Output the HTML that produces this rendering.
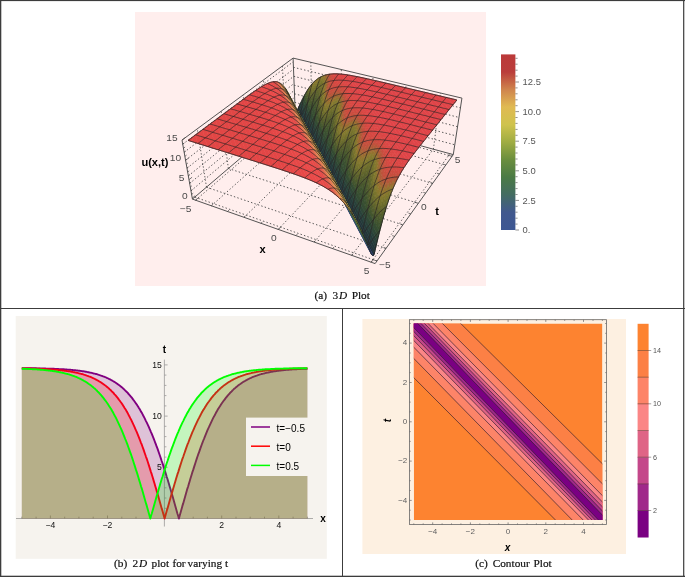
<!DOCTYPE html>
<html><head><meta charset="utf-8"><title>Figure</title>
<style>html,body{margin:0;padding:0;background:#fff}svg{display:block}</style></head>
<body>
<svg width="685" height="577" viewBox="0 0 685 577">
<rect width="685" height="577" fill="#fff"/>
<rect x="135" y="12" width="351" height="274" fill="#ffeeed"/>
<g transform="translate(135,12) scale(1.1086,1)">
<g stroke="#505050" stroke-width="0.9" stroke-dasharray="1.3 2" fill="none">
<line x1="54.6" y1="188.2" x2="147.0" y2="100.4" />
<line x1="54.0" y1="185.1" x2="218.3" y2="249.0" />
<line x1="68.9" y1="193.8" x2="159.5" y2="104.2" />
<line x1="64.5" y1="175.2" x2="226.4" y2="236.4" />
<line x1="159.5" y1="104.2" x2="158.6" y2="50.3" />
<line x1="64.5" y1="175.2" x2="56.2" y2="116.8" />
<line x1="98.4" y1="205.3" x2="185.4" y2="112.0" />
<line x1="84.2" y1="156.5" x2="241.7" y2="212.9" />
<line x1="185.4" y1="112.0" x2="186.1" y2="57.5" />
<line x1="84.2" y1="156.5" x2="77.8" y2="99.2" />
<line x1="129.2" y1="217.4" x2="212.3" y2="120.1" />
<line x1="102.6" y1="139.2" x2="255.6" y2="191.3" />
<line x1="212.3" y1="120.1" x2="214.7" y2="65.0" />
<line x1="102.6" y1="139.2" x2="97.6" y2="82.9" />
<line x1="161.6" y1="230.0" x2="240.2" y2="128.4" />
<line x1="119.6" y1="123.1" x2="268.5" y2="171.4" />
<line x1="240.2" y1="128.4" x2="244.5" y2="72.9" />
<line x1="119.6" y1="123.1" x2="115.9" y2="67.9" />
<line x1="195.5" y1="243.3" x2="269.2" y2="137.2" />
<line x1="135.5" y1="108.1" x2="280.4" y2="153.0" />
<line x1="269.2" y1="137.2" x2="275.6" y2="81.0" />
<line x1="135.5" y1="108.1" x2="133.0" y2="54.0" />
<line x1="213.0" y1="250.2" x2="284.1" y2="141.7" />
<line x1="143.0" y1="101.0" x2="286.0" y2="144.3" />
<line x1="144.1" y1="90.3" x2="288.5" y2="132.8" />
<line x1="143.8" y1="81.8" x2="289.7" y2="123.9" />
<line x1="143.5" y1="73.2" x2="291.0" y2="114.7" />
<line x1="143.2" y1="64.3" x2="292.2" y2="105.4" />
<line x1="142.9" y1="55.3" x2="293.6" y2="95.8" />
<line x1="50.5" y1="178.8" x2="144.2" y2="92.0" />
<line x1="49.3" y1="171.4" x2="144.0" y2="85.3" />
<line x1="48.1" y1="163.9" x2="143.7" y2="78.4" />
<line x1="46.9" y1="156.2" x2="143.5" y2="71.4" />
<line x1="45.6" y1="148.3" x2="143.2" y2="64.3" />
<line x1="44.3" y1="140.3" x2="143.0" y2="57.1" />
<line x1="43.0" y1="132.2" x2="142.7" y2="49.8" />
</g>
<g stroke="#4a4a4a" stroke-width="0.9" fill="none">
<line x1="51.8" y1="187.1" x2="216.6" y2="251.6" />
<line x1="216.6" y1="251.6" x2="287.1" y2="142.6" />
<line x1="287.1" y1="142.6" x2="144.5" y2="99.6" />
<line x1="144.5" y1="99.6" x2="51.8" y2="187.1" />
<line x1="51.8" y1="187.1" x2="42.4" y2="128.1" />
<line x1="144.5" y1="99.6" x2="142.6" y2="46.1" />
<line x1="287.1" y1="142.6" x2="294.9" y2="86.1" />
<line x1="42.4" y1="128.1" x2="142.6" y2="46.1" />
<line x1="142.6" y1="46.1" x2="294.9" y2="86.1" />
</g>
<g stroke-width="0.6" stroke-linejoin="round">
<polygon points="285.7,86.7 288.7,90.3 290.3,88.0 290.3,88.0" fill="#e04448" stroke="#e04448"/>
<polygon points="281.1,85.5 287.0,92.6 288.7,90.3 285.7,86.7" fill="#e04448" stroke="#e04448"/>
<polygon points="276.5,84.3 285.3,94.9 287.0,92.6 281.1,85.5" fill="#e04448" stroke="#e04448"/>
<polygon points="272.1,83.1 283.6,97.2 285.3,94.9 276.5,84.3" fill="#e04448" stroke="#e04448"/>
<polygon points="267.7,82.0 281.9,99.6 283.6,97.2 272.1,83.1" fill="#e04448" stroke="#e04448"/>
<polygon points="263.4,80.8 280.2,101.9 281.9,99.6 267.7,82.0" fill="#e04448" stroke="#e04448"/>
<polygon points="259.2,79.7 278.5,104.2 280.2,101.9 263.4,80.8" fill="#e04448" stroke="#e04448"/>
<polygon points="255.1,78.6 276.9,106.5 278.5,104.2 259.2,79.7" fill="#e04448" stroke="#e04448"/>
<polygon points="251.0,77.6 275.2,108.8 276.9,106.5 255.1,78.6" fill="#e04448" stroke="#e04448"/>
<polygon points="247.0,76.5 273.5,111.1 275.2,108.8 251.0,77.6" fill="#e04448" stroke="#e04448"/>
<polygon points="243.1,75.5 271.9,113.4 273.5,111.1 247.0,76.5" fill="#e04448" stroke="#e04448"/>
<polygon points="239.3,74.5 270.2,115.7 271.9,113.4 243.1,75.5" fill="#e04448" stroke="#e04448"/>
<polygon points="235.5,73.5 268.5,118.0 270.2,115.7 239.3,74.5" fill="#e04448" stroke="#e04448"/>
<polygon points="231.8,72.5 266.9,120.3 268.5,118.0 235.5,73.5" fill="#e04448" stroke="#e04448"/>
<polygon points="228.2,71.6 265.2,122.5 266.9,120.3 231.8,72.5" fill="#e04448" stroke="#e04448"/>
<polygon points="224.6,70.6 263.6,124.8 265.2,122.5 228.2,71.6" fill="#e04448" stroke="#e04448"/>
<polygon points="221.1,69.7 262.0,127.1 263.6,124.8 224.6,70.6" fill="#e04448" stroke="#e04448"/>
<polygon points="217.7,68.9 260.3,129.3 262.0,127.1 221.1,69.7" fill="#e04448" stroke="#e04448"/>
<polygon points="214.4,68.0 258.7,131.6 260.3,129.3 217.7,68.9" fill="#e04448" stroke="#e04448"/>
<polygon points="211.1,67.2 257.1,133.8 258.7,131.6 214.4,68.0" fill="#e04448" stroke="#e04448"/>
<polygon points="207.9,66.4 255.5,136.1 257.1,133.8 211.1,67.2" fill="#e04448" stroke="#e04448"/>
<polygon points="204.8,65.6 253.9,138.3 255.5,136.1 207.9,66.4" fill="#e04448" stroke="#e04448"/>
<polygon points="201.7,64.9 252.4,140.6 253.9,138.3 204.8,65.6" fill="#e04448" stroke="#e04448"/>
<polygon points="198.7,64.3 250.8,142.8 252.4,140.6 201.7,64.9" fill="#e04448" stroke="#e04448"/>
<polygon points="195.8,63.7 249.3,145.1 250.8,142.8 198.7,64.3" fill="#e04448" stroke="#e04448"/>
<polygon points="193.0,63.1 247.7,147.4 249.3,145.1 195.8,63.7" fill="#e04448" stroke="#e04448"/>
<polygon points="190.2,62.6 246.2,149.8 247.7,147.4 193.0,63.1" fill="#df4547" stroke="#df4547"/>
<polygon points="187.5,62.3 244.7,152.2 246.2,149.8 190.2,62.6" fill="#df4547" stroke="#df4547"/>
<polygon points="184.8,62.0 186.0,63.9 188.7,64.1 187.5,62.3" fill="#de4546" stroke="#de4546"/>
<polygon points="186.0,63.9 187.2,65.8 189.9,66.0 188.7,64.1" fill="#de4546" stroke="#de4546"/>
<polygon points="187.2,65.8 188.5,67.8 191.1,67.9 189.9,66.0" fill="#de4546" stroke="#de4546"/>
<polygon points="188.5,67.8 189.7,69.8 192.3,69.9 191.1,67.9" fill="#de4546" stroke="#de4546"/>
<polygon points="189.7,69.8 191.0,71.8 193.5,71.8 192.3,69.9" fill="#de4546" stroke="#de4546"/>
<polygon points="191.0,71.8 192.2,73.8 194.8,73.8 193.5,71.8" fill="#de4546" stroke="#de4546"/>
<polygon points="192.2,73.8 193.5,75.8 196.0,75.8 194.8,73.8" fill="#de4546" stroke="#de4546"/>
<polygon points="193.5,75.8 194.8,77.9 197.3,77.8 196.0,75.8" fill="#de4546" stroke="#de4546"/>
<polygon points="194.8,77.9 196.1,80.0 198.6,79.8 197.3,77.8" fill="#de4546" stroke="#de4546"/>
<polygon points="196.1,80.0 197.5,82.1 199.9,81.8 198.6,79.8" fill="#de4546" stroke="#de4546"/>
<polygon points="197.5,82.1 198.8,84.2 201.2,83.9 199.9,81.8" fill="#de4546" stroke="#de4546"/>
<polygon points="198.8,84.2 200.2,86.3 202.6,86.0 201.2,83.9" fill="#de4546" stroke="#de4546"/>
<polygon points="200.2,86.3 201.5,88.5 203.9,88.1 202.6,86.0" fill="#de4546" stroke="#de4546"/>
<polygon points="201.5,88.5 202.9,90.7 205.3,90.3 203.9,88.1" fill="#de4546" stroke="#de4546"/>
<polygon points="202.9,90.7 204.3,92.9 206.7,92.4 205.3,90.3" fill="#de4546" stroke="#de4546"/>
<polygon points="204.3,92.9 205.7,95.2 208.0,94.6 206.7,92.4" fill="#de4546" stroke="#de4546"/>
<polygon points="205.7,95.2 207.2,97.5 209.4,96.8 208.0,94.6" fill="#de4546" stroke="#de4546"/>
<polygon points="207.2,97.5 208.6,99.8 210.9,99.0 209.4,96.8" fill="#de4546" stroke="#de4546"/>
<polygon points="208.6,99.8 210.1,102.1 212.3,101.3 210.9,99.0" fill="#de4546" stroke="#de4546"/>
<polygon points="210.1,102.1 211.5,104.4 213.8,103.6 212.3,101.3" fill="#de4546" stroke="#de4546"/>
<polygon points="211.5,104.4 213.0,106.8 215.2,105.9 213.8,103.6" fill="#de4546" stroke="#de4546"/>
<polygon points="213.0,106.8 214.6,109.2 216.7,108.2 215.2,105.9" fill="#de4546" stroke="#de4546"/>
<polygon points="214.6,109.2 216.1,111.6 218.2,110.6 216.7,108.2" fill="#de4546" stroke="#de4546"/>
<polygon points="216.1,111.6 217.6,114.1 219.7,113.0 218.2,110.6" fill="#de4546" stroke="#de4546"/>
<polygon points="217.6,114.1 219.2,116.6 221.3,115.4 219.7,113.0" fill="#de4546" stroke="#de4546"/>
<polygon points="219.2,116.6 220.8,119.1 222.8,117.8 221.3,115.4" fill="#de4546" stroke="#de4546"/>
<polygon points="220.8,119.1 222.4,121.6 224.4,120.3 222.8,117.8" fill="#de4546" stroke="#de4546"/>
<polygon points="222.4,121.6 224.0,124.2 226.0,122.8 224.4,120.3" fill="#de4546" stroke="#de4546"/>
<polygon points="224.0,124.2 225.7,126.8 227.6,125.3 226.0,122.8" fill="#de4546" stroke="#de4546"/>
<polygon points="225.7,126.8 227.3,129.5 229.2,127.8 227.6,125.3" fill="#de4546" stroke="#de4546"/>
<polygon points="227.3,129.5 229.0,132.1 230.8,130.4 229.2,127.8" fill="#de4546" stroke="#de4546"/>
<polygon points="229.0,132.1 230.7,134.8 232.5,133.0 230.8,130.4" fill="#de4546" stroke="#de4546"/>
<polygon points="230.7,134.8 232.4,137.6 234.2,135.7 232.5,133.0" fill="#de4546" stroke="#de4546"/>
<polygon points="232.4,137.6 234.2,140.3 235.9,138.3 234.2,135.7" fill="#de4546" stroke="#de4546"/>
<polygon points="234.2,140.3 235.9,143.1 237.6,141.1 235.9,138.3" fill="#de4546" stroke="#de4546"/>
<polygon points="235.9,143.1 237.7,146.0 239.3,143.8 237.6,141.1" fill="#de4546" stroke="#de4546"/>
<polygon points="237.7,146.0 239.5,148.8 241.1,146.6 239.3,143.8" fill="#de4546" stroke="#de4546"/>
<polygon points="239.5,148.8 241.4,151.8 242.9,149.4 241.1,146.6" fill="#de4546" stroke="#de4546"/>
<polygon points="241.4,151.8 243.2,154.7 244.7,152.2 242.9,149.4" fill="#de4546" stroke="#de4546"/>
<polygon points="182.2,61.8 183.4,63.7 186.0,63.9 184.8,62.0" fill="#dc4645" stroke="#dc4645"/>
<polygon points="183.4,63.7 184.6,65.7 187.2,65.7 186.0,63.9" fill="#dc4645" stroke="#dc4645"/>
<polygon points="184.6,65.7 185.9,67.6 188.4,67.6 187.2,65.7" fill="#dc4645" stroke="#dc4645"/>
<polygon points="185.9,67.6 187.1,69.6 189.6,69.6 188.4,67.6" fill="#dc4645" stroke="#dc4645"/>
<polygon points="187.1,69.6 188.3,71.6 190.8,71.5 189.6,69.6" fill="#dc4645" stroke="#dc4645"/>
<polygon points="188.3,71.6 189.6,73.6 192.1,73.5 190.8,71.5" fill="#dc4645" stroke="#dc4645"/>
<polygon points="189.6,73.6 190.8,75.6 193.3,75.5 192.1,73.5" fill="#db4644" stroke="#db4644"/>
<polygon points="190.8,75.6 192.1,77.7 194.6,77.5 193.3,75.5" fill="#db4644" stroke="#db4644"/>
<polygon points="192.1,77.7 193.4,79.8 195.8,79.5 194.6,77.5" fill="#dc4645" stroke="#dc4645"/>
<polygon points="193.4,79.8 194.7,81.9 197.1,81.5 195.8,79.5" fill="#dc4645" stroke="#dc4645"/>
<polygon points="194.7,81.9 196.1,84.0 198.4,83.6 197.1,81.5" fill="#dc4645" stroke="#dc4645"/>
<polygon points="196.1,84.0 197.4,86.1 199.8,85.7 198.4,83.6" fill="#dc4645" stroke="#dc4645"/>
<polygon points="197.4,86.1 198.7,88.3 201.1,87.8 199.8,85.7" fill="#dc4645" stroke="#dc4645"/>
<polygon points="198.7,88.3 200.1,90.5 202.4,89.9 201.1,87.8" fill="#dc4645" stroke="#dc4645"/>
<polygon points="200.1,90.5 201.5,92.7 203.8,92.1 202.4,89.9" fill="#dc4645" stroke="#dc4645"/>
<polygon points="201.5,92.7 202.9,94.9 205.2,94.3 203.8,92.1" fill="#dc4645" stroke="#dc4645"/>
<polygon points="202.9,94.9 204.3,97.2 206.5,96.5 205.2,94.3" fill="#dc4645" stroke="#dc4645"/>
<polygon points="204.3,97.2 205.7,99.5 208.0,98.7 206.5,96.5" fill="#dc4645" stroke="#dc4645"/>
<polygon points="205.7,99.5 207.2,101.8 209.4,101.0 208.0,98.7" fill="#db4644" stroke="#db4644"/>
<polygon points="207.2,101.8 208.6,104.2 210.8,103.2 209.4,101.0" fill="#dc4645" stroke="#dc4645"/>
<polygon points="208.6,104.2 210.1,106.5 212.3,105.6 210.8,103.2" fill="#dc4645" stroke="#dc4645"/>
<polygon points="210.1,106.5 211.6,108.9 213.7,107.9 212.3,105.6" fill="#dc4645" stroke="#dc4645"/>
<polygon points="211.6,108.9 213.1,111.4 215.2,110.2 213.7,107.9" fill="#dc4645" stroke="#dc4645"/>
<polygon points="213.1,111.4 214.6,113.8 216.7,112.6 215.2,110.2" fill="#dc4645" stroke="#dc4645"/>
<polygon points="214.6,113.8 216.2,116.3 218.2,115.0 216.7,112.6" fill="#dc4645" stroke="#dc4645"/>
<polygon points="216.2,116.3 217.7,118.8 219.8,117.5 218.2,115.0" fill="#dc4645" stroke="#dc4645"/>
<polygon points="217.7,118.8 219.3,121.3 221.3,119.9 219.8,117.5" fill="#dc4645" stroke="#dc4645"/>
<polygon points="219.3,121.3 220.9,123.9 222.9,122.4 221.3,119.9" fill="#dc4645" stroke="#dc4645"/>
<polygon points="220.9,123.9 222.6,126.5 224.5,124.9 222.9,122.4" fill="#dc4645" stroke="#dc4645"/>
<polygon points="222.6,126.5 224.2,129.1 226.1,127.5 224.5,124.9" fill="#db4644" stroke="#db4644"/>
<polygon points="224.2,129.1 225.8,131.8 227.7,130.1 226.1,127.5" fill="#db4644" stroke="#db4644"/>
<polygon points="225.8,131.8 227.5,134.5 229.3,132.7 227.7,130.1" fill="#dc4645" stroke="#dc4645"/>
<polygon points="227.5,134.5 229.2,137.2 231.0,135.3 229.3,132.7" fill="#dc4645" stroke="#dc4645"/>
<polygon points="229.2,137.2 230.9,140.0 232.7,138.0 231.0,135.3" fill="#dc4645" stroke="#dc4645"/>
<polygon points="230.9,140.0 232.7,142.8 234.4,140.7 232.7,138.0" fill="#dc4645" stroke="#dc4645"/>
<polygon points="232.7,142.8 234.5,145.6 236.1,143.4 234.4,140.7" fill="#dc4645" stroke="#dc4645"/>
<polygon points="234.5,145.6 236.2,148.5 237.8,146.2 236.1,143.4" fill="#dc4645" stroke="#dc4645"/>
<polygon points="236.2,148.5 238.0,151.4 239.6,149.0 237.8,146.2" fill="#dc4645" stroke="#dc4645"/>
<polygon points="238.0,151.4 239.9,154.3 241.4,151.8 239.6,149.0" fill="#dc4645" stroke="#dc4645"/>
<polygon points="239.9,154.3 241.7,157.3 243.2,154.7 241.4,151.8" fill="#dc4645" stroke="#dc4645"/>
<polygon points="179.7,61.8 180.9,63.7 183.4,63.7 182.2,61.8" fill="#da4644" stroke="#da4644"/>
<polygon points="180.9,63.7 182.1,65.6 184.6,65.6 183.4,63.7" fill="#db4644" stroke="#db4644"/>
<polygon points="182.1,65.6 183.3,67.6 185.8,67.5 184.6,65.6" fill="#db4644" stroke="#db4644"/>
<polygon points="183.3,67.6 184.5,69.5 187.0,69.4 185.8,67.5" fill="#da4644" stroke="#da4644"/>
<polygon points="184.5,69.5 185.7,71.5 188.2,71.3 187.0,69.4" fill="#da4643" stroke="#da4643"/>
<polygon points="185.7,71.5 187.0,73.5 189.4,73.3 188.2,71.3" fill="#d94743" stroke="#d94743"/>
<polygon points="187.0,73.5 188.2,75.6 190.6,75.3 189.4,73.3" fill="#d94743" stroke="#d94743"/>
<polygon points="188.2,75.6 189.5,77.6 191.9,77.3 190.6,75.3" fill="#d94742" stroke="#d94742"/>
<polygon points="189.5,77.6 190.8,79.7 193.1,79.3 191.9,77.3" fill="#d94742" stroke="#d94742"/>
<polygon points="190.8,79.7 192.1,81.8 194.4,81.4 193.1,79.3" fill="#d94743" stroke="#d94743"/>
<polygon points="192.1,81.8 193.4,83.9 195.7,83.4 194.4,81.4" fill="#da4743" stroke="#da4743"/>
<polygon points="193.4,83.9 194.7,86.0 197.0,85.5 195.7,83.4" fill="#da4643" stroke="#da4643"/>
<polygon points="194.7,86.0 196.0,88.2 198.3,87.6 197.0,85.5" fill="#db4644" stroke="#db4644"/>
<polygon points="196.0,88.2 197.4,90.4 199.6,89.7 198.3,87.6" fill="#db4644" stroke="#db4644"/>
<polygon points="197.4,90.4 198.7,92.6 201.0,91.9 199.6,89.7" fill="#db4644" stroke="#db4644"/>
<polygon points="198.7,92.6 200.1,94.8 202.3,94.1 201.0,91.9" fill="#da4644" stroke="#da4644"/>
<polygon points="200.1,94.8 201.5,97.1 203.7,96.3 202.3,94.1" fill="#da4743" stroke="#da4743"/>
<polygon points="201.5,97.1 202.9,99.4 205.1,98.5 203.7,96.3" fill="#d94743" stroke="#d94743"/>
<polygon points="202.9,99.4 204.3,101.7 206.5,100.7 205.1,98.5" fill="#d94743" stroke="#d94743"/>
<polygon points="204.3,101.7 205.8,104.0 207.9,103.0 206.5,100.7" fill="#d94742" stroke="#d94742"/>
<polygon points="205.8,104.0 207.2,106.4 209.3,105.3 207.9,103.0" fill="#d94743" stroke="#d94743"/>
<polygon points="207.2,106.4 208.7,108.8 210.8,107.6 209.3,105.3" fill="#d94743" stroke="#d94743"/>
<polygon points="208.7,108.8 210.2,111.2 212.3,110.0 210.8,107.6" fill="#da4643" stroke="#da4643"/>
<polygon points="210.2,111.2 211.7,113.6 213.7,112.4 212.3,110.0" fill="#da4644" stroke="#da4644"/>
<polygon points="211.7,113.6 213.2,116.1 215.2,114.8 213.7,112.4" fill="#db4644" stroke="#db4644"/>
<polygon points="213.2,116.1 214.8,118.6 216.8,117.2 215.2,114.8" fill="#db4644" stroke="#db4644"/>
<polygon points="214.8,118.6 216.3,121.1 218.3,119.7 216.8,117.2" fill="#da4644" stroke="#da4644"/>
<polygon points="216.3,121.1 217.9,123.7 219.8,122.1 218.3,119.7" fill="#da4643" stroke="#da4643"/>
<polygon points="217.9,123.7 219.5,126.3 221.4,124.7 219.8,122.1" fill="#d94743" stroke="#d94743"/>
<polygon points="219.5,126.3 221.1,128.9 223.0,127.2 221.4,124.7" fill="#d94743" stroke="#d94743"/>
<polygon points="221.1,128.9 222.8,131.6 224.6,129.8 223.0,127.2" fill="#d94742" stroke="#d94742"/>
<polygon points="222.8,131.6 224.4,134.2 226.2,132.4 224.6,129.8" fill="#d94742" stroke="#d94742"/>
<polygon points="224.4,134.2 226.1,137.0 227.9,135.0 226.2,132.4" fill="#d94743" stroke="#d94743"/>
<polygon points="226.1,137.0 227.8,139.7 229.5,137.7 227.9,135.0" fill="#d94743" stroke="#d94743"/>
<polygon points="227.8,139.7 229.5,142.5 231.2,140.4 229.5,137.7" fill="#da4643" stroke="#da4643"/>
<polygon points="229.5,142.5 231.2,145.3 232.9,143.1 231.2,140.4" fill="#da4644" stroke="#da4644"/>
<polygon points="231.2,145.3 233.0,148.2 234.6,145.9 232.9,143.1" fill="#db4644" stroke="#db4644"/>
<polygon points="233.0,148.2 234.8,151.0 236.4,148.7 234.6,145.9" fill="#db4644" stroke="#db4644"/>
<polygon points="234.8,151.0 236.6,154.0 238.1,151.5 236.4,148.7" fill="#da4644" stroke="#da4644"/>
<polygon points="236.6,154.0 238.4,156.9 239.9,154.4 238.1,151.5" fill="#da4643" stroke="#da4643"/>
<polygon points="238.4,156.9 240.3,159.9 241.7,157.3 239.9,154.4" fill="#d94743" stroke="#d94743"/>
<polygon points="177.3,61.9 178.5,63.8 180.9,63.7 179.7,61.8" fill="#d84742" stroke="#d84742"/>
<polygon points="178.5,63.8 179.6,65.8 182.1,65.5 180.9,63.7" fill="#d94743" stroke="#d94743"/>
<polygon points="179.6,65.8 180.8,67.7 183.2,67.4 182.1,65.5" fill="#d94743" stroke="#d94743"/>
<polygon points="180.8,67.7 182.0,69.7 184.4,69.4 183.2,67.4" fill="#d94743" stroke="#d94743"/>
<polygon points="182.0,69.7 183.2,71.6 185.6,71.3 184.4,69.4" fill="#d94743" stroke="#d94743"/>
<polygon points="183.2,71.6 184.5,73.6 186.8,73.3 185.6,71.3" fill="#d84742" stroke="#d84742"/>
<polygon points="184.5,73.6 185.7,75.7 188.0,75.2 186.8,73.3" fill="#d44841" stroke="#d44841"/>
<polygon points="185.7,75.7 186.9,77.7 189.3,77.2 188.0,75.2" fill="#d14a40" stroke="#d14a40"/>
<polygon points="186.9,77.7 188.2,79.8 190.5,79.2 189.3,77.2" fill="#d04a40" stroke="#d04a40"/>
<polygon points="188.2,79.8 189.5,81.9 191.8,81.3 190.5,79.2" fill="#d04a40" stroke="#d04a40"/>
<polygon points="189.5,81.9 190.8,84.0 193.0,83.3 191.8,81.3" fill="#d24940" stroke="#d24940"/>
<polygon points="190.8,84.0 192.1,86.1 194.3,85.4 193.0,83.3" fill="#d64841" stroke="#d64841"/>
<polygon points="192.1,86.1 193.4,88.3 195.6,87.5 194.3,85.4" fill="#d84742" stroke="#d84742"/>
<polygon points="193.4,88.3 194.7,90.4 196.9,89.7 195.6,87.5" fill="#d94743" stroke="#d94743"/>
<polygon points="194.7,90.4 196.0,92.6 198.2,91.8 196.9,89.7" fill="#d94743" stroke="#d94743"/>
<polygon points="196.0,92.6 197.4,94.9 199.6,94.0 198.2,91.8" fill="#d94743" stroke="#d94743"/>
<polygon points="197.4,94.9 198.8,97.1 200.9,96.2 199.6,94.0" fill="#d94742" stroke="#d94742"/>
<polygon points="198.8,97.1 200.2,99.4 202.3,98.4 200.9,96.2" fill="#d64842" stroke="#d64842"/>
<polygon points="200.2,99.4 201.6,101.7 203.7,100.6 202.3,98.4" fill="#d34941" stroke="#d34941"/>
<polygon points="201.6,101.7 203.0,104.0 205.1,102.9 203.7,100.6" fill="#d04a40" stroke="#d04a40"/>
<polygon points="203.0,104.0 204.4,106.4 206.5,105.2 205.1,102.9" fill="#d04a40" stroke="#d04a40"/>
<polygon points="204.4,106.4 205.9,108.7 207.9,107.5 206.5,105.2" fill="#d14a40" stroke="#d14a40"/>
<polygon points="205.9,108.7 207.3,111.2 209.4,109.9 207.9,107.5" fill="#d44941" stroke="#d44941"/>
<polygon points="207.3,111.2 208.8,113.6 210.8,112.2 209.4,109.9" fill="#d74742" stroke="#d74742"/>
<polygon points="208.8,113.6 210.3,116.1 212.3,114.6 210.8,112.2" fill="#d94742" stroke="#d94742"/>
<polygon points="210.3,116.1 211.8,118.5 213.8,117.0 212.3,114.6" fill="#d94743" stroke="#d94743"/>
<polygon points="211.8,118.5 213.4,121.1 215.3,119.5 213.8,117.0" fill="#d94743" stroke="#d94743"/>
<polygon points="213.4,121.1 214.9,123.6 216.9,122.0 215.3,119.5" fill="#d94743" stroke="#d94743"/>
<polygon points="214.9,123.6 216.5,126.2 218.4,124.5 216.9,122.0" fill="#d84742" stroke="#d84742"/>
<polygon points="216.5,126.2 218.1,128.8 220.0,127.0 218.4,124.5" fill="#d54841" stroke="#d54841"/>
<polygon points="218.1,128.8 219.7,131.4 221.5,129.6 220.0,127.0" fill="#d24940" stroke="#d24940"/>
<polygon points="219.7,131.4 221.3,134.1 223.1,132.2 221.5,129.6" fill="#d04a40" stroke="#d04a40"/>
<polygon points="221.3,134.1 223.0,136.8 224.8,134.8 223.1,132.2" fill="#d04a40" stroke="#d04a40"/>
<polygon points="223.0,136.8 224.7,139.6 226.4,137.5 224.8,134.8" fill="#d24940" stroke="#d24940"/>
<polygon points="224.7,139.6 226.4,142.3 228.1,140.2 226.4,137.5" fill="#d54841" stroke="#d54841"/>
<polygon points="226.4,142.3 228.1,145.1 229.7,142.9 228.1,140.2" fill="#d84742" stroke="#d84742"/>
<polygon points="228.1,145.1 229.8,148.0 231.4,145.6 229.7,142.9" fill="#d94743" stroke="#d94743"/>
<polygon points="229.8,148.0 231.6,150.9 233.2,148.4 231.4,145.6" fill="#d94743" stroke="#d94743"/>
<polygon points="231.6,150.9 233.3,153.8 234.9,151.3 233.2,148.4" fill="#d94743" stroke="#d94743"/>
<polygon points="233.3,153.8 235.1,156.7 236.7,154.1 234.9,151.3" fill="#d94742" stroke="#d94742"/>
<polygon points="235.1,156.7 237.0,159.7 238.5,157.0 236.7,154.1" fill="#d74742" stroke="#d74742"/>
<polygon points="237.0,159.7 238.8,162.7 240.3,159.9 238.5,157.0" fill="#d34941" stroke="#d34941"/>
<polygon points="175.0,62.2 176.1,64.1 178.5,63.8 177.3,61.9" fill="#cc4c3f" stroke="#cc4c3f"/>
<polygon points="176.1,64.1 177.3,66.1 179.6,65.7 178.5,63.8" fill="#d14a40" stroke="#d14a40"/>
<polygon points="177.3,66.1 178.4,68.0 180.7,67.6 179.6,65.7" fill="#d54841" stroke="#d54841"/>
<polygon points="178.4,68.0 179.6,69.9 181.9,69.5 180.7,67.6" fill="#d84742" stroke="#d84742"/>
<polygon points="179.6,69.9 180.8,71.9 183.1,71.4 181.9,69.5" fill="#d84742" stroke="#d84742"/>
<polygon points="180.8,71.9 182.0,73.9 184.3,73.4 183.1,71.4" fill="#d54841" stroke="#d54841"/>
<polygon points="182.0,73.9 183.2,75.9 185.5,75.3 184.3,73.4" fill="#d14a40" stroke="#d14a40"/>
<polygon points="183.2,75.9 184.4,78.0 186.7,77.3 185.5,75.3" fill="#cc4c3f" stroke="#cc4c3f"/>
<polygon points="184.4,78.0 185.7,80.0 187.9,79.3 186.7,77.3" fill="#c74d3d" stroke="#c74d3d"/>
<polygon points="185.7,80.0 186.9,82.1 189.2,81.4 187.9,79.3" fill="#c54f3d" stroke="#c54f3d"/>
<polygon points="186.9,82.1 188.2,84.2 190.4,83.4 189.2,81.4" fill="#c64e3d" stroke="#c64e3d"/>
<polygon points="188.2,84.2 189.5,86.3 191.7,85.5 190.4,83.4" fill="#c94d3e" stroke="#c94d3e"/>
<polygon points="189.5,86.3 190.8,88.5 193.0,87.6 191.7,85.5" fill="#ce4b3f" stroke="#ce4b3f"/>
<polygon points="190.8,88.5 192.1,90.6 194.3,89.7 193.0,87.6" fill="#d34941" stroke="#d34941"/>
<polygon points="192.1,90.6 193.4,92.8 195.6,91.9 194.3,89.7" fill="#d74842" stroke="#d74842"/>
<polygon points="193.4,92.8 194.8,95.1 196.9,94.0 195.6,91.9" fill="#d84742" stroke="#d84742"/>
<polygon points="194.8,95.1 196.1,97.3 198.2,96.2 196.9,94.0" fill="#d74742" stroke="#d74742"/>
<polygon points="196.1,97.3 197.5,99.6 199.6,98.4 198.2,96.2" fill="#d34941" stroke="#d34941"/>
<polygon points="197.5,99.6 198.9,101.9 200.9,100.7 199.6,98.4" fill="#cf4b3f" stroke="#cf4b3f"/>
<polygon points="198.9,101.9 200.3,104.2 202.3,102.9 200.9,100.7" fill="#ca4d3e" stroke="#ca4d3e"/>
<polygon points="200.3,104.2 201.7,106.5 203.7,105.2 202.3,102.9" fill="#c64e3d" stroke="#c64e3d"/>
<polygon points="201.7,106.5 203.1,108.9 205.1,107.5 203.7,105.2" fill="#c54f3d" stroke="#c54f3d"/>
<polygon points="203.1,108.9 204.5,111.3 206.6,109.9 205.1,107.5" fill="#c74e3d" stroke="#c74e3d"/>
<polygon points="204.5,111.3 206.0,113.7 208.0,112.2 206.6,109.9" fill="#cb4c3e" stroke="#cb4c3e"/>
<polygon points="206.0,113.7 207.5,116.2 209.5,114.6 208.0,112.2" fill="#d04a40" stroke="#d04a40"/>
<polygon points="207.5,116.2 209.0,118.6 210.9,117.0 209.5,114.6" fill="#d54841" stroke="#d54841"/>
<polygon points="209.0,118.6 210.5,121.2 212.4,119.5 210.9,117.0" fill="#d84742" stroke="#d84742"/>
<polygon points="210.5,121.2 212.0,123.7 213.9,122.0 212.4,119.5" fill="#d84742" stroke="#d84742"/>
<polygon points="212.0,123.7 213.6,126.3 215.4,124.5 213.9,122.0" fill="#d64841" stroke="#d64841"/>
<polygon points="213.6,126.3 215.1,128.9 217.0,127.0 215.4,124.5" fill="#d24a40" stroke="#d24a40"/>
<polygon points="215.1,128.9 216.7,131.5 218.6,129.5 217.0,127.0" fill="#cd4b3f" stroke="#cd4b3f"/>
<polygon points="216.7,131.5 218.3,134.2 220.1,132.1 218.6,129.5" fill="#c84d3e" stroke="#c84d3e"/>
<polygon points="218.3,134.2 220.0,136.8 221.7,134.7 220.1,132.1" fill="#c54e3d" stroke="#c54e3d"/>
<polygon points="220.0,136.8 221.6,139.6 223.3,137.4 221.7,134.7" fill="#c54e3d" stroke="#c54e3d"/>
<polygon points="221.6,139.6 223.3,142.3 225.0,140.1 223.3,137.4" fill="#c84d3e" stroke="#c84d3e"/>
<polygon points="223.3,142.3 225.0,145.1 226.6,142.8 225.0,140.1" fill="#cd4b3f" stroke="#cd4b3f"/>
<polygon points="225.0,145.1 226.7,148.0 228.3,145.5 226.6,142.8" fill="#d24940" stroke="#d24940"/>
<polygon points="226.7,148.0 228.4,150.8 230.0,148.3 228.3,145.5" fill="#d64841" stroke="#d64841"/>
<polygon points="228.4,150.8 230.1,153.7 231.7,151.1 230.0,148.3" fill="#d84742" stroke="#d84742"/>
<polygon points="230.1,153.7 231.9,156.6 233.5,154.0 231.7,151.1" fill="#d74742" stroke="#d74742"/>
<polygon points="231.9,156.6 233.7,159.6 235.2,156.9 233.5,154.0" fill="#d44841" stroke="#d44841"/>
<polygon points="233.7,159.6 235.5,162.6 237.0,159.8 235.2,156.9" fill="#d04a40" stroke="#d04a40"/>
<polygon points="235.5,162.6 237.4,165.7 238.8,162.7 237.0,159.8" fill="#cb4c3e" stroke="#cb4c3e"/>
<polygon points="172.7,62.8 173.8,64.6 176.1,64.1 175.0,62.2" fill="#b7563a" stroke="#b7563a"/>
<polygon points="173.8,64.6 175.0,66.6 177.2,66.0 176.1,64.1" fill="#c1503c" stroke="#c1503c"/>
<polygon points="175.0,66.6 176.1,68.5 178.4,67.9 177.2,66.0" fill="#ca4c3e" stroke="#ca4c3e"/>
<polygon points="176.1,68.5 177.3,70.4 179.5,69.8 178.4,67.9" fill="#d04a40" stroke="#d04a40"/>
<polygon points="177.3,70.4 178.4,72.4 180.7,71.7 179.5,69.8" fill="#d34941" stroke="#d34941"/>
<polygon points="178.4,72.4 179.6,74.4 181.8,73.6 180.7,71.7" fill="#d34941" stroke="#d34941"/>
<polygon points="179.6,74.4 180.8,76.4 183.0,75.6 181.8,73.6" fill="#cf4a40" stroke="#cf4a40"/>
<polygon points="180.8,76.4 182.0,78.4 184.2,77.6 183.0,75.6" fill="#c94d3e" stroke="#c94d3e"/>
<polygon points="182.0,78.4 183.3,80.5 185.4,79.6 184.2,77.6" fill="#c0513c" stroke="#c0513c"/>
<polygon points="183.3,80.5 184.5,82.5 186.7,81.6 185.4,79.6" fill="#b6573a" stroke="#b6573a"/>
<polygon points="184.5,82.5 185.7,84.6 187.9,83.7 186.7,81.6" fill="#b15939" stroke="#b15939"/>
<polygon points="185.7,84.6 187.0,86.8 189.1,85.8 187.9,83.7" fill="#b35839" stroke="#b35839"/>
<polygon points="187.0,86.8 188.3,88.9 190.4,87.8 189.1,85.8" fill="#bb543b" stroke="#bb543b"/>
<polygon points="188.3,88.9 189.6,91.1 191.7,90.0 190.4,87.8" fill="#c64e3d" stroke="#c64e3d"/>
<polygon points="189.6,91.1 190.9,93.2 193.0,92.1 191.7,90.0" fill="#cd4b3f" stroke="#cd4b3f"/>
<polygon points="190.9,93.2 192.2,95.5 194.3,94.3 193.0,92.1" fill="#d14a40" stroke="#d14a40"/>
<polygon points="192.2,95.5 193.5,97.7 195.6,96.4 194.3,94.3" fill="#d34941" stroke="#d34941"/>
<polygon points="193.5,97.7 194.9,99.9 196.9,98.6 195.6,96.4" fill="#d24940" stroke="#d24940"/>
<polygon points="194.9,99.9 196.2,102.2 198.3,100.9 196.9,98.6" fill="#cd4b3f" stroke="#cd4b3f"/>
<polygon points="196.2,102.2 197.6,104.5 199.6,103.1 198.3,100.9" fill="#c74e3d" stroke="#c74e3d"/>
<polygon points="197.6,104.5 199.0,106.9 201.0,105.4 199.6,103.1" fill="#bc543b" stroke="#bc543b"/>
<polygon points="199.0,106.9 200.4,109.2 202.4,107.7 201.0,105.4" fill="#b35839" stroke="#b35839"/>
<polygon points="200.4,109.2 201.8,111.6 203.8,110.0 202.4,107.7" fill="#b15939" stroke="#b15939"/>
<polygon points="201.8,111.6 203.3,114.0 205.2,112.4 203.8,110.0" fill="#b5573a" stroke="#b5573a"/>
<polygon points="203.3,114.0 204.7,116.5 206.6,114.8 205.2,112.4" fill="#bf523c" stroke="#bf523c"/>
<polygon points="204.7,116.5 206.2,118.9 208.1,117.2 206.6,114.8" fill="#c94d3e" stroke="#c94d3e"/>
<polygon points="206.2,118.9 207.7,121.4 209.6,119.6 208.1,117.2" fill="#cf4b3f" stroke="#cf4b3f"/>
<polygon points="207.7,121.4 209.2,124.0 211.1,122.1 209.6,119.6" fill="#d24940" stroke="#d24940"/>
<polygon points="209.2,124.0 210.7,126.5 212.6,124.6 211.1,122.1" fill="#d34941" stroke="#d34941"/>
<polygon points="210.7,126.5 212.3,129.1 214.1,127.1 212.6,124.6" fill="#d04a40" stroke="#d04a40"/>
<polygon points="212.3,129.1 213.8,131.7 215.6,129.6 214.1,127.1" fill="#cb4c3e" stroke="#cb4c3e"/>
<polygon points="213.8,131.7 215.4,134.4 217.2,132.2 215.6,129.6" fill="#c3503c" stroke="#c3503c"/>
<polygon points="215.4,134.4 217.0,137.0 218.7,134.8 217.2,132.2" fill="#b8563a" stroke="#b8563a"/>
<polygon points="217.0,137.0 218.6,139.8 220.3,137.5 218.7,134.8" fill="#b25939" stroke="#b25939"/>
<polygon points="218.6,139.8 220.2,142.5 221.9,140.1 220.3,137.5" fill="#b25939" stroke="#b25939"/>
<polygon points="220.2,142.5 221.9,145.3 223.6,142.8 221.9,140.1" fill="#b9553a" stroke="#b9553a"/>
<polygon points="221.9,145.3 223.6,148.1 225.2,145.6 223.6,142.8" fill="#c44f3d" stroke="#c44f3d"/>
<polygon points="223.6,148.1 225.3,150.9 226.9,148.3 225.2,145.6" fill="#cb4c3e" stroke="#cb4c3e"/>
<polygon points="225.3,150.9 227.0,153.8 228.6,151.1 226.9,148.3" fill="#d14a40" stroke="#d14a40"/>
<polygon points="227.0,153.8 228.7,156.7 230.3,154.0 228.6,151.1" fill="#d34941" stroke="#d34941"/>
<polygon points="228.7,156.7 230.5,159.7 232.0,156.8 230.3,154.0" fill="#d24940" stroke="#d24940"/>
<polygon points="230.5,159.7 232.3,162.7 233.8,159.8 232.0,156.8" fill="#ce4b3f" stroke="#ce4b3f"/>
<polygon points="232.3,162.7 234.1,165.7 235.6,162.7 233.8,159.8" fill="#c84d3e" stroke="#c84d3e"/>
<polygon points="234.1,165.7 235.9,168.8 237.4,165.7 235.6,162.7" fill="#be523b" stroke="#be523b"/>
<polygon points="170.5,63.5 171.6,65.4 173.8,64.6 172.7,62.8" fill="#9e6832" stroke="#9e6832"/>
<polygon points="171.6,65.4 172.7,67.3 174.9,66.5 173.8,64.6" fill="#a66235" stroke="#a66235"/>
<polygon points="172.7,67.3 173.9,69.2 176.0,68.4 174.9,66.5" fill="#b35839" stroke="#b35839"/>
<polygon points="173.9,69.2 175.0,71.1 177.2,70.3 176.0,68.4" fill="#c2503c" stroke="#c2503c"/>
<polygon points="175.0,71.1 176.2,73.1 178.3,72.2 177.2,70.3" fill="#cb4c3e" stroke="#cb4c3e"/>
<polygon points="176.2,73.1 177.3,75.1 179.5,74.1 178.3,72.2" fill="#ce4b3f" stroke="#ce4b3f"/>
<polygon points="177.3,75.1 178.5,77.1 180.6,76.1 179.5,74.1" fill="#ce4b3f" stroke="#ce4b3f"/>
<polygon points="178.5,77.1 179.7,79.1 181.8,78.1 180.6,76.1" fill="#c94d3e" stroke="#c94d3e"/>
<polygon points="179.7,79.1 180.9,81.1 183.0,80.1 181.8,78.1" fill="#be523c" stroke="#be523c"/>
<polygon points="180.9,81.1 182.1,83.2 184.2,82.1 183.0,80.1" fill="#b05a39" stroke="#b05a39"/>
<polygon points="182.1,83.2 183.3,85.3 185.4,84.1 184.2,82.1" fill="#a36435" stroke="#a36435"/>
<polygon points="183.3,85.3 184.6,87.4 186.7,86.2 185.4,84.1" fill="#9e6932" stroke="#9e6932"/>
<polygon points="184.6,87.4 185.8,89.5 187.9,88.3 186.7,86.2" fill="#a06733" stroke="#a06733"/>
<polygon points="185.8,89.5 187.1,91.7 189.2,90.4 187.9,88.3" fill="#aa5e37" stroke="#aa5e37"/>
<polygon points="187.1,91.7 188.4,93.9 190.4,92.5 189.2,90.4" fill="#b9553a" stroke="#b9553a"/>
<polygon points="188.4,93.9 189.7,96.1 191.7,94.7 190.4,92.5" fill="#c74e3d" stroke="#c74e3d"/>
<polygon points="189.7,96.1 191.0,98.3 193.0,96.8 191.7,94.7" fill="#cc4c3f" stroke="#cc4c3f"/>
<polygon points="191.0,98.3 192.3,100.5 194.3,99.0 193.0,96.8" fill="#ce4b3f" stroke="#ce4b3f"/>
<polygon points="192.3,100.5 193.7,102.8 195.7,101.3 194.3,99.0" fill="#cc4c3f" stroke="#cc4c3f"/>
<polygon points="193.7,102.8 195.0,105.1 197.0,103.5 195.7,101.3" fill="#c74e3d" stroke="#c74e3d"/>
<polygon points="195.0,105.1 196.4,107.4 198.3,105.8 197.0,103.5" fill="#b9553a" stroke="#b9553a"/>
<polygon points="196.4,107.4 197.8,109.8 199.7,108.1 198.3,105.8" fill="#aa5d37" stroke="#aa5d37"/>
<polygon points="197.8,109.8 199.2,112.1 201.1,110.4 199.7,108.1" fill="#a06733" stroke="#a06733"/>
<polygon points="199.2,112.1 200.6,114.5 202.5,112.7 201.1,110.4" fill="#9e6932" stroke="#9e6932"/>
<polygon points="200.6,114.5 202.0,117.0 203.9,115.1 202.5,112.7" fill="#a36434" stroke="#a36434"/>
<polygon points="202.0,117.0 203.5,119.4 205.3,117.5 203.9,115.1" fill="#af5a39" stroke="#af5a39"/>
<polygon points="203.5,119.4 204.9,121.9 206.8,119.9 205.3,117.5" fill="#be523c" stroke="#be523c"/>
<polygon points="204.9,121.9 206.4,124.4 208.3,122.4 206.8,119.9" fill="#c94d3e" stroke="#c94d3e"/>
<polygon points="206.4,124.4 207.9,127.0 209.7,124.9 208.3,122.4" fill="#ce4b3f" stroke="#ce4b3f"/>
<polygon points="207.9,127.0 209.4,129.5 211.2,127.4 209.7,124.9" fill="#ce4b3f" stroke="#ce4b3f"/>
<polygon points="209.4,129.5 211.0,132.2 212.7,129.9 211.2,127.4" fill="#cb4c3e" stroke="#cb4c3e"/>
<polygon points="211.0,132.2 212.5,134.8 214.3,132.5 212.7,129.9" fill="#c2503c" stroke="#c2503c"/>
<polygon points="212.5,134.8 214.1,137.4 215.8,135.1 214.3,132.5" fill="#b35839" stroke="#b35839"/>
<polygon points="214.1,137.4 215.7,140.1 217.4,137.7 215.8,135.1" fill="#a66236" stroke="#a66236"/>
<polygon points="215.7,140.1 217.3,142.9 219.0,140.4 217.4,137.7" fill="#9f6832" stroke="#9f6832"/>
<polygon points="217.3,142.9 218.9,145.6 220.6,143.1 219.0,140.4" fill="#9f6833" stroke="#9f6833"/>
<polygon points="218.9,145.6 220.6,148.4 222.2,145.8 220.6,143.1" fill="#a76036" stroke="#a76036"/>
<polygon points="220.6,148.4 222.2,151.3 223.8,148.5 222.2,145.8" fill="#b5573a" stroke="#b5573a"/>
<polygon points="222.2,151.3 223.9,154.1 225.5,151.3 223.8,148.5" fill="#c44f3d" stroke="#c44f3d"/>
<polygon points="223.9,154.1 225.6,157.0 227.2,154.1 225.5,151.3" fill="#cb4c3e" stroke="#cb4c3e"/>
<polygon points="225.6,157.0 227.4,160.0 228.9,157.0 227.2,154.1" fill="#ce4b3f" stroke="#ce4b3f"/>
<polygon points="227.4,160.0 229.1,162.9 230.6,159.9 228.9,157.0" fill="#cd4b3f" stroke="#cd4b3f"/>
<polygon points="229.1,162.9 230.9,166.0 232.4,162.8 230.6,159.9" fill="#c84d3e" stroke="#c84d3e"/>
<polygon points="230.9,166.0 232.7,169.0 234.1,165.8 232.4,162.8" fill="#bc533b" stroke="#bc533b"/>
<polygon points="232.7,169.0 234.5,172.1 235.9,168.8 234.1,165.8" fill="#ae5b38" stroke="#ae5b38"/>
<polygon points="168.4,64.4 169.5,66.3 171.6,65.3 170.5,63.5" fill="#8e752f" stroke="#8e752f"/>
<polygon points="169.5,66.3 170.6,68.2 172.7,67.2 171.6,65.3" fill="#8e742f" stroke="#8e742f"/>
<polygon points="170.6,68.2 171.7,70.1 173.8,69.1 172.7,67.2" fill="#96702f" stroke="#96702f"/>
<polygon points="171.7,70.1 172.8,72.1 174.9,71.0 173.8,69.1" fill="#a56235" stroke="#a56235"/>
<polygon points="172.8,72.1 173.9,74.0 176.0,72.9 174.9,71.0" fill="#b7563a" stroke="#b7563a"/>
<polygon points="173.9,74.0 175.1,76.0 177.2,74.8 176.0,72.9" fill="#c54e3d" stroke="#c54e3d"/>
<polygon points="175.1,76.0 176.3,78.0 178.3,76.8 177.2,74.8" fill="#ca4d3e" stroke="#ca4d3e"/>
<polygon points="176.3,78.0 177.4,80.0 179.5,78.7 178.3,76.8" fill="#c94d3e" stroke="#c94d3e"/>
<polygon points="177.4,80.0 178.6,82.0 180.7,80.7 179.5,78.7" fill="#c0513c" stroke="#c0513c"/>
<polygon points="178.6,82.0 179.8,84.1 181.8,82.7 180.7,80.7" fill="#b05a39" stroke="#b05a39"/>
<polygon points="179.8,84.1 181.0,86.2 183.0,84.8 181.8,82.7" fill="#9f6832" stroke="#9f6832"/>
<polygon points="181.0,86.2 182.2,88.3 184.3,86.8 183.0,84.8" fill="#92722f" stroke="#92722f"/>
<polygon points="182.2,88.3 183.5,90.4 185.5,88.9 184.3,86.8" fill="#8e752f" stroke="#8e752f"/>
<polygon points="183.5,90.4 184.7,92.5 186.7,91.0 185.5,88.9" fill="#90732f" stroke="#90732f"/>
<polygon points="184.7,92.5 186.0,94.7 188.0,93.1 186.7,91.0" fill="#9b6c31" stroke="#9b6c31"/>
<polygon points="186.0,94.7 187.3,96.9 189.2,95.3 188.0,93.1" fill="#ac5c38" stroke="#ac5c38"/>
<polygon points="187.3,96.9 188.6,99.1 190.5,97.4 189.2,95.3" fill="#bd533b" stroke="#bd533b"/>
<polygon points="188.6,99.1 189.9,101.3 191.8,99.6 190.5,97.4" fill="#c84d3d" stroke="#c84d3d"/>
<polygon points="189.9,101.3 191.2,103.6 193.1,101.9 191.8,99.6" fill="#ca4d3e" stroke="#ca4d3e"/>
<polygon points="191.2,103.6 192.5,105.9 194.4,104.1 193.1,101.9" fill="#c74e3d" stroke="#c74e3d"/>
<polygon points="192.5,105.9 193.9,108.2 195.8,106.4 194.4,104.1" fill="#bb543b" stroke="#bb543b"/>
<polygon points="193.9,108.2 195.2,110.5 197.1,108.6 195.8,106.4" fill="#aa5e37" stroke="#aa5e37"/>
<polygon points="195.2,110.5 196.6,112.9 198.5,110.9 197.1,108.6" fill="#996d30" stroke="#996d30"/>
<polygon points="196.6,112.9 198.0,115.3 199.8,113.3 198.5,110.9" fill="#90742f" stroke="#90742f"/>
<polygon points="198.0,115.3 199.4,117.7 201.2,115.6 199.8,113.3" fill="#8e752f" stroke="#8e752f"/>
<polygon points="199.4,117.7 200.8,120.1 202.6,118.0 201.2,115.6" fill="#93722f" stroke="#93722f"/>
<polygon points="200.8,120.1 202.3,122.6 204.1,120.5 202.6,118.0" fill="#a06733" stroke="#a06733"/>
<polygon points="202.3,122.6 203.7,125.1 205.5,122.9 204.1,120.5" fill="#b25939" stroke="#b25939"/>
<polygon points="203.7,125.1 205.2,127.7 207.0,125.4 205.5,122.9" fill="#c2503c" stroke="#c2503c"/>
<polygon points="205.2,127.7 206.7,130.2 208.4,127.9 207.0,125.4" fill="#c94d3e" stroke="#c94d3e"/>
<polygon points="206.7,130.2 208.2,132.8 209.9,130.4 208.4,127.9" fill="#c94d3e" stroke="#c94d3e"/>
<polygon points="208.2,132.8 209.7,135.4 211.4,132.9 209.9,130.4" fill="#c44f3d" stroke="#c44f3d"/>
<polygon points="209.7,135.4 211.2,138.1 213.0,135.5 211.4,132.9" fill="#b5573a" stroke="#b5573a"/>
<polygon points="211.2,138.1 212.8,140.8 214.5,138.2 213.0,135.5" fill="#a36435" stroke="#a36435"/>
<polygon points="212.8,140.8 214.4,143.5 216.1,140.8 214.5,138.2" fill="#95712f" stroke="#95712f"/>
<polygon points="214.4,143.5 216.0,146.2 217.6,143.5 216.1,140.8" fill="#8e752f" stroke="#8e752f"/>
<polygon points="216.0,146.2 217.6,149.0 219.2,146.2 217.6,143.5" fill="#8f742f" stroke="#8f742f"/>
<polygon points="217.6,149.0 219.2,151.8 220.9,148.9 219.2,146.2" fill="#96702f" stroke="#96702f"/>
<polygon points="219.2,151.8 220.9,154.7 222.5,151.7 220.9,148.9" fill="#a66136" stroke="#a66136"/>
<polygon points="220.9,154.7 222.6,157.5 224.1,154.5 222.5,151.7" fill="#b8563a" stroke="#b8563a"/>
<polygon points="222.6,157.5 224.3,160.5 225.8,157.4 224.1,154.5" fill="#c64e3d" stroke="#c64e3d"/>
<polygon points="224.3,160.5 226.0,163.4 227.5,160.2 225.8,157.4" fill="#ca4d3e" stroke="#ca4d3e"/>
<polygon points="226.0,163.4 227.7,166.4 229.2,163.1 227.5,160.2" fill="#c84d3e" stroke="#c84d3e"/>
<polygon points="227.7,166.4 229.5,169.4 231.0,166.1 229.2,163.1" fill="#bf523c" stroke="#bf523c"/>
<polygon points="229.5,169.4 231.3,172.5 232.7,169.1 231.0,166.1" fill="#af5a39" stroke="#af5a39"/>
<polygon points="231.3,172.5 233.1,175.6 234.5,172.1 232.7,169.1" fill="#9e6932" stroke="#9e6932"/>
<polygon points="166.3,65.6 167.4,67.5 169.4,66.3 168.4,64.4" fill="#87792e" stroke="#87792e"/>
<polygon points="167.4,67.5 168.5,69.4 170.5,68.1 169.4,66.3" fill="#7f772d" stroke="#7f772d"/>
<polygon points="168.5,69.4 169.6,71.3 171.6,70.0 170.5,68.1" fill="#81782d" stroke="#81782d"/>
<polygon points="169.6,71.3 170.7,73.2 172.7,71.9 171.6,70.0" fill="#8a772e" stroke="#8a772e"/>
<polygon points="170.7,73.2 171.8,75.2 173.8,73.8 172.7,71.9" fill="#996d30" stroke="#996d30"/>
<polygon points="171.8,75.2 173.0,77.1 174.9,75.7 173.8,73.8" fill="#ad5b38" stroke="#ad5b38"/>
<polygon points="173.0,77.1 174.1,79.1 176.1,77.7 174.9,75.7" fill="#bd533b" stroke="#bd533b"/>
<polygon points="174.1,79.1 175.2,81.1 177.2,79.6 176.1,77.7" fill="#c44f3d" stroke="#c44f3d"/>
<polygon points="175.2,81.1 176.4,83.2 178.4,81.6 177.2,79.6" fill="#c1513c" stroke="#c1513c"/>
<polygon points="176.4,83.2 177.6,85.2 179.6,83.6 178.4,81.6" fill="#b4583a" stroke="#b4583a"/>
<polygon points="177.6,85.2 178.8,87.3 180.7,85.7 179.6,83.6" fill="#a16634" stroke="#a16634"/>
<polygon points="178.8,87.3 180.0,89.4 181.9,87.7 180.7,85.7" fill="#8f742f" stroke="#8f742f"/>
<polygon points="180.0,89.4 181.2,91.5 183.1,89.8 181.9,87.7" fill="#84792e" stroke="#84792e"/>
<polygon points="181.2,91.5 182.4,93.6 184.4,91.9 183.1,89.8" fill="#7f772d" stroke="#7f772d"/>
<polygon points="182.4,93.6 183.7,95.8 185.6,94.0 184.4,91.9" fill="#83792e" stroke="#83792e"/>
<polygon points="183.7,95.8 184.9,97.9 186.8,96.1 185.6,94.0" fill="#8e742f" stroke="#8e742f"/>
<polygon points="184.9,97.9 186.2,100.1 188.1,98.3 186.8,96.1" fill="#a06733" stroke="#a06733"/>
<polygon points="186.2,100.1 187.5,102.4 189.4,100.5 188.1,98.3" fill="#b35839" stroke="#b35839"/>
<polygon points="187.5,102.4 188.8,104.6 190.6,102.7 189.4,100.5" fill="#c0513c" stroke="#c0513c"/>
<polygon points="188.8,104.6 190.1,106.9 191.9,104.9 190.6,102.7" fill="#c44f3d" stroke="#c44f3d"/>
<polygon points="190.1,106.9 191.4,109.2 193.2,107.2 191.9,104.9" fill="#be523b" stroke="#be523b"/>
<polygon points="191.4,109.2 192.7,111.5 194.6,109.4 193.2,107.2" fill="#ae5b38" stroke="#ae5b38"/>
<polygon points="192.7,111.5 194.1,113.9 195.9,111.7 194.6,109.4" fill="#9a6c31" stroke="#9a6c31"/>
<polygon points="194.1,113.9 195.5,116.3 197.3,114.1 195.9,111.7" fill="#8b762e" stroke="#8b762e"/>
<polygon points="195.5,116.3 196.8,118.7 198.6,116.4 197.3,114.1" fill="#81782d" stroke="#81782d"/>
<polygon points="196.8,118.7 198.2,121.1 200.0,118.8 198.6,116.4" fill="#7f772d" stroke="#7f772d"/>
<polygon points="198.2,121.1 199.6,123.6 201.4,121.2 200.0,118.8" fill="#86792e" stroke="#86792e"/>
<polygon points="199.6,123.6 201.1,126.0 202.8,123.6 201.4,121.2" fill="#93722f" stroke="#93722f"/>
<polygon points="201.1,126.0 202.5,128.6 204.3,126.1 202.8,123.6" fill="#a66136" stroke="#a66136"/>
<polygon points="202.5,128.6 204.0,131.1 205.7,128.6 204.3,126.1" fill="#b8553a" stroke="#b8553a"/>
<polygon points="204.0,131.1 205.5,133.7 207.2,131.1 205.7,128.6" fill="#c3503c" stroke="#c3503c"/>
<polygon points="205.5,133.7 207.0,136.3 208.7,133.6 207.2,131.1" fill="#c34f3d" stroke="#c34f3d"/>
<polygon points="207.0,136.3 208.5,138.9 210.2,136.2 208.7,133.6" fill="#ba553b" stroke="#ba553b"/>
<polygon points="208.5,138.9 210.0,141.6 211.7,138.8 210.2,136.2" fill="#a85f36" stroke="#a85f36"/>
<polygon points="210.0,141.6 211.6,144.3 213.2,141.4 211.7,138.8" fill="#94712f" stroke="#94712f"/>
<polygon points="211.6,144.3 213.1,147.0 214.8,144.1 213.2,141.4" fill="#87792e" stroke="#87792e"/>
<polygon points="213.1,147.0 214.7,149.8 216.3,146.8 214.8,144.1" fill="#7f772d" stroke="#7f772d"/>
<polygon points="214.7,149.8 216.3,152.6 217.9,149.5 216.3,146.8" fill="#80782d" stroke="#80782d"/>
<polygon points="216.3,152.6 218.0,155.4 219.5,152.3 217.9,149.5" fill="#8a772e" stroke="#8a772e"/>
<polygon points="218.0,155.4 219.6,158.3 221.2,155.1 219.5,152.3" fill="#996e30" stroke="#996e30"/>
<polygon points="219.6,158.3 221.3,161.2 222.8,157.9 221.2,155.1" fill="#ad5c38" stroke="#ad5c38"/>
<polygon points="221.3,161.2 223.0,164.1 224.5,160.8 222.8,157.9" fill="#bd533b" stroke="#bd533b"/>
<polygon points="223.0,164.1 224.7,167.1 226.2,163.7 224.5,160.8" fill="#c44f3d" stroke="#c44f3d"/>
<polygon points="224.7,167.1 226.4,170.1 227.9,166.6 226.2,163.7" fill="#c1513c" stroke="#c1513c"/>
<polygon points="226.4,170.1 228.2,173.1 229.6,169.6 227.9,166.6" fill="#b5573a" stroke="#b5573a"/>
<polygon points="228.2,173.1 229.9,176.2 231.3,172.6 229.6,169.6" fill="#a26534" stroke="#a26534"/>
<polygon points="229.9,176.2 231.7,179.3 233.1,175.6 231.3,172.6" fill="#90742f" stroke="#90742f"/>
<polygon points="164.4,67.1 165.4,68.9 167.4,67.5 166.3,65.6" fill="#88782e" stroke="#88782e"/>
<polygon points="165.4,68.9 166.5,70.8 168.5,69.3 167.4,67.5" fill="#7b752c" stroke="#7b752c"/>
<polygon points="166.5,70.8 167.6,72.7 169.5,71.2 168.5,69.3" fill="#75722b" stroke="#75722b"/>
<polygon points="167.6,72.7 168.7,74.6 170.6,73.1 169.5,71.2" fill="#78732c" stroke="#78732c"/>
<polygon points="168.7,74.6 169.8,76.6 171.7,75.0 170.6,73.1" fill="#82792e" stroke="#82792e"/>
<polygon points="169.8,76.6 170.9,78.5 172.8,76.9 171.7,75.0" fill="#91732f" stroke="#91732f"/>
<polygon points="170.9,78.5 172.0,80.5 173.9,78.8 172.8,76.9" fill="#a26534" stroke="#a26534"/>
<polygon points="172.0,80.5 173.1,82.5 175.1,80.8 173.9,78.8" fill="#b05a39" stroke="#b05a39"/>
<polygon points="173.1,82.5 174.3,84.5 176.2,82.8 175.1,80.8" fill="#b6573a" stroke="#b6573a"/>
<polygon points="174.3,84.5 175.4,86.6 177.3,84.8 176.2,82.8" fill="#b25939" stroke="#b25939"/>
<polygon points="175.4,86.6 176.6,88.6 178.5,86.8 177.3,84.8" fill="#a46335" stroke="#a46335"/>
<polygon points="176.6,88.6 177.8,90.7 179.7,88.8 178.5,86.8" fill="#93722f" stroke="#93722f"/>
<polygon points="177.8,90.7 179.0,92.8 180.9,90.9 179.7,88.8" fill="#847a2e" stroke="#847a2e"/>
<polygon points="179.0,92.8 180.2,94.9 182.1,93.0 180.9,90.9" fill="#78732c" stroke="#78732c"/>
<polygon points="180.2,94.9 181.4,97.1 183.3,95.1 182.1,93.0" fill="#75712b" stroke="#75712b"/>
<polygon points="181.4,97.1 182.7,99.3 184.5,97.2 183.3,95.1" fill="#7a742c" stroke="#7a742c"/>
<polygon points="182.7,99.3 183.9,101.5 185.7,99.4 184.5,97.2" fill="#86792e" stroke="#86792e"/>
<polygon points="183.9,101.5 185.2,103.7 187.0,101.5 185.7,99.4" fill="#95712f" stroke="#95712f"/>
<polygon points="185.2,103.7 186.4,105.9 188.2,103.7 187.0,101.5" fill="#a76136" stroke="#a76136"/>
<polygon points="186.4,105.9 187.7,108.2 189.5,106.0 188.2,103.7" fill="#b35839" stroke="#b35839"/>
<polygon points="187.7,108.2 189.0,110.5 190.8,108.2 189.5,106.0" fill="#b6573a" stroke="#b6573a"/>
<polygon points="189.0,110.5 190.3,112.8 192.1,110.5 190.8,108.2" fill="#af5b39" stroke="#af5b39"/>
<polygon points="190.3,112.8 191.7,115.1 193.4,112.8 192.1,110.5" fill="#9f6833" stroke="#9f6833"/>
<polygon points="191.7,115.1 193.0,117.5 194.8,115.1 193.4,112.8" fill="#8e752f" stroke="#8e752f"/>
<polygon points="193.0,117.5 194.4,119.9 196.1,117.4 194.8,115.1" fill="#80772d" stroke="#80772d"/>
<polygon points="194.4,119.9 195.7,122.3 197.5,119.8 196.1,117.4" fill="#77722c" stroke="#77722c"/>
<polygon points="195.7,122.3 197.1,124.7 198.8,122.2 197.5,119.8" fill="#75722c" stroke="#75722c"/>
<polygon points="197.1,124.7 198.5,127.2 200.2,124.6 198.8,122.2" fill="#7d762d" stroke="#7d762d"/>
<polygon points="198.5,127.2 199.9,129.7 201.6,127.0 200.2,124.6" fill="#8a772e" stroke="#8a772e"/>
<polygon points="199.9,129.7 201.4,132.2 203.1,129.5 201.6,127.0" fill="#9a6c31" stroke="#9a6c31"/>
<polygon points="201.4,132.2 202.8,134.8 204.5,132.0 203.1,129.5" fill="#ab5d38" stroke="#ab5d38"/>
<polygon points="202.8,134.8 204.3,137.4 206.0,134.5 204.5,132.0" fill="#b5573a" stroke="#b5573a"/>
<polygon points="204.3,137.4 205.8,140.0 207.4,137.1 206.0,134.5" fill="#b5573a" stroke="#b5573a"/>
<polygon points="205.8,140.0 207.3,142.7 208.9,139.7 207.4,137.1" fill="#ab5d38" stroke="#ab5d38"/>
<polygon points="207.3,142.7 208.8,145.3 210.4,142.3 208.9,139.7" fill="#9a6c31" stroke="#9a6c31"/>
<polygon points="208.8,145.3 210.4,148.0 212.0,145.0 210.4,142.3" fill="#8a772e" stroke="#8a772e"/>
<polygon points="210.4,148.0 211.9,150.8 213.5,147.6 212.0,145.0" fill="#7d762d" stroke="#7d762d"/>
<polygon points="211.9,150.8 213.5,153.6 215.1,150.4 213.5,147.6" fill="#75722c" stroke="#75722c"/>
<polygon points="213.5,153.6 215.1,156.4 216.6,153.1 215.1,150.4" fill="#77722c" stroke="#77722c"/>
<polygon points="215.1,156.4 216.7,159.2 218.2,155.9 216.6,153.1" fill="#80772d" stroke="#80772d"/>
<polygon points="216.7,159.2 218.3,162.1 219.8,158.7 218.2,155.9" fill="#8e742f" stroke="#8e742f"/>
<polygon points="218.3,162.1 220.0,165.0 221.5,161.5 219.8,158.7" fill="#9f6733" stroke="#9f6733"/>
<polygon points="220.0,165.0 221.7,168.0 223.1,164.4 221.5,161.5" fill="#af5b39" stroke="#af5b39"/>
<polygon points="221.7,168.0 223.4,171.0 224.8,167.3 223.1,164.4" fill="#b6573a" stroke="#b6573a"/>
<polygon points="223.4,171.0 225.1,174.0 226.5,170.3 224.8,167.3" fill="#b35839" stroke="#b35839"/>
<polygon points="225.1,174.0 226.8,177.0 228.2,173.3 226.5,170.3" fill="#a76136" stroke="#a76136"/>
<polygon points="226.8,177.0 228.6,180.1 230.0,176.3 228.2,173.3" fill="#95712f" stroke="#95712f"/>
<polygon points="228.6,180.1 230.4,183.3 231.7,179.3 230.0,176.3" fill="#86792e" stroke="#86792e"/>
<polygon points="162.5,68.8 163.6,70.6 165.4,68.9 164.4,67.1" fill="#8a772e" stroke="#8a772e"/>
<polygon points="163.6,70.6 164.6,72.5 166.5,70.7 165.4,68.9" fill="#7d762d" stroke="#7d762d"/>
<polygon points="164.6,72.5 165.7,74.4 167.5,72.6 166.5,70.7" fill="#72702b" stroke="#72702b"/>
<polygon points="165.7,74.4 166.7,76.3 168.6,74.5 167.5,72.6" fill="#6c6c2b" stroke="#6c6c2b"/>
<polygon points="166.7,76.3 167.8,78.2 169.7,76.4 168.6,74.5" fill="#716f2b" stroke="#716f2b"/>
<polygon points="167.8,78.2 168.9,80.2 170.8,78.3 169.7,76.4" fill="#7b752c" stroke="#7b752c"/>
<polygon points="168.9,80.2 170.0,82.2 171.9,80.2 170.8,78.3" fill="#89782e" stroke="#89782e"/>
<polygon points="170.0,82.2 171.1,84.1 173.0,82.2 171.9,80.2" fill="#96702f" stroke="#96702f"/>
<polygon points="171.1,84.1 172.3,86.2 174.1,84.2 173.0,82.2" fill="#a16634" stroke="#a16634"/>
<polygon points="172.3,86.2 173.4,88.2 175.2,86.2 174.1,84.2" fill="#a56235" stroke="#a56235"/>
<polygon points="173.4,88.2 174.5,90.2 176.4,88.2 175.2,86.2" fill="#a06733" stroke="#a06733"/>
<polygon points="174.5,90.2 175.7,92.3 177.5,90.2 176.4,88.2" fill="#94712f" stroke="#94712f"/>
<polygon points="175.7,92.3 176.9,94.4 178.7,92.3 177.5,90.2" fill="#87792e" stroke="#87792e"/>
<polygon points="176.9,94.4 178.1,96.5 179.9,94.3 178.7,92.3" fill="#79742c" stroke="#79742c"/>
<polygon points="178.1,96.5 179.3,98.7 181.0,96.4 179.9,94.3" fill="#706e2b" stroke="#706e2b"/>
<polygon points="179.3,98.7 180.5,100.8 182.2,98.5 181.0,96.4" fill="#6d6c2b" stroke="#6d6c2b"/>
<polygon points="180.5,100.8 181.7,103.0 183.5,100.7 182.2,98.5" fill="#73712b" stroke="#73712b"/>
<polygon points="181.7,103.0 182.9,105.2 184.7,102.9 183.5,100.7" fill="#7f772d" stroke="#7f772d"/>
<polygon points="182.9,105.2 184.2,107.4 185.9,105.0 184.7,102.9" fill="#8c762e" stroke="#8c762e"/>
<polygon points="184.2,107.4 185.4,109.7 187.2,107.2 185.9,105.0" fill="#996d30" stroke="#996d30"/>
<polygon points="185.4,109.7 186.7,112.0 188.5,109.5 187.2,107.2" fill="#a36434" stroke="#a36434"/>
<polygon points="186.7,112.0 188.0,114.3 189.7,111.7 188.5,109.5" fill="#a56335" stroke="#a56335"/>
<polygon points="188.0,114.3 189.3,116.6 191.0,114.0 189.7,111.7" fill="#9e6932" stroke="#9e6932"/>
<polygon points="189.3,116.6 190.6,118.9 192.3,116.3 191.0,114.0" fill="#91732f" stroke="#91732f"/>
<polygon points="190.6,118.9 192.0,121.3 193.7,118.7 192.3,116.3" fill="#84792e" stroke="#84792e"/>
<polygon points="192.0,121.3 193.3,123.7 195.0,121.0 193.7,118.7" fill="#77722c" stroke="#77722c"/>
<polygon points="193.3,123.7 194.7,126.2 196.4,123.4 195.0,121.0" fill="#6e6d2b" stroke="#6e6d2b"/>
<polygon points="194.7,126.2 196.1,128.6 197.7,125.8 196.4,123.4" fill="#6d6d2b" stroke="#6d6d2b"/>
<polygon points="196.1,128.6 197.4,131.1 199.1,128.2 197.7,125.8" fill="#75722c" stroke="#75722c"/>
<polygon points="197.4,131.1 198.9,133.6 200.5,130.7 199.1,128.2" fill="#82782e" stroke="#82782e"/>
<polygon points="198.9,133.6 200.3,136.2 201.9,133.2 200.5,130.7" fill="#8f742f" stroke="#8f742f"/>
<polygon points="200.3,136.2 201.7,138.7 203.3,135.7 201.9,133.2" fill="#9c6a32" stroke="#9c6a32"/>
<polygon points="201.7,138.7 203.2,141.3 204.8,138.2 203.3,135.7" fill="#a46335" stroke="#a46335"/>
<polygon points="203.2,141.3 204.7,144.0 206.2,140.8 204.8,138.2" fill="#a46335" stroke="#a46335"/>
<polygon points="204.7,144.0 206.1,146.6 207.7,143.4 206.2,140.8" fill="#9b6c31" stroke="#9b6c31"/>
<polygon points="206.1,146.6 207.7,149.3 209.2,146.1 207.7,143.4" fill="#8e752f" stroke="#8e752f"/>
<polygon points="207.7,149.3 209.2,152.0 210.7,148.7 209.2,146.1" fill="#80782d" stroke="#80782d"/>
<polygon points="209.2,152.0 210.7,154.8 212.3,151.4 210.7,148.7" fill="#74712b" stroke="#74712b"/>
<polygon points="210.7,154.8 212.3,157.6 213.8,154.1 212.3,151.4" fill="#6d6d2b" stroke="#6d6d2b"/>
<polygon points="212.3,157.6 213.9,160.4 215.4,156.9 213.8,154.1" fill="#6f6e2b" stroke="#6f6e2b"/>
<polygon points="213.9,160.4 215.5,163.3 217.0,159.7 215.4,156.9" fill="#78732c" stroke="#78732c"/>
<polygon points="215.5,163.3 217.1,166.2 218.6,162.5 217.0,159.7" fill="#857a2e" stroke="#857a2e"/>
<polygon points="217.1,166.2 218.7,169.1 220.2,165.4 218.6,162.5" fill="#93722f" stroke="#93722f"/>
<polygon points="218.7,169.1 220.4,172.1 221.8,168.3 220.2,165.4" fill="#9f6833" stroke="#9f6833"/>
<polygon points="220.4,172.1 222.1,175.1 223.5,171.2 221.8,168.3" fill="#a56235" stroke="#a56235"/>
<polygon points="222.1,175.1 223.8,178.1 225.2,174.2 223.5,171.2" fill="#a26534" stroke="#a26534"/>
<polygon points="223.8,178.1 225.5,181.2 226.9,177.2 225.2,174.2" fill="#976f30" stroke="#976f30"/>
<polygon points="225.5,181.2 227.2,184.3 228.6,180.2 226.9,177.2" fill="#8b772e" stroke="#8b772e"/>
<polygon points="227.2,184.3 229.0,187.4 230.4,183.3 228.6,180.2" fill="#7d762d" stroke="#7d762d"/>
<polygon points="160.7,70.7 161.8,72.5 163.5,70.6 162.5,68.8" fill="#89772e" stroke="#89772e"/>
<polygon points="161.8,72.5 162.8,74.4 164.6,72.4 163.5,70.6" fill="#7e762d" stroke="#7e762d"/>
<polygon points="162.8,74.4 163.8,76.3 165.6,74.3 164.6,72.4" fill="#71702b" stroke="#71702b"/>
<polygon points="163.8,76.3 164.9,78.2 166.7,76.1 165.6,74.3" fill="#67692b" stroke="#67692b"/>
<polygon points="164.9,78.2 165.9,80.1 167.7,78.0 166.7,76.1" fill="#64672b" stroke="#64672b"/>
<polygon points="165.9,80.1 167.0,82.1 168.8,79.9 167.7,78.0" fill="#696a2b" stroke="#696a2b"/>
<polygon points="167.0,82.1 168.1,84.0 169.9,81.9 168.8,79.9" fill="#75712b" stroke="#75712b"/>
<polygon points="168.1,84.0 169.2,86.0 171.0,83.8 169.9,81.9" fill="#81782d" stroke="#81782d"/>
<polygon points="169.2,86.0 170.3,88.0 172.1,85.8 171.0,83.8" fill="#8c762e" stroke="#8c762e"/>
<polygon points="170.3,88.0 171.4,90.0 173.2,87.8 172.1,85.8" fill="#93722f" stroke="#93722f"/>
<polygon points="171.4,90.0 172.6,92.1 174.3,89.8 173.2,87.8" fill="#95712f" stroke="#95712f"/>
<polygon points="172.6,92.1 173.7,94.1 175.4,91.8 174.3,89.8" fill="#91732f" stroke="#91732f"/>
<polygon points="173.7,94.1 174.8,96.2 176.6,93.9 175.4,91.8" fill="#87792e" stroke="#87792e"/>
<polygon points="174.8,96.2 176.0,98.3 177.7,95.9 176.6,93.9" fill="#7b752c" stroke="#7b752c"/>
<polygon points="176.0,98.3 177.2,100.4 178.9,98.0 177.7,95.9" fill="#6f6e2b" stroke="#6f6e2b"/>
<polygon points="177.2,100.4 178.4,102.6 180.1,100.1 178.9,98.0" fill="#66682b" stroke="#66682b"/>
<polygon points="178.4,102.6 179.6,104.8 181.3,102.3 180.1,100.1" fill="#64672b" stroke="#64672b"/>
<polygon points="179.6,104.8 180.8,107.0 182.5,104.4 181.3,102.3" fill="#6b6b2b" stroke="#6b6b2b"/>
<polygon points="180.8,107.0 182.0,109.2 183.7,106.6 182.5,104.4" fill="#77732c" stroke="#77732c"/>
<polygon points="182.0,109.2 183.3,111.4 184.9,108.8 183.7,106.6" fill="#84792e" stroke="#84792e"/>
<polygon points="183.3,111.4 184.5,113.7 186.2,111.0 184.9,108.8" fill="#8e752f" stroke="#8e752f"/>
<polygon points="184.5,113.7 185.8,116.0 187.4,113.2 186.2,111.0" fill="#94712f" stroke="#94712f"/>
<polygon points="185.8,116.0 187.1,118.3 188.7,115.5 187.4,113.2" fill="#95712f" stroke="#95712f"/>
<polygon points="187.1,118.3 188.3,120.6 190.0,117.8 188.7,115.5" fill="#8f742f" stroke="#8f742f"/>
<polygon points="188.3,120.6 189.7,123.0 191.3,120.1 190.0,117.8" fill="#857a2e" stroke="#857a2e"/>
<polygon points="189.7,123.0 191.0,125.4 192.6,122.5 191.3,120.1" fill="#79742c" stroke="#79742c"/>
<polygon points="191.0,125.4 192.3,127.8 193.9,124.8 192.6,122.5" fill="#6d6c2b" stroke="#6d6c2b"/>
<polygon points="192.3,127.8 193.7,130.2 195.3,127.2 193.9,124.8" fill="#65672b" stroke="#65672b"/>
<polygon points="193.7,130.2 195.0,132.7 196.6,129.7 195.3,127.2" fill="#65672b" stroke="#65672b"/>
<polygon points="195.0,132.7 196.4,135.2 198.0,132.1 196.6,129.7" fill="#6d6d2b" stroke="#6d6d2b"/>
<polygon points="196.4,135.2 197.8,137.7 199.4,134.6 198.0,132.1" fill="#79742c" stroke="#79742c"/>
<polygon points="197.8,137.7 199.2,140.3 200.8,137.1 199.4,134.6" fill="#86792e" stroke="#86792e"/>
<polygon points="199.2,140.3 200.6,142.9 202.2,139.6 200.8,137.1" fill="#90742f" stroke="#90742f"/>
<polygon points="200.6,142.9 202.1,145.5 203.6,142.2 202.2,139.6" fill="#95712f" stroke="#95712f"/>
<polygon points="202.1,145.5 203.6,148.1 205.1,144.8 203.6,142.2" fill="#94712f" stroke="#94712f"/>
<polygon points="203.6,148.1 205.0,150.8 206.6,147.4 205.1,144.8" fill="#8d752e" stroke="#8d752e"/>
<polygon points="205.0,150.8 206.5,153.5 208.0,150.0 206.6,147.4" fill="#83792e" stroke="#83792e"/>
<polygon points="206.5,153.5 208.0,156.3 209.5,152.7 208.0,150.0" fill="#76722c" stroke="#76722c"/>
<polygon points="208.0,156.3 209.6,159.0 211.1,155.4 209.5,152.7" fill="#6a6b2b" stroke="#6a6b2b"/>
<polygon points="209.6,159.0 211.1,161.8 212.6,158.2 211.1,155.4" fill="#64672b" stroke="#64672b"/>
<polygon points="211.1,161.8 212.7,164.7 214.2,160.9 212.6,158.2" fill="#66682b" stroke="#66682b"/>
<polygon points="212.7,164.7 214.3,167.5 215.7,163.7 214.2,160.9" fill="#706e2b" stroke="#706e2b"/>
<polygon points="214.3,167.5 215.9,170.4 217.3,166.6 215.7,163.7" fill="#7c752d" stroke="#7c752d"/>
<polygon points="215.9,170.4 217.5,173.4 218.9,169.4 217.3,166.6" fill="#88782e" stroke="#88782e"/>
<polygon points="217.5,173.4 219.2,176.3 220.6,172.4 218.9,169.4" fill="#91732f" stroke="#91732f"/>
<polygon points="219.2,176.3 220.8,179.4 222.2,175.3 220.6,172.4" fill="#95712f" stroke="#95712f"/>
<polygon points="220.8,179.4 222.5,182.4 223.9,178.3 222.2,175.3" fill="#93722f" stroke="#93722f"/>
<polygon points="222.5,182.4 224.2,185.5 225.6,181.3 223.9,178.3" fill="#8c762e" stroke="#8c762e"/>
<polygon points="224.2,185.5 225.9,188.6 227.3,184.3 225.6,181.3" fill="#81782d" stroke="#81782d"/>
<polygon points="225.9,188.6 227.7,191.8 229.0,187.4 227.3,184.3" fill="#74712b" stroke="#74712b"/>
<polygon points="159.0,72.8 160.1,74.7 161.8,72.5 160.7,70.7" fill="#857a2e" stroke="#857a2e"/>
<polygon points="160.1,74.7 161.1,76.6 162.8,74.4 161.8,72.5" fill="#7c752d" stroke="#7c752d"/>
<polygon points="161.1,76.6 162.1,78.5 163.8,76.3 162.8,74.4" fill="#706f2b" stroke="#706f2b"/>
<polygon points="162.1,78.5 163.2,80.4 164.9,78.2 163.8,76.3" fill="#64672b" stroke="#64672b"/>
<polygon points="163.2,80.4 164.3,82.4 165.9,80.1 164.9,78.2" fill="#5c622b" stroke="#5c622b"/>
<polygon points="164.3,82.4 165.3,84.4 167.0,82.1 165.9,80.1" fill="#5c612b" stroke="#5c612b"/>
<polygon points="165.3,84.4 166.4,86.4 168.1,84.0 167.0,82.1" fill="#63662b" stroke="#63662b"/>
<polygon points="166.4,86.4 167.5,88.4 169.2,86.0 168.1,84.0" fill="#6f6e2b" stroke="#6f6e2b"/>
<polygon points="167.5,88.4 168.6,90.4 170.3,88.0 169.2,86.0" fill="#7b752c" stroke="#7b752c"/>
<polygon points="168.6,90.4 169.8,92.5 171.4,90.0 170.3,88.0" fill="#84792e" stroke="#84792e"/>
<polygon points="169.8,92.5 170.9,94.6 172.6,92.1 171.4,90.0" fill="#89782e" stroke="#89782e"/>
<polygon points="170.9,94.6 172.0,96.7 173.7,94.1 172.6,92.1" fill="#88782e" stroke="#88782e"/>
<polygon points="172.0,96.7 173.2,98.8 174.8,96.2 173.7,94.1" fill="#82782d" stroke="#82782d"/>
<polygon points="173.2,98.8 174.4,100.9 176.0,98.3 174.8,96.2" fill="#78732c" stroke="#78732c"/>
<polygon points="174.4,100.9 175.6,103.1 177.2,100.4 176.0,98.3" fill="#6b6c2b" stroke="#6b6c2b"/>
<polygon points="175.6,103.1 176.7,105.3 178.4,102.6 177.2,100.4" fill="#60642b" stroke="#60642b"/>
<polygon points="176.7,105.3 178.0,107.5 179.6,104.8 178.4,102.6" fill="#5b612b" stroke="#5b612b"/>
<polygon points="178.0,107.5 179.2,109.7 180.8,107.0 179.6,104.8" fill="#5e632b" stroke="#5e632b"/>
<polygon points="179.2,109.7 180.4,112.0 182.0,109.2 180.8,107.0" fill="#67692b" stroke="#67692b"/>
<polygon points="180.4,112.0 181.6,114.3 183.3,111.4 182.0,109.2" fill="#74712b" stroke="#74712b"/>
<polygon points="181.6,114.3 182.9,116.6 184.5,113.7 183.3,111.4" fill="#7f772d" stroke="#7f772d"/>
<polygon points="182.9,116.6 184.2,118.9 185.8,116.0 184.5,113.7" fill="#86792e" stroke="#86792e"/>
<polygon points="184.2,118.9 185.5,121.3 187.1,118.3 185.8,116.0" fill="#89782e" stroke="#89782e"/>
<polygon points="185.5,121.3 186.8,123.6 188.3,120.6 187.1,118.3" fill="#86792e" stroke="#86792e"/>
<polygon points="186.8,123.6 188.1,126.1 189.7,123.0 188.3,120.6" fill="#7e762d" stroke="#7e762d"/>
<polygon points="188.1,126.1 189.4,128.5 191.0,125.4 189.7,123.0" fill="#74712b" stroke="#74712b"/>
<polygon points="189.4,128.5 190.8,131.0 192.3,127.8 191.0,125.4" fill="#67682b" stroke="#67682b"/>
<polygon points="190.8,131.0 192.1,133.4 193.7,130.2 192.3,127.8" fill="#5e622b" stroke="#5e622b"/>
<polygon points="192.1,133.4 193.5,136.0 195.0,132.7 193.7,130.2" fill="#5b612b" stroke="#5b612b"/>
<polygon points="193.5,136.0 194.9,138.5 196.4,135.2 195.0,132.7" fill="#61642b" stroke="#61642b"/>
<polygon points="194.9,138.5 196.3,141.1 197.8,137.7 196.4,135.2" fill="#6c6c2b" stroke="#6c6c2b"/>
<polygon points="196.3,141.1 197.7,143.7 199.2,140.3 197.8,137.7" fill="#78732c" stroke="#78732c"/>
<polygon points="197.7,143.7 199.1,146.3 200.6,142.9 199.2,140.3" fill="#82782e" stroke="#82782e"/>
<polygon points="199.1,146.3 200.6,149.0 202.1,145.5 200.6,142.9" fill="#88782e" stroke="#88782e"/>
<polygon points="200.6,149.0 202.1,151.7 203.6,148.1 202.1,145.5" fill="#88782e" stroke="#88782e"/>
<polygon points="202.1,151.7 203.6,154.4 205.0,150.8 203.6,148.1" fill="#84792e" stroke="#84792e"/>
<polygon points="203.6,154.4 205.1,157.2 206.5,153.5 205.0,150.8" fill="#7a742c" stroke="#7a742c"/>
<polygon points="205.1,157.2 206.6,160.0 208.0,156.3 206.5,153.5" fill="#6f6e2b" stroke="#6f6e2b"/>
<polygon points="206.6,160.0 208.1,162.8 209.6,159.0 208.0,156.3" fill="#63662b" stroke="#63662b"/>
<polygon points="208.1,162.8 209.7,165.7 211.1,161.8 209.6,159.0" fill="#5c612b" stroke="#5c612b"/>
<polygon points="209.7,165.7 211.3,168.6 212.7,164.7 211.1,161.8" fill="#5d622b" stroke="#5d622b"/>
<polygon points="211.3,168.6 212.9,171.5 214.3,167.5 212.7,164.7" fill="#64672b" stroke="#64672b"/>
<polygon points="212.9,171.5 214.5,174.5 215.9,170.4 214.3,167.5" fill="#716f2b" stroke="#716f2b"/>
<polygon points="214.5,174.5 216.1,177.5 217.5,173.4 215.9,170.4" fill="#7c752d" stroke="#7c752d"/>
<polygon points="216.1,177.5 217.8,180.5 219.2,176.3 217.5,173.4" fill="#857a2e" stroke="#857a2e"/>
<polygon points="217.8,180.5 219.5,183.6 220.8,179.4 219.2,176.3" fill="#89782e" stroke="#89782e"/>
<polygon points="219.5,183.6 221.2,186.7 222.5,182.4 220.8,179.4" fill="#87792e" stroke="#87792e"/>
<polygon points="221.2,186.7 222.9,189.9 224.2,185.5 222.5,182.4" fill="#81782d" stroke="#81782d"/>
<polygon points="222.9,189.9 224.6,193.1 225.9,188.6 224.2,185.5" fill="#76722c" stroke="#76722c"/>
<polygon points="224.6,193.1 226.4,196.3 227.7,191.8 225.9,188.6" fill="#6a6b2b" stroke="#6a6b2b"/>
<polygon points="157.4,75.1 158.4,77.0 160.0,74.7 159.0,72.8" fill="#7c752d" stroke="#7c752d"/>
<polygon points="158.4,77.0 159.5,78.9 161.1,76.5 160.0,74.7" fill="#77722c" stroke="#77722c"/>
<polygon points="159.5,78.9 160.5,80.8 162.1,78.4 161.1,76.5" fill="#6e6d2b" stroke="#6e6d2b"/>
<polygon points="160.5,80.8 161.5,82.7 163.1,80.3 162.1,78.4" fill="#62652b" stroke="#62652b"/>
<polygon points="161.5,82.7 162.6,84.7 164.2,82.2 163.1,80.3" fill="#585f2b" stroke="#585f2b"/>
<polygon points="162.6,84.7 163.6,86.6 165.2,84.1 164.2,82.2" fill="#535d2c" stroke="#535d2c"/>
<polygon points="163.6,86.6 164.7,88.6 166.3,86.1 165.2,84.1" fill="#555d2c" stroke="#555d2c"/>
<polygon points="164.7,88.6 165.8,90.6 167.4,88.1 166.3,86.1" fill="#5c612b" stroke="#5c612b"/>
<polygon points="165.8,90.6 166.9,92.7 168.4,90.1 167.4,88.1" fill="#66682b" stroke="#66682b"/>
<polygon points="166.9,92.7 168.0,94.7 169.5,92.1 168.4,90.1" fill="#72702b" stroke="#72702b"/>
<polygon points="168.0,94.7 169.1,96.8 170.7,94.1 169.5,92.1" fill="#79742c" stroke="#79742c"/>
<polygon points="169.1,96.8 170.2,98.9 171.8,96.2 170.7,94.1" fill="#7c752d" stroke="#7c752d"/>
<polygon points="170.2,98.9 171.3,101.0 172.9,98.2 171.8,96.2" fill="#7a742c" stroke="#7a742c"/>
<polygon points="171.3,101.0 172.5,103.1 174.1,100.3 172.9,98.2" fill="#74712b" stroke="#74712b"/>
<polygon points="172.5,103.1 173.6,105.2 175.2,102.4 174.1,100.3" fill="#6a6b2b" stroke="#6a6b2b"/>
<polygon points="173.6,105.2 174.8,107.4 176.4,104.6 175.2,102.4" fill="#5f632b" stroke="#5f632b"/>
<polygon points="174.8,107.4 176.0,109.6 177.5,106.7 176.4,104.6" fill="#565e2b" stroke="#565e2b"/>
<polygon points="176.0,109.6 177.2,111.8 178.7,108.9 177.5,106.7" fill="#535d2c" stroke="#535d2c"/>
<polygon points="177.2,111.8 178.4,114.1 179.9,111.1 178.7,108.9" fill="#565e2b" stroke="#565e2b"/>
<polygon points="178.4,114.1 179.6,116.4 181.2,113.4 179.9,111.1" fill="#5f632b" stroke="#5f632b"/>
<polygon points="179.6,116.4 180.9,118.6 182.4,115.6 181.2,113.4" fill="#6a6b2b" stroke="#6a6b2b"/>
<polygon points="180.9,118.6 182.1,121.0 183.6,117.9 182.4,115.6" fill="#74712b" stroke="#74712b"/>
<polygon points="182.1,121.0 183.4,123.3 184.9,120.2 183.6,117.9" fill="#7b742c" stroke="#7b742c"/>
<polygon points="183.4,123.3 184.6,125.7 186.2,122.5 184.9,120.2" fill="#7c752d" stroke="#7c752d"/>
<polygon points="184.6,125.7 185.9,128.1 187.4,124.9 186.2,122.5" fill="#79742c" stroke="#79742c"/>
<polygon points="185.9,128.1 187.2,130.5 188.7,127.2 187.4,124.9" fill="#72702b" stroke="#72702b"/>
<polygon points="187.2,130.5 188.5,132.9 190.0,129.6 188.7,127.2" fill="#66682b" stroke="#66682b"/>
<polygon points="188.5,132.9 189.9,135.4 191.4,132.1 190.0,129.6" fill="#5c612b" stroke="#5c612b"/>
<polygon points="189.9,135.4 191.2,137.9 192.7,134.5 191.4,132.1" fill="#555d2c" stroke="#555d2c"/>
<polygon points="191.2,137.9 192.6,140.4 194.1,137.0 192.7,134.5" fill="#535d2c" stroke="#535d2c"/>
<polygon points="192.6,140.4 194.0,143.0 195.4,139.5 194.1,137.0" fill="#585f2b" stroke="#585f2b"/>
<polygon points="194.0,143.0 195.4,145.6 196.8,142.1 195.4,139.5" fill="#62652b" stroke="#62652b"/>
<polygon points="195.4,145.6 196.8,148.2 198.2,144.6 196.8,142.1" fill="#6e6d2b" stroke="#6e6d2b"/>
<polygon points="196.8,148.2 198.2,150.8 199.6,147.2 198.2,144.6" fill="#77722c" stroke="#77722c"/>
<polygon points="198.2,150.8 199.6,153.5 201.1,149.8 199.6,147.2" fill="#7c752d" stroke="#7c752d"/>
<polygon points="199.6,153.5 201.1,156.2 202.5,152.5 201.1,149.8" fill="#7c752d" stroke="#7c752d"/>
<polygon points="201.1,156.2 202.6,159.0 204.0,155.2 202.5,152.5" fill="#77732c" stroke="#77732c"/>
<polygon points="202.6,159.0 204.0,161.7 205.5,157.9 204.0,155.2" fill="#6e6e2b" stroke="#6e6e2b"/>
<polygon points="204.0,161.7 205.6,164.5 207.0,160.6 205.5,157.9" fill="#63662b" stroke="#63662b"/>
<polygon points="205.6,164.5 207.1,167.4 208.5,163.4 207.0,160.6" fill="#59602b" stroke="#59602b"/>
<polygon points="207.1,167.4 208.6,170.2 210.0,166.2 208.5,163.4" fill="#535d2c" stroke="#535d2c"/>
<polygon points="208.6,170.2 210.2,173.1 211.6,169.1 210.0,166.2" fill="#545d2c" stroke="#545d2c"/>
<polygon points="210.2,173.1 211.8,176.1 213.1,172.0 211.6,169.1" fill="#5b612b" stroke="#5b612b"/>
<polygon points="211.8,176.1 213.4,179.1 214.7,174.9 213.1,172.0" fill="#66682b" stroke="#66682b"/>
<polygon points="213.4,179.1 215.0,182.1 216.3,177.8 214.7,174.9" fill="#716f2b" stroke="#716f2b"/>
<polygon points="215.0,182.1 216.6,185.1 218.0,180.8 216.3,177.8" fill="#79742c" stroke="#79742c"/>
<polygon points="216.6,185.1 218.3,188.2 219.6,183.8 218.0,180.8" fill="#7c752d" stroke="#7c752d"/>
<polygon points="218.3,188.2 220.0,191.3 221.3,186.9 219.6,183.8" fill="#7b752c" stroke="#7b752c"/>
<polygon points="220.0,191.3 221.7,194.5 223.0,190.0 221.3,186.9" fill="#75722b" stroke="#75722b"/>
<polygon points="221.7,194.5 223.4,197.7 224.7,193.1 223.0,190.0" fill="#6b6b2b" stroke="#6b6b2b"/>
<polygon points="223.4,197.7 225.2,201.0 226.4,196.3 224.7,193.1" fill="#5f642b" stroke="#5f642b"/>
<polygon points="155.9,77.6 156.9,79.4 158.4,77.0 157.4,75.1" fill="#6f6e2b" stroke="#6f6e2b"/>
<polygon points="156.9,79.4 157.9,81.3 159.4,78.8 158.4,77.0" fill="#6d6d2b" stroke="#6d6d2b"/>
<polygon points="157.9,81.3 158.9,83.2 160.4,80.7 159.4,78.8" fill="#67692b" stroke="#67692b"/>
<polygon points="158.9,83.2 159.9,85.1 161.4,82.6 160.4,80.7" fill="#5e632b" stroke="#5e632b"/>
<polygon points="159.9,85.1 161.0,87.1 162.5,84.5 161.4,82.6" fill="#555e2c" stroke="#555e2c"/>
<polygon points="161.0,87.1 162.0,89.0 163.5,86.4 162.5,84.5" fill="#4e5a2c" stroke="#4e5a2c"/>
<polygon points="162.0,89.0 163.1,91.0 164.6,88.4 163.5,86.4" fill="#4b592d" stroke="#4b592d"/>
<polygon points="163.1,91.0 164.1,93.0 165.6,90.3 164.6,88.4" fill="#4d5a2c" stroke="#4d5a2c"/>
<polygon points="164.1,93.0 165.2,95.0 166.7,92.3 165.6,90.3" fill="#545d2c" stroke="#545d2c"/>
<polygon points="165.2,95.0 166.3,97.1 167.8,94.3 166.7,92.3" fill="#5e622b" stroke="#5e622b"/>
<polygon points="166.3,97.1 167.4,99.1 168.8,96.3 167.8,94.3" fill="#67682b" stroke="#67682b"/>
<polygon points="167.4,99.1 168.5,101.2 169.9,98.4 168.8,96.3" fill="#6d6d2b" stroke="#6d6d2b"/>
<polygon points="168.5,101.2 169.6,103.3 171.1,100.4 169.9,98.4" fill="#6f6e2b" stroke="#6f6e2b"/>
<polygon points="169.6,103.3 170.7,105.4 172.2,102.5 171.1,100.4" fill="#6c6c2b" stroke="#6c6c2b"/>
<polygon points="170.7,105.4 171.8,107.5 173.3,104.6 172.2,102.5" fill="#65672b" stroke="#65672b"/>
<polygon points="171.8,107.5 173.0,109.7 174.5,106.7 173.3,104.6" fill="#5c612b" stroke="#5c612b"/>
<polygon points="173.0,109.7 174.1,111.9 175.6,108.9 174.5,106.7" fill="#535d2c" stroke="#535d2c"/>
<polygon points="174.1,111.9 175.3,114.1 176.8,111.1 175.6,108.9" fill="#4d5a2c" stroke="#4d5a2c"/>
<polygon points="175.3,114.1 176.5,116.3 178.0,113.3 176.8,111.1" fill="#4b592c" stroke="#4b592c"/>
<polygon points="176.5,116.3 177.7,118.6 179.2,115.5 178.0,113.3" fill="#4f5b2c" stroke="#4f5b2c"/>
<polygon points="177.7,118.6 178.9,120.9 180.4,117.7 179.2,115.5" fill="#565e2b" stroke="#565e2b"/>
<polygon points="178.9,120.9 180.1,123.2 181.6,120.0 180.4,117.7" fill="#60642b" stroke="#60642b"/>
<polygon points="180.1,123.2 181.4,125.5 182.8,122.3 181.6,120.0" fill="#686a2b" stroke="#686a2b"/>
<polygon points="181.4,125.5 182.6,127.8 184.1,124.6 182.8,122.3" fill="#6e6d2b" stroke="#6e6d2b"/>
<polygon points="182.6,127.8 183.9,130.2 185.3,126.9 184.1,124.6" fill="#6f6e2b" stroke="#6f6e2b"/>
<polygon points="183.9,130.2 185.1,132.6 186.6,129.3 185.3,126.9" fill="#6b6b2b" stroke="#6b6b2b"/>
<polygon points="185.1,132.6 186.4,135.0 187.9,131.7 186.6,129.3" fill="#63662b" stroke="#63662b"/>
<polygon points="186.4,135.0 187.7,137.5 189.2,134.1 187.9,131.7" fill="#5a602b" stroke="#5a602b"/>
<polygon points="187.7,137.5 189.1,140.0 190.5,136.5 189.2,134.1" fill="#515c2c" stroke="#515c2c"/>
<polygon points="189.1,140.0 190.4,142.5 191.8,139.0 190.5,136.5" fill="#4c592c" stroke="#4c592c"/>
<polygon points="190.4,142.5 191.7,145.0 193.1,141.5 191.8,139.0" fill="#4b592c" stroke="#4b592c"/>
<polygon points="191.7,145.0 193.1,147.6 194.5,144.0 193.1,141.5" fill="#505b2c" stroke="#505b2c"/>
<polygon points="193.1,147.6 194.5,150.2 195.9,146.5 194.5,144.0" fill="#595f2b" stroke="#595f2b"/>
<polygon points="194.5,150.2 195.9,152.8 197.2,149.1 195.9,146.5" fill="#62652b" stroke="#62652b"/>
<polygon points="195.9,152.8 197.3,155.5 198.7,151.7 197.2,149.1" fill="#6a6b2b" stroke="#6a6b2b"/>
<polygon points="197.3,155.5 198.7,158.1 200.1,154.3 198.7,151.7" fill="#6f6e2b" stroke="#6f6e2b"/>
<polygon points="198.7,158.1 200.1,160.9 201.5,157.0 200.1,154.3" fill="#6e6e2b" stroke="#6e6e2b"/>
<polygon points="200.1,160.9 201.6,163.6 203.0,159.7 201.5,157.0" fill="#696a2b" stroke="#696a2b"/>
<polygon points="201.6,163.6 203.1,166.4 204.4,162.4 203.0,159.7" fill="#61652b" stroke="#61652b"/>
<polygon points="203.1,166.4 204.6,169.2 205.9,165.2 204.4,162.4" fill="#575f2b" stroke="#575f2b"/>
<polygon points="204.6,169.2 206.1,172.0 207.4,168.0 205.9,165.2" fill="#4f5b2c" stroke="#4f5b2c"/>
<polygon points="206.1,172.0 207.6,174.9 208.9,170.8 207.4,168.0" fill="#4b592c" stroke="#4b592c"/>
<polygon points="207.6,174.9 209.1,177.8 210.5,173.7 208.9,170.8" fill="#4c5a2c" stroke="#4c5a2c"/>
<polygon points="209.1,177.8 210.7,180.8 212.0,176.5 210.5,173.7" fill="#525c2c" stroke="#525c2c"/>
<polygon points="210.7,180.8 212.3,183.8 213.6,179.5 212.0,176.5" fill="#5b612b" stroke="#5b612b"/>
<polygon points="212.3,183.8 213.9,186.8 215.2,182.4 213.6,179.5" fill="#64672b" stroke="#64672b"/>
<polygon points="213.9,186.8 215.5,189.8 216.8,185.4 215.2,182.4" fill="#6c6c2b" stroke="#6c6c2b"/>
<polygon points="215.5,189.8 217.2,192.9 218.4,188.5 216.8,185.4" fill="#6f6e2b" stroke="#6f6e2b"/>
<polygon points="217.2,192.9 218.8,196.0 220.1,191.5 218.4,188.5" fill="#6e6d2b" stroke="#6e6d2b"/>
<polygon points="218.8,196.0 220.5,199.2 221.7,194.6 220.1,191.5" fill="#68692b" stroke="#68692b"/>
<polygon points="220.5,199.2 222.2,202.4 223.4,197.8 221.7,194.6" fill="#5f632b" stroke="#5f632b"/>
<polygon points="222.2,202.4 223.9,205.7 225.2,201.0 223.4,197.8" fill="#555e2b" stroke="#555e2b"/>
<polygon points="154.5,80.1 155.5,82.0 156.9,79.4 155.9,77.6" fill="#5f632b" stroke="#5f632b"/>
<polygon points="155.5,82.0 156.5,83.9 157.9,81.3 156.9,79.4" fill="#60642b" stroke="#60642b"/>
<polygon points="156.5,83.9 157.5,85.8 158.9,83.2 157.9,81.3" fill="#5d622b" stroke="#5d622b"/>
<polygon points="157.5,85.8 158.5,87.8 159.9,85.1 158.9,83.2" fill="#575f2b" stroke="#575f2b"/>
<polygon points="158.5,87.8 159.6,89.8 161.0,87.1 159.9,85.1" fill="#505b2c" stroke="#505b2c"/>
<polygon points="159.6,89.8 160.6,91.7 162.0,89.0 161.0,87.1" fill="#49582d" stroke="#49582d"/>
<polygon points="160.6,91.7 161.6,93.7 163.1,91.0 162.0,89.0" fill="#44562d" stroke="#44562d"/>
<polygon points="161.6,93.7 162.7,95.8 164.1,93.0 163.1,91.0" fill="#44562d" stroke="#44562d"/>
<polygon points="162.7,95.8 163.8,97.8 165.2,95.0 164.1,93.0" fill="#47572d" stroke="#47572d"/>
<polygon points="163.8,97.8 164.9,99.9 166.3,97.1 165.2,95.0" fill="#4e5a2c" stroke="#4e5a2c"/>
<polygon points="164.9,99.9 166.0,102.0 167.4,99.1 166.3,97.1" fill="#565e2b" stroke="#565e2b"/>
<polygon points="166.0,102.0 167.1,104.1 168.5,101.2 167.4,99.1" fill="#5c612b" stroke="#5c612b"/>
<polygon points="167.1,104.1 168.2,106.2 169.6,103.3 168.5,101.2" fill="#60642b" stroke="#60642b"/>
<polygon points="168.2,106.2 169.3,108.4 170.7,105.4 169.6,103.3" fill="#5f642b" stroke="#5f642b"/>
<polygon points="169.3,108.4 170.4,110.5 171.8,107.5 170.7,105.4" fill="#5b612b" stroke="#5b612b"/>
<polygon points="170.4,110.5 171.6,112.7 173.0,109.7 171.8,107.5" fill="#545d2c" stroke="#545d2c"/>
<polygon points="171.6,112.7 172.8,115.0 174.1,111.9 173.0,109.7" fill="#4d5a2c" stroke="#4d5a2c"/>
<polygon points="172.8,115.0 173.9,117.2 175.3,114.1 174.1,111.9" fill="#46572d" stroke="#46572d"/>
<polygon points="173.9,117.2 175.1,119.5 176.5,116.3 175.3,114.1" fill="#43552d" stroke="#43552d"/>
<polygon points="175.1,119.5 176.3,121.7 177.7,118.6 176.5,116.3" fill="#45562d" stroke="#45562d"/>
<polygon points="176.3,121.7 177.5,124.1 178.9,120.9 177.7,118.6" fill="#4a582d" stroke="#4a582d"/>
<polygon points="177.5,124.1 178.8,126.4 180.1,123.2 178.9,120.9" fill="#515c2c" stroke="#515c2c"/>
<polygon points="178.8,126.4 180.0,128.8 181.4,125.5 180.1,123.2" fill="#585f2b" stroke="#585f2b"/>
<polygon points="180.0,128.8 181.2,131.2 182.6,127.8 181.4,125.5" fill="#5e632b" stroke="#5e632b"/>
<polygon points="181.2,131.2 182.5,133.6 183.9,130.2 182.6,127.8" fill="#60642b" stroke="#60642b"/>
<polygon points="182.5,133.6 183.8,136.0 185.1,132.6 183.9,130.2" fill="#5e632b" stroke="#5e632b"/>
<polygon points="183.8,136.0 185.1,138.5 186.4,135.0 185.1,132.6" fill="#595f2b" stroke="#595f2b"/>
<polygon points="185.1,138.5 186.4,141.0 187.7,137.5 186.4,135.0" fill="#515c2c" stroke="#515c2c"/>
<polygon points="186.4,141.0 187.7,143.5 189.1,140.0 187.7,137.5" fill="#4a592d" stroke="#4a592d"/>
<polygon points="187.7,143.5 189.1,146.1 190.4,142.5 189.1,140.0" fill="#45562d" stroke="#45562d"/>
<polygon points="189.1,146.1 190.4,148.6 191.7,145.0 190.4,142.5" fill="#43552d" stroke="#43552d"/>
<polygon points="190.4,148.6 191.8,151.2 193.1,147.6 191.7,145.0" fill="#46572d" stroke="#46572d"/>
<polygon points="191.8,151.2 193.2,153.9 194.5,150.2 193.1,147.6" fill="#4c5a2c" stroke="#4c5a2c"/>
<polygon points="193.2,153.9 194.6,156.6 195.9,152.8 194.5,150.2" fill="#545d2c" stroke="#545d2c"/>
<polygon points="194.6,156.6 196.0,159.3 197.3,155.5 195.9,152.8" fill="#5b612b" stroke="#5b612b"/>
<polygon points="196.0,159.3 197.4,162.0 198.7,158.1 197.3,155.5" fill="#5f632b" stroke="#5f632b"/>
<polygon points="197.4,162.0 198.8,164.8 200.1,160.9 198.7,158.1" fill="#60642b" stroke="#60642b"/>
<polygon points="198.8,164.8 200.3,167.5 201.6,163.6 200.1,160.9" fill="#5c622b" stroke="#5c622b"/>
<polygon points="200.3,167.5 201.8,170.4 203.1,166.4 201.6,163.6" fill="#565e2b" stroke="#565e2b"/>
<polygon points="201.8,170.4 203.3,173.2 204.6,169.2 203.1,166.4" fill="#4e5b2c" stroke="#4e5b2c"/>
<polygon points="203.3,173.2 204.8,176.1 206.1,172.0 204.6,169.2" fill="#48572d" stroke="#48572d"/>
<polygon points="204.8,176.1 206.3,179.1 207.6,174.9 206.1,172.0" fill="#44562d" stroke="#44562d"/>
<polygon points="206.3,179.1 207.9,182.0 209.1,177.8 207.6,174.9" fill="#44562d" stroke="#44562d"/>
<polygon points="207.9,182.0 209.5,185.0 210.7,180.8 209.1,177.8" fill="#48582d" stroke="#48582d"/>
<polygon points="209.5,185.0 211.1,188.1 212.3,183.8 210.7,180.8" fill="#4f5b2c" stroke="#4f5b2c"/>
<polygon points="211.1,188.1 212.7,191.1 213.9,186.8 212.3,183.8" fill="#575f2b" stroke="#575f2b"/>
<polygon points="212.7,191.1 214.3,194.3 215.5,189.8 213.9,186.8" fill="#5d622b" stroke="#5d622b"/>
<polygon points="214.3,194.3 216.0,197.4 217.2,192.9 215.5,189.8" fill="#60642b" stroke="#60642b"/>
<polygon points="216.0,197.4 217.6,200.6 218.8,196.0 217.2,192.9" fill="#5f632b" stroke="#5f632b"/>
<polygon points="217.6,200.6 219.3,203.8 220.5,199.2 218.8,196.0" fill="#5a602b" stroke="#5a602b"/>
<polygon points="219.3,203.8 221.0,207.1 222.2,202.4 220.5,199.2" fill="#535d2c" stroke="#535d2c"/>
<polygon points="221.0,207.1 222.8,210.4 223.9,205.7 222.2,202.4" fill="#4b592c" stroke="#4b592c"/>
<polygon points="153.2,82.7 154.1,84.6 155.5,82.0 154.5,80.1" fill="#4e5b2c" stroke="#4e5b2c"/>
<polygon points="154.1,84.6 155.1,86.5 156.5,83.8 155.5,82.0" fill="#515c2c" stroke="#515c2c"/>
<polygon points="155.1,86.5 156.1,88.4 157.4,85.7 156.5,83.8" fill="#515c2c" stroke="#515c2c"/>
<polygon points="156.1,88.4 157.1,90.3 158.4,87.6 157.4,85.7" fill="#4e5a2c" stroke="#4e5a2c"/>
<polygon points="157.1,90.3 158.1,92.3 159.5,89.6 158.4,87.6" fill="#49582d" stroke="#49582d"/>
<polygon points="158.1,92.3 159.2,94.3 160.5,91.5 159.5,89.6" fill="#43552d" stroke="#43552d"/>
<polygon points="159.2,94.3 160.2,96.3 161.5,93.5 160.5,91.5" fill="#3f532e" stroke="#3f532e"/>
<polygon points="160.2,96.3 161.2,98.3 162.5,95.5 161.5,93.5" fill="#3c522e" stroke="#3c522e"/>
<polygon points="161.2,98.3 162.3,100.3 163.6,97.5 162.5,95.5" fill="#3d522e" stroke="#3d522e"/>
<polygon points="162.3,100.3 163.3,102.4 164.7,99.5 163.6,97.5" fill="#40542e" stroke="#40542e"/>
<polygon points="163.3,102.4 164.4,104.4 165.7,101.5 164.7,99.5" fill="#45562d" stroke="#45562d"/>
<polygon points="164.4,104.4 165.5,106.5 166.8,103.6 165.7,101.5" fill="#4b592c" stroke="#4b592c"/>
<polygon points="165.5,106.5 166.6,108.6 167.9,105.7 166.8,103.6" fill="#4f5b2c" stroke="#4f5b2c"/>
<polygon points="166.6,108.6 167.7,110.8 169.0,107.8 167.9,105.7" fill="#515c2c" stroke="#515c2c"/>
<polygon points="167.7,110.8 168.8,112.9 170.1,109.9 169.0,107.8" fill="#505b2c" stroke="#505b2c"/>
<polygon points="168.8,112.9 169.9,115.1 171.2,112.1 170.1,109.9" fill="#4d5a2c" stroke="#4d5a2c"/>
<polygon points="169.9,115.1 171.1,117.3 172.4,114.2 171.2,112.1" fill="#47572d" stroke="#47572d"/>
<polygon points="171.1,117.3 172.2,119.5 173.5,116.4 172.4,114.2" fill="#42552d" stroke="#42552d"/>
<polygon points="172.2,119.5 173.4,121.8 174.7,118.6 173.5,116.4" fill="#3e532e" stroke="#3e532e"/>
<polygon points="173.4,121.8 174.6,124.1 175.9,120.9 174.7,118.6" fill="#3c522e" stroke="#3c522e"/>
<polygon points="174.6,124.1 175.8,126.4 177.0,123.1 175.9,120.9" fill="#3e532e" stroke="#3e532e"/>
<polygon points="175.8,126.4 177.0,128.7 178.2,125.4 177.0,123.1" fill="#42552d" stroke="#42552d"/>
<polygon points="177.0,128.7 178.2,131.0 179.5,127.7 178.2,125.4" fill="#47572d" stroke="#47572d"/>
<polygon points="178.2,131.0 179.4,133.4 180.7,130.1 179.5,127.7" fill="#4d5a2c" stroke="#4d5a2c"/>
<polygon points="179.4,133.4 180.6,135.8 181.9,132.4 180.7,130.1" fill="#505b2c" stroke="#505b2c"/>
<polygon points="180.6,135.8 181.9,138.2 183.2,134.8 181.9,132.4" fill="#515c2c" stroke="#515c2c"/>
<polygon points="181.9,138.2 183.1,140.7 184.4,137.2 183.2,134.8" fill="#4f5b2c" stroke="#4f5b2c"/>
<polygon points="183.1,140.7 184.4,143.1 185.7,139.7 184.4,137.2" fill="#4b592d" stroke="#4b592d"/>
<polygon points="184.4,143.1 185.7,145.6 187.0,142.1 185.7,139.7" fill="#45562d" stroke="#45562d"/>
<polygon points="185.7,145.6 187.0,148.2 188.3,144.6 187.0,142.1" fill="#40542e" stroke="#40542e"/>
<polygon points="187.0,148.2 188.3,150.7 189.6,147.1 188.3,144.6" fill="#3d522e" stroke="#3d522e"/>
<polygon points="188.3,150.7 189.7,153.3 190.9,149.7 189.6,147.1" fill="#3c522e" stroke="#3c522e"/>
<polygon points="189.7,153.3 191.0,155.9 192.3,152.2 190.9,149.7" fill="#3f532e" stroke="#3f532e"/>
<polygon points="191.0,155.9 192.4,158.6 193.7,154.8 192.3,152.2" fill="#43552d" stroke="#43552d"/>
<polygon points="192.4,158.6 193.8,161.2 195.0,157.5 193.7,154.8" fill="#49582d" stroke="#49582d"/>
<polygon points="193.8,161.2 195.2,163.9 196.4,160.1 195.0,157.5" fill="#4e5a2c" stroke="#4e5a2c"/>
<polygon points="195.2,163.9 196.6,166.7 197.8,162.8 196.4,160.1" fill="#515c2c" stroke="#515c2c"/>
<polygon points="196.6,166.7 198.0,169.4 199.3,165.5 197.8,162.8" fill="#515c2c" stroke="#515c2c"/>
<polygon points="198.0,169.4 199.5,172.2 200.7,168.3 199.3,165.5" fill="#4e5b2c" stroke="#4e5b2c"/>
<polygon points="199.5,172.2 200.9,175.1 202.2,171.1 200.7,168.3" fill="#49582d" stroke="#49582d"/>
<polygon points="200.9,175.1 202.4,177.9 203.6,173.9 202.2,171.1" fill="#44562d" stroke="#44562d"/>
<polygon points="202.4,177.9 203.9,180.8 205.1,176.7 203.6,173.9" fill="#3f532e" stroke="#3f532e"/>
<polygon points="203.9,180.8 205.4,183.8 206.6,179.6 205.1,176.7" fill="#3c522e" stroke="#3c522e"/>
<polygon points="205.4,183.8 207.0,186.7 208.2,182.5 206.6,179.6" fill="#3d522e" stroke="#3d522e"/>
<polygon points="207.0,186.7 208.5,189.7 209.7,185.5 208.2,182.5" fill="#40542e" stroke="#40542e"/>
<polygon points="208.5,189.7 210.1,192.8 211.3,188.5 209.7,185.5" fill="#45562d" stroke="#45562d"/>
<polygon points="210.1,192.8 211.7,195.9 212.9,191.5 211.3,188.5" fill="#4b592d" stroke="#4b592d"/>
<polygon points="211.7,195.9 213.3,199.0 214.5,194.6 212.9,191.5" fill="#4f5b2c" stroke="#4f5b2c"/>
<polygon points="213.3,199.0 214.9,202.1 216.1,197.7 214.5,194.6" fill="#515c2c" stroke="#515c2c"/>
<polygon points="214.9,202.1 216.6,205.3 217.7,200.8 216.1,197.7" fill="#505c2c" stroke="#505c2c"/>
<polygon points="216.6,205.3 218.2,208.5 219.4,204.0 217.7,200.8" fill="#4d5a2c" stroke="#4d5a2c"/>
<polygon points="218.2,208.5 219.9,211.8 221.1,207.2 219.4,204.0" fill="#48572d" stroke="#48572d"/>
<polygon points="219.9,211.8 221.7,215.1 222.8,210.4 221.1,207.2" fill="#42552d" stroke="#42552d"/>
<polygon points="151.9,85.3 152.9,87.2 154.1,84.5 153.2,82.7" fill="#3f542e" stroke="#3f542e"/>
<polygon points="152.9,87.2 153.9,89.0 155.1,86.4 154.1,84.5" fill="#42552d" stroke="#42552d"/>
<polygon points="153.9,89.0 154.8,90.9 156.1,88.3 155.1,86.4" fill="#43552d" stroke="#43552d"/>
<polygon points="154.8,90.9 155.8,92.9 157.1,90.2 156.1,88.3" fill="#42552d" stroke="#42552d"/>
<polygon points="155.8,92.9 156.8,94.8 158.0,92.1 157.1,90.2" fill="#40542e" stroke="#40542e"/>
<polygon points="156.8,94.8 157.8,96.8 159.0,94.0 158.0,92.1" fill="#3c522e" stroke="#3c522e"/>
<polygon points="157.8,96.8 158.8,98.8 160.1,96.0 159.0,94.0" fill="#3a502f" stroke="#3a502f"/>
<polygon points="158.8,98.8 159.8,100.8 161.1,98.0 160.1,96.0" fill="#384f30" stroke="#384f30"/>
<polygon points="159.8,100.8 160.9,102.8 162.1,100.0 161.1,98.0" fill="#374e31" stroke="#374e31"/>
<polygon points="160.9,102.8 161.9,104.8 163.1,102.0 162.1,100.0" fill="#384f30" stroke="#384f30"/>
<polygon points="161.9,104.8 163.0,106.9 164.2,104.0 163.1,102.0" fill="#3a502f" stroke="#3a502f"/>
<polygon points="163.0,106.9 164.0,109.0 165.3,106.1 164.2,104.0" fill="#3d522e" stroke="#3d522e"/>
<polygon points="164.0,109.0 165.1,111.1 166.3,108.1 165.3,106.1" fill="#40542e" stroke="#40542e"/>
<polygon points="165.1,111.1 166.2,113.2 167.4,110.2 166.3,108.1" fill="#43552d" stroke="#43552d"/>
<polygon points="166.2,113.2 167.3,115.3 168.5,112.3 167.4,110.2" fill="#43552d" stroke="#43552d"/>
<polygon points="167.3,115.3 168.4,117.5 169.6,114.5 168.5,112.3" fill="#42552d" stroke="#42552d"/>
<polygon points="168.4,117.5 169.5,119.7 170.7,116.6 169.6,114.5" fill="#3f532e" stroke="#3f532e"/>
<polygon points="169.5,119.7 170.6,121.9 171.8,118.8 170.7,116.6" fill="#3c522e" stroke="#3c522e"/>
<polygon points="170.6,121.9 171.8,124.1 173.0,121.0 171.8,118.8" fill="#395030" stroke="#395030"/>
<polygon points="171.8,124.1 172.9,126.4 174.1,123.2 173.0,121.0" fill="#384e30" stroke="#384e30"/>
<polygon points="172.9,126.4 174.1,128.6 175.3,125.5 174.1,123.2" fill="#374e31" stroke="#374e31"/>
<polygon points="174.1,128.6 175.3,130.9 176.5,127.7 175.3,125.5" fill="#384f30" stroke="#384f30"/>
<polygon points="175.3,130.9 176.4,133.3 177.6,130.0 176.5,127.7" fill="#3a512f" stroke="#3a512f"/>
<polygon points="176.4,133.3 177.6,135.6 178.8,132.3 177.6,130.0" fill="#3d532e" stroke="#3d532e"/>
<polygon points="177.6,135.6 178.9,138.0 180.1,134.7 178.8,132.3" fill="#41542e" stroke="#41542e"/>
<polygon points="178.9,138.0 180.1,140.4 181.3,137.0 180.1,134.7" fill="#43552d" stroke="#43552d"/>
<polygon points="180.1,140.4 181.3,142.8 182.5,139.4 181.3,137.0" fill="#43552d" stroke="#43552d"/>
<polygon points="181.3,142.8 182.6,145.3 183.8,141.8 182.5,139.4" fill="#42552d" stroke="#42552d"/>
<polygon points="182.6,145.3 183.8,147.7 185.0,144.3 183.8,141.8" fill="#3e532e" stroke="#3e532e"/>
<polygon points="183.8,147.7 185.1,150.2 186.3,146.8 185.0,144.3" fill="#3b512f" stroke="#3b512f"/>
<polygon points="185.1,150.2 186.4,152.8 187.6,149.2 186.3,146.8" fill="#394f30" stroke="#394f30"/>
<polygon points="186.4,152.8 187.7,155.3 188.9,151.8 187.6,149.2" fill="#374e31" stroke="#374e31"/>
<polygon points="187.7,155.3 189.0,157.9 190.2,154.3 188.9,151.8" fill="#374e31" stroke="#374e31"/>
<polygon points="189.0,157.9 190.4,160.5 191.5,156.9 190.2,154.3" fill="#394f30" stroke="#394f30"/>
<polygon points="190.4,160.5 191.7,163.2 192.9,159.5 191.5,156.9" fill="#3b512f" stroke="#3b512f"/>
<polygon points="191.7,163.2 193.1,165.9 194.3,162.1 192.9,159.5" fill="#3e532e" stroke="#3e532e"/>
<polygon points="193.1,165.9 194.5,168.6 195.6,164.8 194.3,162.1" fill="#41552d" stroke="#41552d"/>
<polygon points="194.5,168.6 195.9,171.3 197.0,167.5 195.6,164.8" fill="#43552d" stroke="#43552d"/>
<polygon points="195.9,171.3 197.3,174.1 198.4,170.2 197.0,167.5" fill="#43552d" stroke="#43552d"/>
<polygon points="197.3,174.1 198.7,176.9 199.9,173.0 198.4,170.2" fill="#41542e" stroke="#41542e"/>
<polygon points="198.7,176.9 200.2,179.7 201.3,175.8 199.9,173.0" fill="#3e532e" stroke="#3e532e"/>
<polygon points="200.2,179.7 201.6,182.6 202.8,178.6 201.3,175.8" fill="#3b512f" stroke="#3b512f"/>
<polygon points="201.6,182.6 203.1,185.5 204.2,181.4 202.8,178.6" fill="#384f30" stroke="#384f30"/>
<polygon points="203.1,185.5 204.6,188.4 205.7,184.3 204.2,181.4" fill="#374e31" stroke="#374e31"/>
<polygon points="204.6,188.4 206.1,191.4 207.2,187.2 205.7,184.3" fill="#384e30" stroke="#384e30"/>
<polygon points="206.1,191.4 207.6,194.4 208.8,190.2 207.2,187.2" fill="#395030" stroke="#395030"/>
<polygon points="207.6,194.4 209.2,197.4 210.3,193.2 208.8,190.2" fill="#3c522e" stroke="#3c522e"/>
<polygon points="209.2,197.4 210.8,200.5 211.9,196.2 210.3,193.2" fill="#3f532e" stroke="#3f532e"/>
<polygon points="210.8,200.5 212.4,203.6 213.4,199.3 211.9,196.2" fill="#42552d" stroke="#42552d"/>
<polygon points="212.4,203.6 214.0,206.7 215.0,202.4 213.4,199.3" fill="#43552d" stroke="#43552d"/>
<polygon points="214.0,206.7 215.6,209.9 216.7,205.5 215.0,202.4" fill="#43552d" stroke="#43552d"/>
<polygon points="215.6,209.9 217.2,213.1 218.3,208.7 216.7,205.5" fill="#40542e" stroke="#40542e"/>
<polygon points="217.2,213.1 218.9,216.4 220.0,211.9 218.3,208.7" fill="#3d522e" stroke="#3d522e"/>
<polygon points="218.9,216.4 220.6,219.7 221.7,215.1 220.0,211.9" fill="#3a502f" stroke="#3a502f"/>
<polygon points="150.8,87.8 219.6,224.2 220.6,219.7 151.9,85.3" fill="#354c32" stroke="#354c32"/>
<polygon points="149.8,90.2 218.7,228.4 219.6,224.2 150.8,87.8" fill="#2f4735" stroke="#2f4735"/>
<polygon points="148.8,92.5 217.8,232.3 218.7,228.4 149.8,90.2" fill="#294239" stroke="#294239"/>
<polygon points="147.9,94.6 217.1,235.9 217.8,232.3 148.8,92.5" fill="#253c3a" stroke="#253c3a"/>
<polygon points="147.2,96.5 216.4,239.1 217.1,235.9 147.9,94.6" fill="#233739" stroke="#233739"/>
<polygon points="146.5,98.1 215.8,241.8 216.4,239.1 147.2,96.5" fill="#213339" stroke="#213339"/>
<polygon points="146.0,98.4 215.4,242.9 215.8,241.8 146.5,98.1" fill="#1f2f38" stroke="#1f2f38"/>
<polygon points="145.6,98.2 215.1,243.3 215.4,242.9 146.0,98.4" fill="#1d2c38" stroke="#1d2c38"/>
<polygon points="145.4,98.2 215.0,243.5 215.1,243.3 145.6,98.2" fill="#1c2b38" stroke="#1c2b38"/>
<polygon points="145.2,98.3 214.7,243.4 215.0,243.5 145.4,98.2" fill="#33497b" stroke="#33497b"/>
<polygon points="145.0,98.5 214.1,243.2 214.7,243.4 145.2,98.3" fill="#34497a" stroke="#34497a"/>
<polygon points="144.6,98.4 213.3,242.4 214.1,243.2 145.0,98.5" fill="#344979" stroke="#344979"/>
<polygon points="144.2,97.0 212.4,239.9 213.3,242.4 144.6,98.4" fill="#364a78" stroke="#364a78"/>
<polygon points="143.6,95.3 211.4,237.1 212.4,239.9 144.2,97.0" fill="#374d70" stroke="#374d70"/>
<polygon points="143.0,93.4 210.2,234.0 211.4,237.1 143.6,95.3" fill="#38555f" stroke="#38555f"/>
<polygon points="142.3,91.4 208.9,230.5 210.2,234.0 143.0,93.4" fill="#3a5d4f" stroke="#3a5d4f"/>
<polygon points="141.5,89.3 207.4,226.8 208.9,230.5 142.3,91.4" fill="#3d6342" stroke="#3d6342"/>
<polygon points="140.6,87.1 205.9,222.9 207.4,226.8 141.5,89.3" fill="#466c3a" stroke="#466c3a"/>
<polygon points="139.7,84.8 204.2,218.9 205.9,222.9 140.6,87.1" fill="#567736" stroke="#567736"/>
<polygon points="138.8,82.5 202.4,214.7 204.2,218.9 139.7,84.8" fill="#6f8638" stroke="#6f8638"/>
<polygon points="137.8,80.4 200.4,210.6 202.4,214.7 138.8,82.5" fill="#8c983c" stroke="#8c983c"/>
<polygon points="136.7,78.3 198.4,206.5 200.4,210.6 137.8,80.4" fill="#a8a842" stroke="#a8a842"/>
<polygon points="135.6,76.4 196.2,202.5 198.4,206.5 136.7,78.3" fill="#c2b649" stroke="#c2b649"/>
<polygon points="134.4,74.7 193.9,198.7 196.2,202.5 135.6,76.4" fill="#d0b74e" stroke="#d0b74e"/>
<polygon points="133.2,73.2 191.5,195.1 193.9,198.7 134.4,74.7" fill="#deb753" stroke="#deb753"/>
<polygon points="131.9,72.0 189.0,191.6 191.5,195.1 133.2,73.2" fill="#dfa653" stroke="#dfa653"/>
<polygon points="130.6,71.0 186.3,188.4 189.0,191.6 131.9,72.0" fill="#e09654" stroke="#e09654"/>
<polygon points="129.3,70.3 183.6,185.4 186.3,188.4 130.6,71.0" fill="#e18352" stroke="#e18352"/>
<polygon points="127.9,69.8 180.8,182.7 183.6,185.4 129.3,70.3" fill="#e26f4e" stroke="#e26f4e"/>
<polygon points="126.5,69.6 177.9,180.2 180.8,182.7 127.9,69.8" fill="#e35d4b" stroke="#e35d4b"/>
<polygon points="125.0,69.7 174.9,177.8 177.9,180.2 126.5,69.6" fill="#e24c48" stroke="#e24c48"/>
<polygon points="123.5,70.0 171.8,175.7 174.9,177.8 125.0,69.7" fill="#e64b48" stroke="#e64b48"/>
<polygon points="122.0,70.4 168.7,173.7 171.8,175.7 123.5,70.0" fill="#e84b49" stroke="#e84b49"/>
<polygon points="120.4,71.1 165.5,171.9 168.7,173.7 122.0,70.4" fill="#ea4a49" stroke="#ea4a49"/>
<polygon points="118.7,71.9 162.2,170.2 165.5,171.9 120.4,71.1" fill="#ea4a49" stroke="#ea4a49"/>
<polygon points="117.1,72.8 158.9,168.5 162.2,170.2 118.7,71.9" fill="#e94948" stroke="#e94948"/>
<polygon points="115.3,73.9 155.5,167.0 158.9,168.5 117.1,72.8" fill="#e84948" stroke="#e84948"/>
<polygon points="113.6,75.1 152.0,165.5 155.5,167.0 115.3,73.9" fill="#e74847" stroke="#e74847"/>
<polygon points="111.8,76.3 148.5,164.0 152.0,165.5 113.6,75.1" fill="#e64847" stroke="#e64847"/>
<polygon points="109.9,77.7 145.0,162.6 148.5,164.0 111.8,76.3" fill="#e64747" stroke="#e64747"/>
<polygon points="108.0,79.2 141.3,161.2 145.0,162.6 109.9,77.7" fill="#e54746" stroke="#e54746"/>
<polygon points="106.0,80.7 137.7,159.8 141.3,161.2 108.0,79.2" fill="#e44646" stroke="#e44646"/>
<polygon points="104.0,82.3 134.0,158.5 137.7,159.8 106.0,80.7" fill="#e44646" stroke="#e44646"/>
<polygon points="101.9,83.9 130.2,157.1 134.0,158.5 104.0,82.3" fill="#e34646" stroke="#e34646"/>
<polygon points="99.8,85.6 126.4,155.7 130.2,157.1 101.9,83.9" fill="#e34646" stroke="#e34646"/>
<polygon points="97.6,87.4 122.6,154.4 126.4,155.7 99.8,85.6" fill="#e34646" stroke="#e34646"/>
<polygon points="95.4,89.2 118.7,153.0 122.6,154.4 97.6,87.4" fill="#e34646" stroke="#e34646"/>
<polygon points="93.1,91.1 114.8,151.6 118.7,153.0 95.4,89.2" fill="#e34646" stroke="#e34646"/>
<polygon points="90.8,93.0 110.8,150.2 114.8,151.6 93.1,91.1" fill="#e34646" stroke="#e34646"/>
<polygon points="88.4,95.0 106.8,148.8 110.8,150.2 90.8,93.0" fill="#e24645" stroke="#e24645"/>
<polygon points="85.9,97.0 102.8,147.4 106.8,148.8 88.4,95.0" fill="#e24645" stroke="#e24645"/>
<polygon points="83.4,99.1 98.7,146.0 102.8,147.4 85.9,97.0" fill="#e24645" stroke="#e24645"/>
<polygon points="80.8,101.2 94.7,144.6 98.7,146.0 83.4,99.1" fill="#e24645" stroke="#e24645"/>
<polygon points="78.1,103.4 90.5,143.2 94.7,144.6 80.8,101.2" fill="#e24645" stroke="#e24645"/>
<polygon points="75.4,105.6 86.4,141.7 90.5,143.2 78.1,103.4" fill="#e24645" stroke="#e24645"/>
<polygon points="72.7,107.9 82.2,140.3 86.4,141.7 75.4,105.6" fill="#e24645" stroke="#e24645"/>
<polygon points="69.8,110.3 78.0,138.8 82.2,140.3 72.7,107.9" fill="#e24645" stroke="#e24645"/>
<polygon points="66.9,112.7 73.8,137.4 78.0,138.8 69.8,110.3" fill="#e24645" stroke="#e24645"/>
<polygon points="63.9,115.2 69.5,135.9 73.8,137.4 66.9,112.7" fill="#e24645" stroke="#e24645"/>
<polygon points="60.9,117.7 65.2,134.4 69.5,135.9 63.9,115.2" fill="#e24645" stroke="#e24645"/>
<polygon points="57.7,120.3 60.9,132.9 65.2,134.4 60.9,117.7" fill="#e24645" stroke="#e24645"/>
<polygon points="54.5,122.9 56.6,131.4 60.9,132.9 57.7,120.3" fill="#e24645" stroke="#e24645"/>
<polygon points="51.3,125.6 52.3,129.9 56.6,131.4 54.5,122.9" fill="#e24645" stroke="#e24645"/>
<polygon points="47.9,128.4 47.9,128.4 52.3,129.9 51.3,125.6" fill="#e24645" stroke="#e24645"/>
</g>
<path d="M56.8 131.5L57.5 130.9L58.2 130.3L59.0 129.7L59.7 129.1L60.4 128.5L61.1 127.8L61.8 127.2L62.5 126.6L63.2 126.1L63.9 125.5L64.6 124.9L65.3 124.3L66.0 123.7L66.7 123.1L67.4 122.5L68.1 121.9L68.8 121.3L69.5 120.7L70.2 120.2L70.9 119.6L71.5 119.0L72.2 118.4L72.9 117.9L73.6 117.3L74.3 116.7L74.9 116.1L75.6 115.6L76.3 115.0L76.9 114.4L77.6 113.9L78.3 113.3L78.9 112.7L79.6 112.2L80.3 111.6L80.9 111.1L81.6 110.5L82.2 110.0L82.9 109.4L83.5 108.9L84.2 108.3L84.8 107.8L85.5 107.2L86.1 106.7L86.8 106.1L87.4 105.6L88.1 105.0L88.7 104.5L89.3 104.0L90.0 103.4L90.6 102.9L91.2 102.4L91.9 101.8L92.5 101.3L93.1 100.8L93.7 100.2L94.4 99.7L95.0 99.2L95.6 98.7L96.2 98.2L96.8 97.6L97.5 97.1L98.1 96.6L98.7 96.1L99.3 95.6L99.9 95.1L100.5 94.6L101.1 94.1L101.7 93.6L102.3 93.1L102.9 92.6L103.5 92.1L104.1 91.6L104.7 91.1L105.3 90.6L105.9 90.1L106.5 89.6L107.1 89.1L107.7 88.7L108.3 88.2L108.9 87.7L109.5 87.2L110.1 86.8L110.6 86.3L111.2 85.9L111.8 85.4L112.4 85.0L113.0 84.5L113.5 84.1L114.1 83.6L114.7 83.2L115.3 82.8L115.8 82.4L116.4 82.0L117.0 81.6L117.6 81.2L118.1 80.8L118.7 80.4L119.3 80.0L119.8 79.7L120.4 79.3L121.0 79.0L121.5 78.7L122.1 78.4L122.7 78.1L123.2 77.8L123.8 77.5L124.3 77.3L124.9 77.1L125.5 76.9L126.0 76.7L126.6 76.5L127.1 76.4L127.7 76.3L128.2 76.2L128.8 76.2L129.4 76.2L129.9 76.2L130.5 76.3L131.0 76.4L131.6 76.5L132.1 76.7L132.7 76.9L133.3 77.2L133.8 77.5L134.4 77.9L134.9 78.3L135.5 78.8L136.1 79.4L136.6 80.0L137.2 80.7L137.7 81.4L138.3 82.2L138.9 83.1L139.4 84.0L140.0 85.0L140.5 86.1L141.1 87.3L141.6 88.5M149.1 103.7L149.5 101.2L149.9 98.7L150.3 96.2L150.7 93.8L151.1 91.4L151.5 89.0L152.0 86.6L152.4 84.4M54.7 122.8L55.6 123.1L56.6 123.4L57.5 123.8L58.4 124.1L59.4 124.4L60.3 124.7L61.2 125.0L62.2 125.4L63.1 125.7L64.1 126.0L65.0 126.3L66.0 126.6L66.9 127.0L67.9 127.3L68.8 127.6L69.8 127.9L70.7 128.3L71.7 128.6L72.6 128.9L73.6 129.2L74.6 129.6L75.5 129.9L76.5 130.2L77.4 130.5L78.4 130.9L79.4 131.2L80.3 131.5L81.3 131.9L82.3 132.2L83.3 132.5L84.2 132.9L85.2 133.2L86.2 133.5L87.2 133.9L88.1 134.2L89.1 134.5L90.1 134.9L91.1 135.2L92.1 135.5L93.1 135.9L94.1 136.2L95.0 136.5L96.0 136.9L97.0 137.2L98.0 137.6L99.0 137.9L100.0 138.2L101.0 138.6L102.0 138.9L103.0 139.3L104.0 139.6L105.0 140.0L106.0 140.3L107.1 140.6L108.1 141.0L109.1 141.3L110.1 141.7L111.1 142.0L112.1 142.4L113.1 142.7L114.2 143.1L115.2 143.4L116.2 143.8L117.2 144.2L118.2 144.5L119.3 144.9L120.3 145.2L121.3 145.6L122.4 145.9L123.4 146.3L124.4 146.7L125.5 147.0L126.5 147.4L127.6 147.8L128.6 148.2L129.6 148.5L130.7 148.9L131.7 149.3L132.8 149.7L133.8 150.0L134.9 150.4L135.9 150.8L137.0 151.2L138.0 151.6L139.1 152.0L140.2 152.4L141.2 152.8L142.3 153.2L143.4 153.7L144.4 154.1L145.5 154.5L146.6 154.9L147.6 155.4L148.7 155.8L149.8 156.3L150.9 156.8L151.9 157.2L153.0 157.7L154.1 158.2L155.2 158.7L156.3 159.3L157.4 159.8L158.4 160.3L159.5 160.9L160.6 161.5L161.7 162.1L162.8 162.7L163.9 163.4L165.0 164.0L166.1 164.7L167.2 165.4L168.3 166.2L169.4 166.9L170.5 167.7L171.6 168.6L172.7 169.5L173.8 170.4L174.9 171.3L176.0 172.3L177.1 173.4L178.2 174.5L179.3 175.6L180.4 176.8L181.5 178.1L182.6 179.4L183.7 180.8L184.8 182.2L185.9 183.7L187.0 185.3L188.1 187.0L189.2 188.7L190.3 190.5L191.3 192.3L192.4 194.3L193.5 196.3L194.5 198.4L195.6 200.6L196.7 202.8M210.0 232.4L211.1 232.5L212.3 230.7L213.5 228.8L214.7 226.9L216.0 225.1L217.2 223.3L218.5 221.5L219.7 219.8L221.0 218.1M65.8 134.6L66.5 134.0L67.3 133.4L68.0 132.8L68.7 132.1L69.4 131.5L70.1 130.9L70.8 130.3L71.5 129.7L72.2 129.1L72.9 128.5L73.6 127.9L74.3 127.3L75.0 126.7L75.6 126.1L76.3 125.5L77.0 124.9L77.7 124.3L78.4 123.7L79.1 123.1L79.7 122.5L80.4 122.0L81.1 121.4L81.8 120.8L82.4 120.2L83.1 119.6L83.8 119.1L84.4 118.5L85.1 117.9L85.8 117.3L86.4 116.8L87.1 116.2L87.7 115.6L88.4 115.0L89.0 114.5L89.7 113.9L90.3 113.4L91.0 112.8L91.6 112.2L92.3 111.7L92.9 111.1L93.6 110.6L94.2 110.0L94.8 109.5L95.5 108.9L96.1 108.4L96.7 107.8L97.4 107.3L98.0 106.7L98.6 106.2L99.3 105.7L99.9 105.1L100.5 104.6L101.1 104.1L101.7 103.5L102.4 103.0L103.0 102.5L103.6 101.9L104.2 101.4L104.8 100.9L105.4 100.4L106.0 99.9L106.7 99.3L107.3 98.8L107.9 98.3L108.5 97.8L109.1 97.3L109.7 96.8L110.3 96.3L110.9 95.8L111.5 95.3L112.1 94.8L112.7 94.4L113.2 93.9L113.8 93.4L114.4 92.9L115.0 92.4L115.6 92.0L116.2 91.5L116.8 91.1L117.4 90.6L117.9 90.2L118.5 89.7L119.1 89.3L119.7 88.9L120.3 88.5L120.8 88.1L121.4 87.7L122.0 87.3L122.5 86.9L123.1 86.5L123.7 86.2L124.3 85.8L124.8 85.5L125.4 85.2L126.0 84.9L126.5 84.6L127.1 84.3L127.7 84.1L128.2 83.9L128.8 83.6L129.4 83.5L129.9 83.3L130.5 83.2L131.0 83.1L131.6 83.0L132.2 82.9L132.7 82.9L133.3 83.0L133.9 83.0L134.4 83.1L135.0 83.3L135.5 83.5L136.1 83.7L136.7 84.0L137.2 84.3L137.8 84.7L138.3 85.2L138.9 85.7L139.5 86.3L140.0 86.9L140.6 87.6L141.1 88.4L141.7 89.2L142.3 90.1L142.8 91.1L143.4 92.1L143.9 93.2L144.5 94.4M152.4 109.3L152.9 106.7L153.3 104.2L153.7 101.7L154.1 99.3L154.5 96.8L155.0 94.4L155.4 92.1L155.8 89.8L156.2 87.5L156.7 85.3L157.1 83.2L157.6 81.1L158.0 79.2L158.4 77.2L158.9 75.4L159.3 73.6L159.8 71.9M61.3 117.3L62.2 117.6L63.2 118.0L64.1 118.3L65.0 118.6L65.9 118.9L66.9 119.2L67.8 119.5L68.7 119.8L69.7 120.1L70.6 120.5L71.6 120.8L72.5 121.1L73.4 121.4L74.4 121.7L75.3 122.0L76.3 122.3L77.2 122.7L78.2 123.0L79.1 123.3L80.1 123.6L81.0 123.9L82.0 124.2L82.9 124.6L83.9 124.9L84.8 125.2L85.8 125.5L86.8 125.9L87.7 126.2L88.7 126.5L89.6 126.8L90.6 127.1L91.6 127.5L92.6 127.8L93.5 128.1L94.5 128.4L95.5 128.8L96.4 129.1L97.4 129.4L98.4 129.8L99.4 130.1L100.4 130.4L101.3 130.7L102.3 131.1L103.3 131.4L104.3 131.7L105.3 132.1L106.3 132.4L107.3 132.7L108.3 133.1L109.3 133.4L110.2 133.8L111.2 134.1L112.2 134.4L113.2 134.8L114.2 135.1L115.3 135.5L116.3 135.8L117.3 136.1L118.3 136.5L119.3 136.8L120.3 137.2L121.3 137.5L122.3 137.9L123.3 138.2L124.3 138.6L125.4 139.0L126.4 139.3L127.4 139.7L128.4 140.1L129.5 140.4L130.5 140.8L131.5 141.2L132.5 141.5L133.6 141.9L134.6 142.3L135.6 142.7L136.7 143.1L137.7 143.5L138.8 143.9L139.8 144.3L140.8 144.7L141.9 145.1L142.9 145.5L144.0 146.0L145.0 146.4L146.1 146.9L147.1 147.3L148.2 147.8L149.2 148.3L150.3 148.7L151.4 149.2L152.4 149.7L153.5 150.3L154.6 150.8L155.6 151.4L156.7 151.9L157.8 152.5L158.8 153.1L159.9 153.8L161.0 154.4L162.0 155.1L163.1 155.8L164.2 156.6L165.3 157.3L166.3 158.1L167.4 159.0L168.5 159.8L169.6 160.7L170.7 161.7L171.7 162.7L172.8 163.7L173.9 164.8L175.0 166.0L176.1 167.2L177.1 168.4L178.2 169.7L179.3 171.1L180.4 172.6L181.5 174.1L182.5 175.7L183.6 177.3L184.7 179.1L185.7 180.9L186.8 182.7L187.8 184.7L188.9 186.7L189.9 188.8L191.0 191.0M206.3 220.9L207.5 219.0L208.7 217.1L209.8 215.3L211.0 213.4L212.2 211.6L213.4 209.9L214.6 208.1L215.9 206.5L217.1 204.8L218.3 203.3L219.5 201.8L220.8 200.4L222.0 199.0L223.2 197.7L224.5 196.5L225.7 195.4L227.0 194.3M75.0 137.8L75.7 137.2L76.4 136.5L77.1 135.9L77.8 135.3L78.5 134.7L79.2 134.0L79.9 133.4L80.6 132.8L81.3 132.2L81.9 131.6L82.6 131.0L83.3 130.4L84.0 129.8L84.7 129.1L85.4 128.5L86.0 127.9L86.7 127.3L87.4 126.7L88.1 126.1L88.7 125.5L89.4 125.0L90.1 124.4L90.7 123.8L91.4 123.2L92.1 122.6L92.7 122.0L93.4 121.4L94.0 120.8L94.7 120.3L95.3 119.7L96.0 119.1L96.6 118.5L97.3 118.0L97.9 117.4L98.6 116.8L99.2 116.3L99.9 115.7L100.5 115.1L101.1 114.6L101.8 114.0L102.4 113.4L103.0 112.9L103.7 112.3L104.3 111.8L104.9 111.2L105.5 110.7L106.2 110.1L106.8 109.6L107.4 109.0L108.0 108.5L108.7 108.0L109.3 107.4L109.9 106.9L110.5 106.4L111.1 105.8L111.7 105.3L112.3 104.8L112.9 104.3L113.5 103.7L114.1 103.2L114.7 102.7L115.3 102.2L115.9 101.7L116.5 101.2L117.1 100.7L117.7 100.2L118.3 99.7L118.9 99.3L119.5 98.8L120.1 98.3L120.7 97.9L121.3 97.4L121.9 96.9L122.5 96.5L123.0 96.1L123.6 95.6L124.2 95.2L124.8 94.8L125.4 94.4L125.9 94.0L126.5 93.6L127.1 93.3L127.7 92.9L128.3 92.6L128.8 92.2L129.4 91.9L130.0 91.6L130.5 91.4L131.1 91.1L131.7 90.9L132.3 90.7L132.8 90.5L133.4 90.3L134.0 90.2L134.5 90.1L135.1 90.0L135.7 89.9L136.2 89.9L136.8 90.0L137.4 90.0L137.9 90.1L138.5 90.3L139.0 90.5L139.6 90.7L140.2 91.0L140.7 91.4L141.3 91.8L141.9 92.3L142.4 92.8L143.0 93.4L143.5 94.1L144.1 94.8L144.7 95.6L145.2 96.4L145.8 97.4L146.4 98.3L146.9 99.4L147.5 100.5L148.0 101.7M155.9 115.0L156.3 112.5L156.8 109.9L157.2 107.4L157.6 104.9L158.1 102.5L158.5 100.0L158.9 97.7L159.4 95.4L159.8 93.1L160.3 90.9L160.7 88.8L161.1 86.7L161.6 84.7L162.0 82.8L162.5 81.0L163.0 79.2L163.4 77.5L163.9 75.8L164.3 74.2L164.8 72.7L165.2 71.3L165.7 69.9L166.2 68.5L166.6 67.3L167.1 66.0L167.5 64.9M67.7 112.0L68.7 112.3L69.6 112.6L70.5 112.9L71.4 113.2L72.3 113.5L73.3 113.8L74.2 114.1L75.1 114.4L76.1 114.7L77.0 115.0L77.9 115.4L78.8 115.7L79.8 116.0L80.7 116.3L81.7 116.6L82.6 116.9L83.5 117.2L84.5 117.5L85.4 117.8L86.4 118.1L87.3 118.4L88.3 118.8L89.2 119.1L90.2 119.4L91.1 119.7L92.1 120.0L93.0 120.3L94.0 120.6L94.9 121.0L95.9 121.3L96.8 121.6L97.8 121.9L98.8 122.2L99.7 122.5L100.7 122.9L101.6 123.2L102.6 123.5L103.6 123.8L104.6 124.1L105.5 124.5L106.5 124.8L107.5 125.1L108.4 125.4L109.4 125.8L110.4 126.1L111.4 126.4L112.4 126.8L113.4 127.1L114.3 127.4L115.3 127.8L116.3 128.1L117.3 128.4L118.3 128.8L119.3 129.1L120.3 129.4L121.3 129.8L122.3 130.1L123.3 130.5L124.3 130.8L125.3 131.2L126.3 131.5L127.3 131.9L128.3 132.3L129.3 132.6L130.3 133.0L131.3 133.4L132.3 133.7L133.3 134.1L134.4 134.5L135.4 134.9L136.4 135.3L137.4 135.7L138.4 136.1L139.5 136.5L140.5 136.9L141.5 137.3L142.5 137.8L143.6 138.2L144.6 138.7L145.6 139.1L146.7 139.6L147.7 140.1L148.7 140.6L149.8 141.1L150.8 141.7L151.9 142.2L152.9 142.8L153.9 143.3L155.0 144.0L156.0 144.6L157.1 145.2L158.1 145.9L159.2 146.6L160.3 147.3L161.3 148.1L162.4 148.9L163.4 149.7L164.5 150.6L165.5 151.5L166.6 152.4L167.7 153.4L168.7 154.5L169.8 155.6L170.8 156.7L171.9 157.9L172.9 159.2L174.0 160.5L175.1 161.9L176.1 163.3L177.2 164.9L178.2 166.5L179.3 168.1L180.3 169.8L181.4 171.7L182.4 173.5L183.5 175.5L184.5 177.5L185.5 179.6L186.5 181.8M201.7 209.6L202.8 207.7L204.0 205.9L205.1 204.0L206.3 202.2L207.4 200.4L208.6 198.6L209.8 196.9L210.9 195.3L212.1 193.7L213.3 192.2L214.5 190.7L215.7 189.3L216.9 188.0L218.1 186.7L219.3 185.5L220.5 184.4L221.7 183.4L222.9 182.4L224.1 181.5L225.3 180.7L226.5 179.9L227.7 179.2L228.9 178.6L230.1 178.0L231.3 177.5L232.6 177.1M84.3 141.0L85.0 140.4L85.6 139.7L86.3 139.1L87.0 138.5L87.7 137.8L88.4 137.2L89.1 136.6L89.8 136.0L90.5 135.3L91.1 134.7L91.8 134.1L92.5 133.5L93.2 132.9L93.9 132.2L94.5 131.6L95.2 131.0L95.9 130.4L96.5 129.8L97.2 129.2L97.9 128.6L98.5 128.0L99.2 127.4L99.8 126.8L100.5 126.2L101.1 125.6L101.8 125.0L102.4 124.4L103.1 123.8L103.7 123.3L104.4 122.7L105.0 122.1L105.7 121.5L106.3 120.9L106.9 120.4L107.6 119.8L108.2 119.2L108.8 118.6L109.5 118.1L110.1 117.5L110.7 116.9L111.4 116.4L112.0 115.8L112.6 115.3L113.2 114.7L113.9 114.2L114.5 113.6L115.1 113.1L115.7 112.5L116.3 112.0L116.9 111.5L117.5 110.9L118.2 110.4L118.8 109.9L119.4 109.3L120.0 108.8L120.6 108.3L121.2 107.8L121.8 107.3L122.4 106.8L123.0 106.3L123.6 105.8L124.2 105.3L124.8 104.9L125.4 104.4L125.9 103.9L126.5 103.5L127.1 103.0L127.7 102.6L128.3 102.2L128.9 101.8L129.5 101.4L130.1 101.0L130.6 100.6L131.2 100.2L131.8 99.9L132.4 99.5L133.0 99.2L133.5 98.9L134.1 98.6L134.7 98.4L135.3 98.1L135.8 97.9L136.4 97.7L137.0 97.5L137.5 97.4L138.1 97.3L138.7 97.2L139.3 97.2L139.8 97.2L140.4 97.2L141.0 97.3L141.5 97.4L142.1 97.6L142.7 97.8L143.2 98.0L143.8 98.3L144.4 98.7L144.9 99.1L145.5 99.6L146.1 100.2L146.6 100.8L147.2 101.5L147.8 102.2L148.3 103.0L148.9 103.9L149.4 104.8L150.0 105.9L150.5 106.9L151.1 108.1L151.7 109.3M159.0 123.6L159.5 121.0L159.9 118.4L160.4 115.8L160.8 113.3L161.2 110.8L161.7 108.3L162.1 105.9L162.6 103.5L163.0 101.2L163.5 98.9L163.9 96.7L164.4 94.6L164.9 92.5L165.3 90.5L165.8 88.6L166.2 86.8L166.7 85.0L167.2 83.3L167.6 81.6L168.1 80.0L168.6 78.5L169.0 77.1L169.5 75.7L170.0 74.3L170.4 73.1L170.9 71.9L171.4 70.7L171.9 69.6L172.3 68.5L172.8 67.5L173.3 66.5L173.7 65.6L174.2 64.7L174.7 63.8L175.1 63.0L175.6 62.1M74.0 106.8L74.9 107.1L75.9 107.4L76.8 107.7L77.7 108.0L78.6 108.3L79.5 108.6L80.4 108.9L81.4 109.2L82.3 109.5L83.2 109.8L84.1 110.1L85.1 110.4L86.0 110.7L86.9 111.0L87.8 111.3L88.8 111.6L89.7 111.9L90.6 112.2L91.6 112.5L92.5 112.8L93.4 113.1L94.4 113.4L95.3 113.7L96.3 114.0L97.2 114.3L98.2 114.6L99.1 114.9L100.0 115.2L101.0 115.6L101.9 115.9L102.9 116.2L103.9 116.5L104.8 116.8L105.8 117.1L106.7 117.4L107.7 117.8L108.6 118.1L109.6 118.4L110.6 118.7L111.5 119.0L112.5 119.3L113.5 119.7L114.4 120.0L115.4 120.3L116.4 120.7L117.3 121.0L118.3 121.3L119.3 121.6L120.3 122.0L121.2 122.3L122.2 122.7L123.2 123.0L124.2 123.4L125.2 123.7L126.2 124.1L127.1 124.4L128.1 124.8L129.1 125.1L130.1 125.5L131.1 125.9L132.1 126.2L133.1 126.6L134.1 127.0L135.1 127.4L136.1 127.8L137.1 128.2L138.1 128.6L139.1 129.1L140.1 129.5L141.1 129.9L142.1 130.4L143.2 130.9L144.2 131.3L145.2 131.8L146.2 132.3L147.2 132.9L148.2 133.4L149.3 134.0L150.3 134.5L151.3 135.1L152.3 135.7L153.4 136.4L154.4 137.1L155.4 137.8L156.5 138.5L157.5 139.2L158.5 140.0L159.6 140.9L160.6 141.7L161.6 142.6L162.7 143.6L163.7 144.6L164.8 145.6L165.8 146.7L166.8 147.9L167.9 149.1L168.9 150.3L170.0 151.7L171.0 153.0L172.0 154.5L173.1 156.0L174.1 157.6L175.1 159.3L176.2 161.0L177.2 162.8L178.2 164.7L179.2 166.7L180.3 168.7L181.3 170.8L182.3 173.0M196.2 200.6L197.3 198.8L198.4 196.9L199.5 195.0L200.6 193.2L201.7 191.4L202.8 189.6L203.9 187.9L205.1 186.2L206.2 184.5L207.3 183.0L208.5 181.5L209.6 180.0L210.8 178.6L212.0 177.3L213.1 176.1L214.3 174.9L215.4 173.9L216.6 172.8L217.8 171.9L218.9 171.0L220.1 170.2L221.3 169.5L222.4 168.8L223.6 168.2L224.8 167.7L226.0 167.2L227.1 166.7L228.3 166.3L229.5 166.0L230.7 165.7L231.8 165.5L233.0 165.3L234.2 165.1L235.4 165.0L236.6 164.9L237.7 164.9M93.7 144.3L94.4 143.6L95.0 143.0L95.7 142.3L96.4 141.7L97.1 141.1L97.8 140.4L98.5 139.8L99.1 139.1L99.8 138.5L100.5 137.9L101.1 137.3L101.8 136.6L102.5 136.0L103.1 135.4L103.8 134.8L104.5 134.2L105.1 133.5L105.8 132.9L106.4 132.3L107.1 131.7L107.8 131.1L108.4 130.5L109.1 129.9L109.7 129.3L110.3 128.7L111.0 128.1L111.6 127.5L112.3 126.9L112.9 126.3L113.6 125.7L114.2 125.2L114.8 124.6L115.5 124.0L116.1 123.4L116.7 122.8L117.3 122.3L118.0 121.7L118.6 121.1L119.2 120.6L119.8 120.0L120.5 119.5L121.1 118.9L121.7 118.4L122.3 117.8L122.9 117.3L123.5 116.7L124.1 116.2L124.7 115.7L125.4 115.2L126.0 114.6L126.6 114.1L127.2 113.6L127.8 113.1L128.4 112.6L129.0 112.1L129.6 111.7L130.2 111.2L130.8 110.7L131.3 110.3L131.9 109.8L132.5 109.4L133.1 109.0L133.7 108.6L134.3 108.2L134.9 107.8L135.5 107.5L136.1 107.1L136.6 106.8L137.2 106.5L137.8 106.2L138.4 105.9L139.0 105.6L139.5 105.4L140.1 105.2L140.7 105.1L141.3 104.9L141.8 104.8L142.4 104.7L143.0 104.7L143.6 104.7L144.1 104.7L144.7 104.8L145.3 104.9L145.8 105.1L146.4 105.3L147.0 105.6L147.6 105.9L148.1 106.3L148.7 106.7L149.3 107.2L149.8 107.8L150.4 108.4L150.9 109.1L151.5 109.9L152.1 110.7L152.6 111.6L153.2 112.6L153.7 113.6L154.3 114.7L154.9 115.9M162.7 129.7L163.2 127.1L163.6 124.5L164.1 121.9L164.5 119.3L165.0 116.8L165.4 114.3L165.9 111.9L166.4 109.5L166.8 107.2L167.3 104.9L167.8 102.7L168.2 100.6L168.7 98.5L169.2 96.5L169.6 94.6L170.1 92.8L170.6 91.0L171.1 89.3L171.5 87.6L172.0 86.0L172.5 84.5L173.0 83.1L173.4 81.7L173.9 80.4L174.4 79.1L174.9 77.9L175.3 76.7L175.8 75.6L176.3 74.5L176.8 73.5L177.2 72.5L177.7 71.6L178.2 70.7L178.7 69.8L179.1 68.9L179.6 68.1L180.1 67.3L180.5 66.6L181.0 65.9L181.5 65.1L181.9 64.5L182.4 63.8L182.8 63.2L183.3 62.5L183.8 61.9M80.2 101.7L81.1 102.0L82.0 102.3L82.9 102.6L83.8 102.9L84.7 103.2L85.6 103.5L86.5 103.8L87.4 104.1L88.4 104.4L89.3 104.6L90.2 104.9L91.1 105.2L92.0 105.5L92.9 105.8L93.9 106.1L94.8 106.4L95.7 106.7L96.6 107.0L97.6 107.3L98.5 107.6L99.4 107.9L100.4 108.2L101.3 108.5L102.2 108.8L103.2 109.1L104.1 109.4L105.0 109.7L106.0 110.0L106.9 110.3L107.9 110.6L108.8 110.9L109.8 111.3L110.7 111.6L111.7 111.9L112.6 112.2L113.6 112.5L114.5 112.8L115.5 113.2L116.4 113.5L117.4 113.8L118.3 114.1L119.3 114.5L120.3 114.8L121.2 115.1L122.2 115.5L123.1 115.8L124.1 116.1L125.1 116.5L126.1 116.9L127.0 117.2L128.0 117.6L129.0 117.9L129.9 118.3L130.9 118.7L131.9 119.1L132.9 119.5L133.9 119.9L134.9 120.3L135.8 120.7L136.8 121.1L137.8 121.5L138.8 122.0L139.8 122.4L140.8 122.9L141.8 123.4L142.8 123.9L143.8 124.4L144.8 124.9L145.8 125.5L146.8 126.1L147.8 126.6L148.8 127.3L149.8 127.9L150.8 128.6L151.8 129.3L152.8 130.0L153.8 130.7L154.9 131.5L155.9 132.3L156.9 133.2L157.9 134.1L158.9 135.1L159.9 136.1L161.0 137.1L162.0 138.2L163.0 139.4L164.0 140.6L165.0 141.8L166.1 143.2L167.1 144.6L168.1 146.0L169.1 147.5L170.1 149.1L171.2 150.8L172.2 152.6L173.2 154.4L174.2 156.3L175.2 158.2L176.2 160.3L177.2 162.4M192.0 190.2L193.0 188.3L194.1 186.4L195.1 184.6L196.2 182.7L197.3 180.9L198.4 179.2L199.4 177.5L200.5 175.8L201.6 174.2L202.7 172.7L203.9 171.2L205.0 169.8L206.1 168.4L207.2 167.1L208.3 165.9L209.5 164.8L210.6 163.7L211.7 162.7L212.8 161.8L214.0 161.0L215.1 160.2L216.2 159.5L217.4 158.8L218.5 158.2L219.7 157.7L220.8 157.2L221.9 156.8L223.1 156.4L224.2 156.1L225.4 155.8L226.5 155.6L227.7 155.4L228.8 155.3L230.0 155.1L231.1 155.1L232.2 155.0L233.4 155.0L234.5 155.0L235.7 155.0L236.8 155.1L238.0 155.2L239.1 155.3L240.3 155.4L241.5 155.6L242.6 155.7M103.2 147.6L103.9 146.9L104.6 146.3L105.3 145.6L105.9 145.0L106.6 144.3L107.3 143.7L107.9 143.0L108.6 142.4L109.3 141.8L109.9 141.1L110.6 140.5L111.3 139.9L111.9 139.2L112.6 138.6L113.2 138.0L113.9 137.4L114.5 136.7L115.2 136.1L115.8 135.5L116.5 134.9L117.1 134.3L117.8 133.7L118.4 133.1L119.1 132.5L119.7 131.9L120.3 131.3L121.0 130.7L121.6 130.1L122.2 129.5L122.9 128.9L123.5 128.3L124.1 127.8L124.7 127.2L125.4 126.6L126.0 126.1L126.6 125.5L127.2 124.9L127.8 124.4L128.4 123.8L129.1 123.3L129.7 122.8L130.3 122.2L130.9 121.7L131.5 121.2L132.1 120.7L132.7 120.2L133.3 119.7L133.9 119.2L134.5 118.7L135.1 118.2L135.7 117.8L136.3 117.3L136.9 116.9L137.5 116.5L138.1 116.1L138.7 115.7L139.3 115.3L139.9 115.0L140.5 114.6L141.0 114.3L141.6 114.0L142.2 113.7L142.8 113.4L143.4 113.2L144.0 113.0L144.5 112.8L145.1 112.7L145.7 112.6L146.3 112.5L146.9 112.5L147.4 112.5L148.0 112.5L148.6 112.6L149.2 112.7L149.7 112.9L150.3 113.1L150.9 113.4L151.4 113.7L152.0 114.1L152.6 114.6L153.1 115.1L153.7 115.7L154.3 116.3L154.8 117.1L155.4 117.8L156.0 118.7L156.5 119.6L157.1 120.6L157.6 121.7L158.2 122.8L158.7 124.0M166.1 138.8L166.5 136.1L167.0 133.5L167.5 130.8L167.9 128.2L168.4 125.6L168.9 123.1L169.3 120.6L169.8 118.2L170.3 115.8L170.8 113.4L171.2 111.2L171.7 109.0L172.2 106.8L172.7 104.8L173.2 102.8L173.6 100.8L174.1 99.0L174.6 97.2L175.1 95.5L175.6 93.8L176.1 92.3L176.5 90.8L177.0 89.3L177.5 87.9L178.0 86.6L178.5 85.3L179.0 84.1L179.4 82.9L179.9 81.8L180.4 80.7L180.9 79.7L181.4 78.7L181.8 77.8L182.3 76.9L182.8 76.0L183.3 75.1L183.7 74.3L184.2 73.5L184.7 72.8L185.2 72.0L185.6 71.3L186.1 70.6L186.6 69.9L187.0 69.3L187.5 68.6L188.0 68.0L188.4 67.4L188.9 66.8L189.3 66.2L189.8 65.7L190.3 65.1L190.7 64.6L191.2 64.0L191.6 63.5L192.1 63.0M86.2 96.8L87.1 97.1L88.0 97.4L88.9 97.6L89.8 97.9L90.7 98.2L91.6 98.5L92.5 98.8L93.4 99.1L94.3 99.4L95.2 99.6L96.1 99.9L97.0 100.2L97.9 100.5L98.8 100.8L99.8 101.1L100.7 101.4L101.6 101.7L102.5 102.0L103.4 102.3L104.4 102.6L105.3 102.9L106.2 103.2L107.1 103.5L108.1 103.8L109.0 104.1L109.9 104.4L110.9 104.7L111.8 105.0L112.7 105.3L113.7 105.6L114.6 105.9L115.5 106.2L116.5 106.6L117.4 106.9L118.4 107.2L119.3 107.5L120.2 107.9L121.2 108.2L122.1 108.5L123.1 108.9L124.0 109.2L125.0 109.6L126.0 109.9L126.9 110.3L127.9 110.7L128.8 111.0L129.8 111.4L130.7 111.8L131.7 112.2L132.7 112.6L133.6 113.0L134.6 113.5L135.6 113.9L136.6 114.3L137.5 114.8L138.5 115.3L139.5 115.8L140.5 116.3L141.4 116.8L142.4 117.3L143.4 117.9L144.4 118.5L145.4 119.1L146.4 119.7L147.3 120.4L148.3 121.1L149.3 121.8L150.3 122.6L151.3 123.3L152.3 124.2L153.3 125.0L154.3 125.9L155.3 126.9L156.3 127.9L157.3 128.9L158.3 130.0L159.3 131.2L160.3 132.4L161.3 133.7L162.3 135.0L163.3 136.4L164.3 137.9L165.3 139.4L166.3 141.0L167.3 142.7L168.3 144.4L169.3 146.3L170.3 148.1L171.3 150.1L172.3 152.2L173.3 154.3M186.8 181.9L187.9 180.1L188.9 178.2L189.9 176.3L190.9 174.5L192.0 172.7L193.0 170.9L194.1 169.1L195.1 167.5L196.2 165.8L197.2 164.2L198.3 162.7L199.4 161.3L200.5 159.9L201.5 158.6L202.6 157.3L203.7 156.1L204.8 155.0L205.9 154.0L207.0 153.0L208.1 152.1L209.2 151.3L210.3 150.5L211.4 149.8L212.5 149.2L213.6 148.6L214.7 148.1L215.8 147.7L216.9 147.3L218.1 146.9L219.2 146.6L220.3 146.3L221.4 146.1L222.5 145.9L223.6 145.8L224.7 145.7L225.9 145.6L227.0 145.5L228.1 145.5L229.2 145.5L230.3 145.6L231.5 145.6L232.6 145.7L233.7 145.8L234.8 145.9L235.9 146.1L237.1 146.2L238.2 146.4L239.3 146.6L240.5 146.8L241.6 147.0L242.7 147.2L243.9 147.4L245.0 147.7L246.1 147.9L247.3 148.2M112.9 151.0L113.6 150.3L114.2 149.6L114.9 149.0L115.6 148.3L116.2 147.7L116.9 147.0L117.6 146.4L118.2 145.7L118.9 145.1L119.5 144.4L120.2 143.8L120.8 143.2L121.5 142.5L122.1 141.9L122.8 141.3L123.4 140.7L124.1 140.0L124.7 139.4L125.4 138.8L126.0 138.2L126.6 137.6L127.3 137.0L127.9 136.4L128.5 135.8L129.2 135.2L129.8 134.6L130.4 134.0L131.0 133.5L131.7 132.9L132.3 132.3L132.9 131.7L133.5 131.2L134.1 130.6L134.8 130.1L135.4 129.6L136.0 129.0L136.6 128.5L137.2 128.0L137.8 127.5L138.4 127.0L139.0 126.5L139.6 126.0L140.2 125.6L140.8 125.1L141.4 124.7L142.0 124.3L142.6 123.9L143.2 123.5L143.8 123.1L144.4 122.7L145.0 122.4L145.6 122.1L146.2 121.8L146.8 121.5L147.4 121.3L147.9 121.1L148.5 120.9L149.1 120.8L149.7 120.6L150.3 120.6L150.9 120.5L151.4 120.5L152.0 120.6L152.6 120.6L153.2 120.8L153.7 121.0L154.3 121.2L154.9 121.5L155.5 121.8L156.0 122.3L156.6 122.7L157.2 123.3L157.7 123.9L158.3 124.5L158.9 125.3L159.4 126.1L160.0 126.9L160.5 127.9L161.1 128.9L161.6 130.0L162.2 131.1M170.0 145.5L170.5 142.8L171.0 140.1L171.4 137.4L171.9 134.8L172.4 132.2L172.9 129.6L173.4 127.1L173.9 124.6L174.4 122.2L174.8 119.9L175.3 117.6L175.8 115.4L176.3 113.3L176.8 111.2L177.3 109.2L177.8 107.3L178.3 105.4L178.8 103.7L179.3 101.9L179.8 100.3L180.2 98.7L180.7 97.2L181.2 95.8L181.7 94.4L182.2 93.0L182.7 91.8L183.2 90.5L183.7 89.4L184.2 88.3L184.7 87.2L185.1 86.1L185.6 85.2L186.1 84.2L186.6 83.3L187.1 82.4L187.5 81.5L188.0 80.7L188.5 79.9L189.0 79.1L189.4 78.4L189.9 77.7L190.4 77.0L190.9 76.3L191.3 75.6L191.8 75.0L192.3 74.3L192.7 73.7L193.2 73.1L193.7 72.5L194.1 71.9L194.6 71.4L195.1 70.8L195.5 70.2L196.0 69.7L196.4 69.2L196.9 68.6L197.3 68.1L197.8 67.6L198.2 67.1L198.7 66.6L199.1 66.1L199.6 65.6L200.0 65.1L200.5 64.7M92.0 92.0L92.9 92.3L93.8 92.5L94.7 92.8L95.6 93.1L96.5 93.4L97.4 93.7L98.3 93.9L99.2 94.2L100.1 94.5L101.0 94.8L101.9 95.1L102.8 95.4L103.7 95.7L104.6 96.0L105.5 96.2L106.4 96.5L107.3 96.8L108.2 97.1L109.2 97.4L110.1 97.7L111.0 98.0L111.9 98.3L112.8 98.6L113.8 98.9L114.7 99.3L115.6 99.6L116.5 99.9L117.5 100.2L118.4 100.5L119.3 100.9L120.2 101.2L121.2 101.5L122.1 101.9L123.0 102.2L124.0 102.6L124.9 102.9L125.9 103.3L126.8 103.7L127.7 104.1L128.7 104.4L129.6 104.8L130.6 105.3L131.5 105.7L132.5 106.1L133.4 106.5L134.4 107.0L135.3 107.5L136.3 107.9L137.3 108.5L138.2 109.0L139.2 109.5L140.1 110.1L141.1 110.6L142.1 111.2L143.0 111.9L144.0 112.5L145.0 113.2L146.0 113.9L146.9 114.7L147.9 115.5L148.9 116.3L149.9 117.2L150.8 118.1L151.8 119.0L152.8 120.0L153.8 121.1L154.8 122.2L155.8 123.3L156.7 124.5L157.7 125.8L158.7 127.2L159.7 128.6L160.7 130.0L161.7 131.6L162.7 133.2L163.6 134.9L164.6 136.6L165.6 138.5L166.6 140.4L167.6 142.3L168.6 144.4M182.9 172.2L183.9 170.3L184.9 168.4L185.9 166.6L186.9 164.7L187.9 162.9L188.9 161.2L189.9 159.5L190.9 157.8L192.0 156.2L193.0 154.6L194.0 153.1L195.1 151.7L196.1 150.4L197.2 149.1L198.2 147.8L199.3 146.7L200.3 145.6L201.4 144.6L202.5 143.7L203.5 142.8L204.6 142.0L205.7 141.3L206.7 140.6L207.8 140.0L208.9 139.4L210.0 138.9L211.1 138.5L212.1 138.1L213.2 137.7L214.3 137.4L215.4 137.2L216.5 137.0L217.5 136.8L218.6 136.6L219.7 136.5L220.8 136.5L221.9 136.4L223.0 136.4L224.1 136.4L225.2 136.5L226.3 136.5L227.4 136.6L228.5 136.7L229.6 136.8L230.7 136.9L231.7 137.1L232.8 137.2L233.9 137.4L235.1 137.6L236.2 137.8L237.3 138.0L238.4 138.3L239.5 138.5L240.6 138.7L241.7 139.0L242.8 139.2L243.9 139.5L245.0 139.8L246.1 140.0L247.3 140.3L248.4 140.6L249.5 140.9L250.6 141.2L251.7 141.5M122.7 154.4L123.4 153.7L124.1 153.1L124.7 152.4L125.4 151.8L126.0 151.1L126.7 150.5L127.3 149.8L128.0 149.2L128.6 148.5L129.3 147.9L129.9 147.2L130.6 146.6L131.2 146.0L131.9 145.4L132.5 144.7L133.1 144.1L133.8 143.5L134.4 142.9L135.0 142.3L135.7 141.7L136.3 141.1L136.9 140.5L137.5 140.0L138.2 139.4L138.8 138.8L139.4 138.3L140.0 137.7L140.6 137.2L141.2 136.6L141.9 136.1L142.5 135.6L143.1 135.1L143.7 134.6L144.3 134.1L144.9 133.7L145.5 133.2L146.1 132.8L146.7 132.3L147.3 131.9L147.9 131.6L148.5 131.2L149.1 130.8L149.7 130.5L150.3 130.2L150.9 129.9L151.5 129.7L152.1 129.5L152.7 129.3L153.3 129.1L153.8 129.0L154.4 128.9L155.0 128.9L155.6 128.9L156.2 128.9L156.8 129.0L157.3 129.2L157.9 129.4L158.5 129.6L159.1 129.9L159.6 130.3L160.2 130.7L160.8 131.2L161.3 131.7L161.9 132.3L162.5 133.0L163.0 133.8L163.6 134.6L164.1 135.5L164.7 136.5L165.2 137.5L165.8 138.6L166.3 139.8M174.1 152.4L174.6 149.6L175.1 146.9L175.6 144.2L176.1 141.6L176.6 138.9L177.1 136.4L177.6 133.8L178.1 131.4L178.6 129.0L179.1 126.6L179.6 124.3L180.1 122.1L180.6 120.0L181.1 117.9L181.6 115.9L182.1 114.0L182.6 112.1L183.1 110.4L183.6 108.6L184.1 107.0L184.6 105.4L185.1 103.9L185.6 102.5L186.1 101.1L186.6 99.7L187.1 98.5L187.6 97.2L188.1 96.1L188.6 94.9L189.1 93.9L189.5 92.8L190.0 91.8L190.5 90.9L191.0 89.9L191.5 89.0L192.0 88.2L192.5 87.3L192.9 86.5L193.4 85.7L193.9 85.0L194.4 84.3L194.9 83.5L195.3 82.8L195.8 82.2L196.3 81.5L196.7 80.9L197.2 80.2L197.7 79.6L198.1 79.0L198.6 78.4L199.1 77.8L199.5 77.3L200.0 76.7L200.5 76.1L200.9 75.6L201.4 75.0L201.8 74.5L202.3 74.0L202.7 73.5L203.2 73.0L203.7 72.4L204.1 71.9L204.6 71.4L205.0 70.9L205.5 70.5L205.9 70.0L206.3 69.5L206.8 69.0L207.2 68.5L207.7 68.1L208.1 67.6L208.6 67.1L209.0 66.7M97.7 87.3L98.6 87.6L99.5 87.9L100.4 88.1L101.3 88.4L102.2 88.7L103.0 89.0L103.9 89.3L104.8 89.6L105.7 89.8L106.6 90.1L107.5 90.4L108.4 90.7L109.3 91.0L110.2 91.3L111.1 91.6L112.0 91.9L112.9 92.2L113.8 92.5L114.8 92.8L115.7 93.2L116.6 93.5L117.5 93.8L118.4 94.1L119.3 94.5L120.2 94.8L121.2 95.1L122.1 95.5L123.0 95.8L123.9 96.2L124.8 96.6L125.8 97.0L126.7 97.4L127.6 97.8L128.6 98.2L129.5 98.6L130.4 99.0L131.4 99.5L132.3 99.9L133.2 100.4L134.2 100.9L135.1 101.4L136.1 102.0L137.0 102.5L138.0 103.1L138.9 103.7L139.9 104.3L140.8 105.0L141.8 105.7L142.7 106.4L143.7 107.1L144.6 107.9L145.6 108.7L146.5 109.6L147.5 110.5L148.5 111.5L149.4 112.5L150.4 113.5L151.4 114.6L152.3 115.8L153.3 117.0L154.3 118.3L155.3 119.6L156.2 121.0L157.2 122.5L158.2 124.1L159.1 125.7L160.1 127.4L161.1 129.1L162.0 131.0L163.0 132.9L164.0 134.8L164.9 136.9M179.1 162.7L180.1 160.8L181.0 159.0L182.0 157.1L183.0 155.3L183.9 153.6L184.9 151.8L185.9 150.1L186.9 148.5L187.9 146.9L188.9 145.4L189.9 143.9L190.9 142.5L191.9 141.2L192.9 139.9L194.0 138.7L195.0 137.6L196.0 136.6L197.1 135.6L198.1 134.7L199.1 133.8L200.2 133.0L201.2 132.3L202.3 131.7L203.3 131.1L204.3 130.6L205.4 130.1L206.4 129.6L207.5 129.3L208.6 128.9L209.6 128.6L210.7 128.4L211.7 128.2L212.8 128.0L213.8 127.9L214.9 127.8L216.0 127.7L217.0 127.7L218.1 127.7L219.1 127.7L220.2 127.7L221.3 127.7L222.3 127.8L223.4 127.9L224.5 128.0L225.6 128.2L226.6 128.3L227.7 128.5L228.8 128.6L229.9 128.8L230.9 129.0L232.0 129.2L233.1 129.4L234.2 129.7L235.2 129.9L236.3 130.1L237.4 130.4L238.5 130.6L239.6 130.9L240.7 131.2L241.8 131.4L242.9 131.7L244.0 132.0L245.0 132.3L246.1 132.6L247.2 132.9L248.3 133.1L249.4 133.4L250.5 133.8L251.6 134.1L252.7 134.4L253.8 134.7L255.0 135.0L256.1 135.3M132.7 158.0L133.4 157.3L134.0 156.7L134.7 156.0L135.3 155.4L136.0 154.7L136.6 154.1L137.2 153.4L137.9 152.8L138.5 152.2L139.2 151.5L139.8 150.9L140.4 150.3L141.1 149.7L141.7 149.1L142.3 148.5L143.0 147.9L143.6 147.3L144.2 146.7L144.8 146.2L145.5 145.6L146.1 145.1L146.7 144.5L147.3 144.0L147.9 143.5L148.5 143.0L149.1 142.5L149.8 142.1L150.4 141.6L151.0 141.2L151.6 140.7L152.2 140.3L152.8 140.0L153.4 139.6L154.0 139.3L154.6 139.0L155.2 138.7L155.8 138.4L156.4 138.2L157.0 138.0L157.6 137.8L158.1 137.7L158.7 137.6L159.3 137.6L159.9 137.6L160.5 137.6L161.1 137.7L161.6 137.9L162.2 138.1L162.8 138.3L163.4 138.6L163.9 139.0L164.5 139.4L165.1 139.9L165.6 140.5L166.2 141.1L166.8 141.8L167.3 142.6L167.9 143.4L168.4 144.4L169.0 145.3L169.5 146.4L170.1 147.5L170.6 148.7M177.8 162.3L178.3 159.5L178.8 156.8L179.3 154.0L179.8 151.3L180.4 148.6L180.9 146.0L181.4 143.4L181.9 140.9L182.4 138.4L182.9 136.0L183.4 133.6L183.9 131.3L184.5 129.1L185.0 126.9L185.5 124.9L186.0 122.9L186.5 120.9L187.0 119.1L187.5 117.3L188.1 115.6L188.6 114.0L189.1 112.4L189.6 110.9L190.1 109.4L190.6 108.0L191.1 106.7L191.6 105.4L192.1 104.2L192.6 103.0L193.1 101.9L193.6 100.8L194.1 99.7L194.6 98.7L195.1 97.8L195.6 96.8L196.1 95.9L196.6 95.0L197.0 94.2L197.5 93.4L198.0 92.6L198.5 91.8L199.0 91.1L199.5 90.4L199.9 89.6L200.4 89.0L200.9 88.3L201.4 87.6L201.8 87.0L202.3 86.3L202.8 85.7L203.2 85.1L203.7 84.5L204.2 83.9L204.6 83.4L205.1 82.8L205.6 82.2L206.0 81.7L206.5 81.1L206.9 80.6L207.4 80.0L207.9 79.5L208.3 79.0L208.8 78.5L209.2 78.0L209.7 77.5L210.1 77.0L210.6 76.5L211.0 76.0L211.5 75.5L211.9 75.0L212.4 74.5L212.8 74.0L213.2 73.5L213.7 73.0L214.1 72.6L214.6 72.1L215.0 71.6L215.4 71.1L215.9 70.7L216.3 70.2L216.7 69.7L217.2 69.3L217.6 68.8M103.3 82.8L104.2 83.1L105.1 83.4L105.9 83.7L106.8 83.9L107.7 84.2L108.6 84.5L109.5 84.8L110.4 85.1L111.3 85.4L112.2 85.7L113.1 86.0L113.9 86.3L114.8 86.7L115.7 87.0L116.6 87.3L117.5 87.6L118.4 88.0L119.3 88.3L120.2 88.7L121.1 89.0L122.1 89.4L123.0 89.8L123.9 90.1L124.8 90.5L125.7 90.9L126.6 91.4L127.5 91.8L128.4 92.2L129.4 92.7L130.3 93.2L131.2 93.6L132.1 94.2L133.1 94.7L134.0 95.2L134.9 95.8L135.8 96.4L136.8 97.0L137.7 97.7L138.6 98.4L139.6 99.1L140.5 99.8L141.5 100.6L142.4 101.4L143.4 102.3L144.3 103.2L145.2 104.2L146.2 105.2L147.1 106.2L148.1 107.3L149.0 108.5L150.0 109.7L151.0 111.0L151.9 112.4L152.9 113.8L153.8 115.3L154.8 116.8L155.7 118.5L156.7 120.2L157.7 121.9L158.6 123.8L159.6 125.7L160.5 127.7L161.5 129.7M174.5 155.5L175.4 153.6L176.4 151.7L177.3 149.9L178.2 148.0L179.2 146.3L180.1 144.5L181.1 142.8L182.0 141.1L183.0 139.5L184.0 137.9L184.9 136.4L185.9 135.0L186.9 133.6L187.9 132.3L188.9 131.1L189.9 129.9L190.9 128.9L191.9 127.8L192.9 126.9L193.9 126.0L194.9 125.2L195.9 124.4L196.9 123.7L197.9 123.1L198.9 122.5L200.0 122.0L201.0 121.5L202.0 121.1L203.0 120.8L204.1 120.4L205.1 120.2L206.1 119.9L207.2 119.7L208.2 119.6L209.2 119.4L210.3 119.3L211.3 119.3L212.3 119.2L213.4 119.2L214.4 119.2L215.4 119.3L216.5 119.3L217.5 119.4L218.6 119.5L219.6 119.6L220.7 119.7L221.7 119.9L222.8 120.0L223.8 120.2L224.9 120.4L225.9 120.5L227.0 120.7L228.0 120.9L229.1 121.2L230.1 121.4L231.2 121.6L232.2 121.9L233.3 122.1L234.4 122.4L235.4 122.6L236.5 122.9L237.6 123.1L238.6 123.4L239.7 123.7L240.8 124.0L241.8 124.2L242.9 124.5L244.0 124.8L245.1 125.1L246.1 125.4L247.2 125.7L248.3 126.0L249.4 126.3L250.5 126.6L251.5 126.9L252.6 127.2L253.7 127.5L254.8 127.8L255.9 128.1L257.0 128.5L258.1 128.8L259.2 129.1L260.3 129.4M142.8 161.8L143.5 161.1L144.1 160.5L144.8 159.8L145.4 159.2L146.0 158.6L146.7 158.0L147.3 157.3L147.9 156.7L148.6 156.1L149.2 155.6L149.8 155.0L150.5 154.4L151.1 153.9L151.7 153.3L152.3 152.8L152.9 152.3L153.6 151.8L154.2 151.3L154.8 150.8L155.4 150.3L156.0 149.9L156.6 149.5L157.2 149.1L157.8 148.7L158.4 148.4L159.0 148.0L159.6 147.7L160.2 147.5L160.8 147.2L161.4 147.0L162.0 146.9L162.6 146.7L163.2 146.7L163.8 146.6L164.4 146.6L165.0 146.7L165.5 146.8L166.1 146.9L166.7 147.1L167.3 147.4L167.9 147.7L168.4 148.1L169.0 148.5L169.6 149.0L170.1 149.6L170.7 150.2L171.2 151.0L171.8 151.8L172.3 152.6L172.9 153.6L173.4 154.6L174.0 155.6L174.5 156.8M182.2 169.7L182.7 166.9L183.2 164.2L183.8 161.4L184.3 158.6L184.8 155.9L185.3 153.3L185.9 150.7L186.4 148.1L186.9 145.6L187.4 143.2L188.0 140.8L188.5 138.6L189.0 136.3L189.6 134.2L190.1 132.1L190.6 130.1L191.1 128.2L191.7 126.3L192.2 124.5L192.7 122.8L193.2 121.2L193.7 119.6L194.3 118.1L194.8 116.6L195.3 115.2L195.8 113.9L196.3 112.6L196.8 111.4L197.3 110.2L197.8 109.0L198.3 108.0L198.8 106.9L199.3 105.9L199.8 104.9L200.3 104.0L200.8 103.1L201.3 102.2L201.8 101.3L202.3 100.5L202.8 99.7L203.3 98.9L203.8 98.1L204.2 97.4L204.7 96.7L205.2 96.0L205.7 95.3L206.2 94.6L206.6 94.0L207.1 93.3L207.6 92.7L208.0 92.1L208.5 91.5L209.0 90.8L209.5 90.3L209.9 89.7L210.4 89.1L210.8 88.5L211.3 88.0L211.8 87.4L212.2 86.9L212.7 86.3L213.1 85.8L213.6 85.2L214.1 84.7L214.5 84.2L215.0 83.7L215.4 83.2L215.9 82.6L216.3 82.1L216.8 81.6L217.2 81.1L217.6 80.6L218.1 80.1L218.5 79.6L219.0 79.1L219.4 78.6L219.9 78.2L220.3 77.7L220.7 77.2L221.2 76.7L221.6 76.2L222.0 75.8L222.5 75.3L222.9 74.8L223.3 74.3L223.8 73.9L224.2 73.4L224.6 72.9L225.0 72.5L225.5 72.0L225.9 71.5L226.3 71.1M108.8 78.6L109.6 78.8L110.5 79.1L111.4 79.4L112.3 79.8L113.2 80.1L114.0 80.4L114.9 80.7L115.8 81.0L116.7 81.4L117.6 81.7L118.5 82.1L119.4 82.4L120.2 82.8L121.1 83.2L122.0 83.6L122.9 84.0L123.8 84.4L124.7 84.8L125.6 85.2L126.5 85.7L127.4 86.1L128.3 86.6L129.2 87.1L130.2 87.7L131.1 88.2L132.0 88.8L132.9 89.4L133.8 90.0L134.7 90.6L135.6 91.3L136.6 92.0L137.5 92.8L138.4 93.6L139.3 94.4L140.3 95.3L141.2 96.2L142.1 97.2L143.1 98.2L144.0 99.2L144.9 100.3L145.9 101.5L146.8 102.7L147.8 104.0L148.7 105.4L149.6 106.8L150.6 108.3L151.5 109.9L152.5 111.5L153.4 113.2L154.4 115.0L155.3 116.8L156.2 118.8L157.2 120.7M171.0 146.6L171.9 144.7L172.8 142.9L173.7 141.1L174.6 139.2L175.5 137.5L176.4 135.7L177.3 134.0L178.3 132.4L179.2 130.8L180.2 129.3L181.1 127.8L182.0 126.4L183.0 125.1L184.0 123.8L184.9 122.6L185.9 121.5L186.9 120.4L187.8 119.4L188.8 118.5L189.8 117.6L190.8 116.9L191.8 116.1L192.8 115.5L193.7 114.8L194.7 114.3L195.7 113.8L196.7 113.3L197.7 112.9L198.7 112.6L199.7 112.3L200.7 112.0L201.7 111.8L202.7 111.6L203.8 111.4L204.8 111.3L205.8 111.2L206.8 111.2L207.8 111.1L208.8 111.1L209.8 111.1L210.8 111.2L211.9 111.2L212.9 111.3L213.9 111.4L214.9 111.5L215.9 111.6L217.0 111.7L218.0 111.9L219.0 112.0L220.0 112.2L221.1 112.4L222.1 112.6L223.1 112.8L224.2 113.0L225.2 113.2L226.2 113.4L227.3 113.7L228.3 113.9L229.3 114.1L230.4 114.4L231.4 114.6L232.5 114.9L233.5 115.2L234.5 115.4L235.6 115.7L236.6 116.0L237.7 116.2L238.7 116.5L239.8 116.8L240.8 117.1L241.9 117.4L242.9 117.6L244.0 117.9L245.1 118.2L246.1 118.5L247.2 118.8L248.2 119.1L249.3 119.4L250.4 119.7L251.4 120.0L252.5 120.3L253.6 120.6L254.7 120.9L255.7 121.2L256.8 121.5L257.9 121.9L259.0 122.2L260.0 122.5L261.1 122.8L262.2 123.1L263.3 123.4L264.4 123.7M153.1 165.9L153.8 165.3L154.4 164.7L155.0 164.1L155.6 163.5L156.3 163.0L156.9 162.4L157.5 161.9L158.1 161.4L158.8 160.9L159.4 160.4L160.0 159.9L160.6 159.4L161.2 159.0L161.8 158.6L162.4 158.2L163.1 157.8L163.7 157.5L164.3 157.2L164.9 156.9L165.5 156.7L166.1 156.5L166.7 156.3L167.3 156.1L167.8 156.1L168.4 156.0L169.0 156.0L169.6 156.0L170.2 156.1L170.8 156.3L171.4 156.5L171.9 156.8L172.5 157.1L173.1 157.5L173.6 157.9L174.2 158.5L174.8 159.1L175.3 159.7L175.9 160.5L176.4 161.3L177.0 162.1L177.5 163.1L178.1 164.1L178.6 165.2L179.1 166.4M186.2 180.3L186.7 177.5L187.3 174.7L187.8 171.8L188.3 169.0L188.9 166.3L189.4 163.6L190.0 160.9L190.5 158.3L191.1 155.7L191.6 153.2L192.1 150.8L192.7 148.4L193.2 146.1L193.8 143.9L194.3 141.7L194.8 139.6L195.4 137.6L195.9 135.7L196.5 133.8L197.0 132.0L197.5 130.3L198.0 128.7L198.6 127.1L199.1 125.6L199.6 124.1L200.1 122.7L200.7 121.4L201.2 120.1L201.7 118.8L202.2 117.7L202.7 116.5L203.2 115.4L203.7 114.3L204.2 113.3L204.7 112.3L205.2 111.4L205.7 110.5L206.2 109.6L206.7 108.7L207.2 107.9L207.7 107.0L208.2 106.2L208.7 105.5L209.2 104.7L209.7 104.0L210.2 103.3L210.6 102.6L211.1 101.9L211.6 101.2L212.1 100.5L212.5 99.9L213.0 99.3L213.5 98.6L214.0 98.0L214.4 97.4L214.9 96.8L215.4 96.2L215.8 95.6L216.3 95.0L216.8 94.5L217.2 93.9L217.7 93.4L218.1 92.8L218.6 92.2L219.1 91.7L219.5 91.2L220.0 90.6L220.4 90.1L220.9 89.6L221.3 89.0L221.8 88.5L222.2 88.0L222.7 87.5L223.1 87.0L223.5 86.5L224.0 85.9L224.4 85.4L224.9 84.9L225.3 84.4L225.8 83.9L226.2 83.4L226.6 82.9L227.1 82.4L227.5 82.0L227.9 81.5L228.4 81.0L228.8 80.5L229.2 80.0L229.6 79.5L230.1 79.0L230.5 78.6L230.9 78.1L231.4 77.6L231.8 77.1L232.2 76.7L232.6 76.2L233.0 75.7L233.5 75.2L233.9 74.8L234.3 74.3L234.7 73.8L235.1 73.4M114.1 74.7L115.0 75.0L115.9 75.4L116.8 75.7L117.6 76.1L118.5 76.4L119.4 76.8L120.3 77.2L121.1 77.6L122.0 78.0L122.9 78.5L123.8 78.9L124.7 79.4L125.6 79.9L126.5 80.4L127.4 80.9L128.2 81.4L129.1 82.0L130.0 82.6L130.9 83.2L131.8 83.9L132.7 84.6L133.7 85.3L134.6 86.0L135.5 86.8L136.4 87.6L137.3 88.5L138.2 89.4L139.1 90.4L140.0 91.4L141.0 92.5L141.9 93.6L142.8 94.8L143.7 96.0L144.7 97.3L145.6 98.7L146.5 100.1L147.4 101.6L148.4 103.2L149.3 104.8L150.2 106.5L151.2 108.3L152.1 110.2L153.0 112.1L154.0 114.1M166.7 139.9L167.6 138.0L168.4 136.2L169.3 134.3L170.2 132.5L171.1 130.7L171.9 129.0L172.8 127.3L173.7 125.6L174.6 124.0L175.6 122.4L176.5 120.9L177.4 119.5L178.3 118.1L179.2 116.8L180.2 115.6L181.1 114.4L182.1 113.3L183.0 112.3L184.0 111.3L184.9 110.4L185.9 109.6L186.8 108.8L187.8 108.1L188.8 107.5L189.7 106.9L190.7 106.3L191.7 105.9L192.6 105.4L193.6 105.0L194.6 104.7L195.6 104.4L196.5 104.2L197.5 103.9L198.5 103.8L199.5 103.6L200.5 103.5L201.5 103.4L202.4 103.3L203.4 103.3L204.4 103.3L205.4 103.3L206.4 103.3L207.4 103.4L208.4 103.5L209.4 103.6L210.4 103.7L211.4 103.8L212.4 103.9L213.4 104.0L214.4 104.2L215.4 104.4L216.4 104.5L217.4 104.7L218.4 104.9L219.4 105.1L220.4 105.3L221.4 105.5L222.5 105.8L223.5 106.0L224.5 106.2L225.5 106.5L226.5 106.7L227.5 107.0L228.6 107.2L229.6 107.5L230.6 107.7L231.6 108.0L232.7 108.2L233.7 108.5L234.7 108.8L235.7 109.1L236.8 109.3L237.8 109.6L238.8 109.9L239.9 110.2L240.9 110.5L241.9 110.7L243.0 111.0L244.0 111.3L245.1 111.6L246.1 111.9L247.2 112.2L248.2 112.5L249.3 112.8L250.3 113.1L251.4 113.4L252.4 113.7L253.5 114.0L254.5 114.3L255.6 114.6L256.6 114.9L257.7 115.2L258.7 115.5L259.8 115.8L260.9 116.1L261.9 116.4L263.0 116.7L264.1 117.0L265.1 117.3L266.2 117.6L267.3 117.9L268.4 118.2M163.5 170.8L164.2 170.3L164.8 169.8L165.4 169.4L166.0 168.9L166.6 168.5L167.3 168.1L167.9 167.7L168.5 167.3L169.1 167.0L169.7 166.7L170.3 166.5L170.9 166.3L171.5 166.1L172.1 165.9L172.7 165.8L173.3 165.8L173.9 165.8L174.4 165.8L175.0 165.9L175.6 166.1L176.2 166.3L176.8 166.6L177.3 166.9L177.9 167.3L178.5 167.8L179.0 168.3L179.6 168.9L180.1 169.6L180.7 170.3L181.2 171.1L181.8 172.0L182.3 173.0L182.8 174.0L183.4 175.2M190.9 188.4L191.4 185.6L192.0 182.7L192.6 179.8L193.1 177.0L193.7 174.2L194.2 171.5L194.8 168.8L195.3 166.2L195.9 163.6L196.5 161.1L197.0 158.6L197.6 156.2L198.1 153.9L198.7 151.7L199.2 149.5L199.8 147.5L200.3 145.4L200.9 143.5L201.4 141.6L202.0 139.9L202.5 138.1L203.1 136.5L203.6 134.9L204.1 133.4L204.7 131.9L205.2 130.5L205.7 129.2L206.2 127.9L206.8 126.6L207.3 125.4L207.8 124.3L208.3 123.1L208.8 122.1L209.3 121.0L209.8 120.0L210.3 119.1L210.8 118.1L211.3 117.2L211.8 116.4L212.3 115.5L212.8 114.7L213.3 113.9L213.8 113.1L214.3 112.3L214.8 111.6L215.3 110.8L215.8 110.1L216.3 109.4L216.7 108.7L217.2 108.0L217.7 107.4L218.2 106.7L218.6 106.1L219.1 105.4L219.6 104.8L220.1 104.2L220.5 103.6L221.0 103.0L221.5 102.4L221.9 101.8L222.4 101.2L222.9 100.6L223.3 100.1L223.8 99.5L224.2 98.9L224.7 98.4L225.1 97.8L225.6 97.3L226.1 96.7L226.5 96.2L227.0 95.6L227.4 95.1L227.9 94.6L228.3 94.0L228.7 93.5L229.2 93.0L229.6 92.5L230.1 91.9L230.5 91.4L231.0 90.9L231.4 90.4L231.8 89.9L232.3 89.4L232.7 88.9L233.1 88.4L233.6 87.9L234.0 87.4L234.4 86.9L234.9 86.4L235.3 85.9L235.7 85.4L236.1 84.9L236.6 84.4L237.0 83.9L237.4 83.4L237.8 82.9L238.3 82.4L238.7 81.9L239.1 81.4L239.5 81.0L239.9 80.5L240.4 80.0L240.8 79.5L241.2 79.0L241.6 78.6L242.0 78.1L242.4 77.6L242.8 77.1L243.2 76.7L243.6 76.2L244.1 75.7M119.4 71.5L120.3 72.0L121.2 72.4L122.0 72.9L122.9 73.3L123.8 73.8L124.7 74.4L125.5 74.9L126.4 75.5L127.3 76.1L128.2 76.7L129.1 77.3L130.0 78.0L130.8 78.7L131.7 79.5L132.6 80.3L133.5 81.1L134.4 82.0L135.3 82.9L136.2 83.9L137.1 84.9L138.0 86.0L138.9 87.1L139.9 88.3L140.8 89.5L141.7 90.8L142.6 92.2L143.5 93.7L144.4 95.2L145.3 96.7L146.3 98.4L147.2 100.1L148.1 101.9L149.0 103.7L149.9 105.7M163.4 131.6L164.2 129.7L165.1 127.9L165.9 126.1L166.8 124.3L167.6 122.5L168.5 120.8L169.4 119.1L170.3 117.4L171.1 115.9L172.0 114.3L172.9 112.9L173.8 111.4L174.7 110.1L175.6 108.8L176.5 107.6L177.4 106.5L178.4 105.4L179.3 104.4L180.2 103.5L181.1 102.6L182.1 101.8L183.0 101.1L183.9 100.4L184.9 99.8L185.8 99.2L186.8 98.7L187.7 98.2L188.7 97.8L189.6 97.4L190.6 97.1L191.5 96.8L192.5 96.6L193.4 96.4L194.4 96.2L195.4 96.0L196.3 95.9L197.3 95.9L198.3 95.8L199.2 95.8L200.2 95.8L201.2 95.8L202.1 95.8L203.1 95.9L204.1 95.9L205.1 96.0L206.0 96.1L207.0 96.2L208.0 96.4L209.0 96.5L209.9 96.6L210.9 96.8L211.9 97.0L212.9 97.2L213.9 97.3L214.9 97.5L215.9 97.7L216.8 97.9L217.8 98.2L218.8 98.4L219.8 98.6L220.8 98.8L221.8 99.1L222.8 99.3L223.8 99.5L224.8 99.8L225.8 100.0L226.8 100.3L227.8 100.6L228.8 100.8L229.8 101.1L230.8 101.3L231.8 101.6L232.8 101.9L233.9 102.1L234.9 102.4L235.9 102.7L236.9 103.0L237.9 103.2L238.9 103.5L240.0 103.8L241.0 104.1L242.0 104.3L243.0 104.6L244.0 104.9L245.1 105.2L246.1 105.5L247.1 105.8L248.2 106.1L249.2 106.3L250.2 106.6L251.3 106.9L252.3 107.2L253.3 107.5L254.4 107.8L255.4 108.1L256.5 108.4L257.5 108.7L258.5 109.0L259.6 109.3L260.6 109.6L261.7 109.9L262.7 110.2L263.8 110.5L264.8 110.7L265.9 111.0L266.9 111.3L268.0 111.6L269.1 111.9L270.1 112.2L271.2 112.5L272.3 112.8M174.1 177.3L174.7 177.0L175.3 176.7L175.9 176.5L176.5 176.3L177.1 176.1L177.7 176.0L178.3 176.0L178.9 176.0L179.5 176.0L180.1 176.1L180.6 176.2L181.2 176.5L181.8 176.7L182.4 177.1L182.9 177.5L183.5 178.0L184.0 178.5L184.6 179.1L185.1 179.8L185.7 180.6L186.2 181.4L186.7 182.3L187.3 183.3L187.8 184.4L188.3 185.5M195.2 199.8L195.8 196.8L196.3 193.9L196.9 191.0L197.5 188.2L198.1 185.3L198.6 182.5L199.2 179.7L199.8 177.0L200.4 174.4L201.0 171.8L201.5 169.3L202.1 166.8L202.7 164.4L203.2 162.1L203.8 159.9L204.4 157.7L204.9 155.6L205.5 153.6L206.1 151.6L206.6 149.8L207.2 148.0L207.7 146.3L208.3 144.6L208.8 143.0L209.3 141.5L209.9 140.0L210.4 138.6L211.0 137.2L211.5 135.9L212.0 134.7L212.5 133.5L213.1 132.3L213.6 131.2L214.1 130.1L214.6 129.1L215.1 128.0L215.6 127.1L216.1 126.1L216.6 125.2L217.1 124.3L217.7 123.4L218.1 122.6L218.6 121.8L219.1 121.0L219.6 120.2L220.1 119.4L220.6 118.7L221.1 117.9L221.6 117.2L222.1 116.5L222.6 115.8L223.0 115.1L223.5 114.5L224.0 113.8L224.5 113.1L224.9 112.5L225.4 111.9L225.9 111.2L226.4 110.6L226.8 110.0L227.3 109.4L227.8 108.8L228.2 108.2L228.7 107.6L229.1 107.0L229.6 106.4L230.1 105.9L230.5 105.3L231.0 104.7L231.4 104.2L231.9 103.6L232.3 103.0L232.8 102.5L233.2 101.9L233.7 101.4L234.1 100.8L234.6 100.3L235.0 99.7L235.5 99.2L235.9 98.7L236.3 98.1L236.8 97.6L237.2 97.1L237.7 96.5L238.1 96.0L238.5 95.5L239.0 95.0L239.4 94.5L239.8 93.9L240.3 93.4L240.7 92.9L241.1 92.4L241.5 91.9L242.0 91.4L242.4 90.9L242.8 90.4L243.2 89.8L243.7 89.3L244.1 88.8L244.5 88.3L244.9 87.8L245.3 87.3L245.8 86.8L246.2 86.3L246.6 85.9L247.0 85.4L247.4 84.9L247.8 84.4L248.2 83.9L248.6 83.4L249.1 82.9L249.5 82.4L249.9 81.9L250.3 81.5L250.7 81.0L251.1 80.5L251.5 80.0L251.9 79.5L252.3 79.1L252.7 78.6L253.1 78.1M124.6 69.7L125.5 70.4L126.4 71.0L127.2 71.7L128.1 72.4L129.0 73.2L129.9 74.0L130.8 74.8L131.7 75.7L132.5 76.6L133.4 77.6L134.3 78.6L135.2 79.7L136.1 80.8L137.0 82.0L137.9 83.3L138.8 84.6L139.7 86.0L140.6 87.4L141.5 88.9L142.4 90.5L143.3 92.2L144.2 93.9L145.1 95.7L146.0 97.6L146.9 99.5M159.4 125.4L160.2 123.5L161.0 121.7L161.8 119.8L162.7 118.0L163.5 116.3L164.3 114.5L165.2 112.8L166.0 111.1L166.9 109.5L167.7 108.0L168.6 106.5L169.5 105.0L170.3 103.7L171.2 102.4L172.1 101.1L173.0 99.9L173.9 98.8L174.8 97.8L175.7 96.8L176.6 95.9L177.5 95.1L178.4 94.3L179.3 93.6L180.2 92.9L181.1 92.3L182.1 91.8L183.0 91.3L183.9 90.8L184.8 90.4L185.8 90.1L186.7 89.8L187.6 89.5L188.6 89.3L189.5 89.1L190.4 88.9L191.4 88.8L192.3 88.7L193.3 88.6L194.2 88.5L195.2 88.5L196.1 88.5L197.1 88.5L198.0 88.5L199.0 88.6L199.9 88.7L200.9 88.7L201.8 88.8L202.8 88.9L203.7 89.1L204.7 89.2L205.7 89.4L206.6 89.5L207.6 89.7L208.5 89.8L209.5 90.0L210.5 90.2L211.4 90.4L212.4 90.6L213.4 90.8L214.3 91.0L215.3 91.3L216.3 91.5L217.3 91.7L218.2 91.9L219.2 92.2L220.2 92.4L221.2 92.6L222.2 92.9L223.1 93.1L224.1 93.4L225.1 93.6L226.1 93.9L227.1 94.1L228.1 94.4L229.1 94.7L230.0 94.9L231.0 95.2L232.0 95.5L233.0 95.7L234.0 96.0L235.0 96.3L236.0 96.5L237.0 96.8L238.0 97.1L239.0 97.3L240.0 97.6L241.0 97.9L242.0 98.2L243.0 98.4L244.1 98.7L245.1 99.0L246.1 99.3L247.1 99.6L248.1 99.8L249.1 100.1L250.1 100.4L251.2 100.7L252.2 101.0L253.2 101.3L254.2 101.5L255.3 101.8L256.3 102.1L257.3 102.4L258.3 102.7L259.4 103.0L260.4 103.3L261.4 103.5L262.5 103.8L263.5 104.1L264.5 104.4L265.6 104.7L266.6 105.0L267.7 105.3L268.7 105.6L269.7 105.9L270.8 106.2L271.8 106.4L272.9 106.7L273.9 107.0L275.0 107.3L276.0 107.6M184.7 186.6L185.3 186.7L185.9 186.8L186.4 187.1L187.0 187.3L187.6 187.7L188.1 188.1L188.7 188.6L189.2 189.1L189.8 189.8L190.3 190.5L190.9 191.2L191.4 192.1L191.9 193.0L192.4 194.0L192.9 195.1M200.3 208.6L200.9 205.6L201.4 202.7L202.0 199.7L202.6 196.8L203.2 193.9L203.8 191.1L204.4 188.3L205.0 185.6L205.6 182.9L206.2 180.3L206.8 177.8L207.4 175.3L208.0 172.9L208.5 170.6L209.1 168.4L209.7 166.2L210.3 164.1L210.9 162.1L211.4 160.1L212.0 158.3L212.6 156.5L213.1 154.7L213.7 153.1L214.2 151.5L214.8 149.9L215.3 148.4L215.9 147.0L216.4 145.7L216.9 144.3L217.5 143.1L218.0 141.9L218.5 140.7L219.1 139.5L219.6 138.4L220.1 137.4L220.6 136.4L221.1 135.4L221.6 134.4L222.2 133.5L222.7 132.6L223.2 131.7L223.7 130.8L224.2 130.0L224.7 129.2L225.2 128.4L225.7 127.6L226.1 126.8L226.6 126.1L227.1 125.3L227.6 124.6L228.1 123.9L228.6 123.2L229.1 122.5L229.5 121.8L230.0 121.1L230.5 120.5L231.0 119.8L231.4 119.2L231.9 118.5L232.4 117.9L232.8 117.3L233.3 116.7L233.8 116.0L234.2 115.4L234.7 114.8L235.2 114.2L235.6 113.6L236.1 113.0L236.5 112.4L237.0 111.9L237.5 111.3L237.9 110.7L238.4 110.1L238.8 109.6L239.3 109.0L239.7 108.4L240.1 107.9L240.6 107.3L241.0 106.7L241.5 106.2L241.9 105.6L242.4 105.1L242.8 104.5L243.2 104.0L243.7 103.4L244.1 102.9L244.5 102.4L245.0 101.8L245.4 101.3L245.8 100.7L246.3 100.2L246.7 99.7L247.1 99.1L247.6 98.6L248.0 98.1L248.4 97.6L248.8 97.0L249.3 96.5L249.7 96.0L250.1 95.5L250.5 95.0L250.9 94.4L251.4 93.9L251.8 93.4L252.2 92.9L252.6 92.4L253.0 91.9L253.4 91.4L253.8 90.9L254.2 90.4L254.6 89.9L255.1 89.4L255.5 88.9L255.9 88.4L256.3 87.9L256.7 87.4L257.1 86.9L257.5 86.4L257.9 85.9L258.3 85.4L258.7 84.9L259.1 84.4L259.5 83.9L259.9 83.4L260.3 82.9L260.7 82.5L261.1 82.0L261.4 81.5L261.8 81.0L262.2 80.5M129.8 70.5L130.7 71.5L131.6 72.5L132.5 73.6L133.4 74.8L134.2 76.0L135.1 77.2L136.0 78.6L136.9 80.0L137.8 81.4L138.7 82.9L139.6 84.5L140.5 86.2L141.4 87.9L142.3 89.7L143.2 91.6M156.3 117.5L157.1 115.7L157.9 113.9L158.7 112.1L159.5 110.3L160.3 108.5L161.1 106.8L161.9 105.1L162.8 103.5L163.6 101.9L164.4 100.4L165.3 98.9L166.1 97.5L167.0 96.2L167.8 94.9L168.7 93.7L169.6 92.5L170.4 91.4L171.3 90.4L172.2 89.5L173.1 88.6L174.0 87.8L174.8 87.0L175.7 86.4L176.6 85.7L177.5 85.1L178.4 84.6L179.3 84.1L180.2 83.7L181.1 83.3L182.0 83.0L183.0 82.7L183.9 82.4L184.8 82.2L185.7 82.0L186.6 81.8L187.5 81.7L188.5 81.6L189.4 81.5L190.3 81.5L191.2 81.5L192.2 81.5L193.1 81.5L194.0 81.5L195.0 81.6L195.9 81.6L196.8 81.7L197.8 81.8L198.7 81.9L199.6 82.0L200.6 82.2L201.5 82.3L202.4 82.5L203.4 82.6L204.3 82.8L205.3 83.0L206.2 83.2L207.2 83.3L208.1 83.5L209.1 83.7L210.0 83.9L211.0 84.2L211.9 84.4L212.9 84.6L213.8 84.8L214.8 85.0L215.7 85.3L216.7 85.5L217.7 85.7L218.6 86.0L219.6 86.2L220.6 86.5L221.5 86.7L222.5 87.0L223.5 87.2L224.4 87.5L225.4 87.7L226.4 88.0L227.3 88.2L228.3 88.5L229.3 88.7L230.3 89.0L231.2 89.2L232.2 89.5L233.2 89.8L234.2 90.0L235.2 90.3L236.2 90.6L237.1 90.8L238.1 91.1L239.1 91.4L240.1 91.6L241.1 91.9L242.1 92.2L243.1 92.4L244.1 92.7L245.1 93.0L246.1 93.3L247.1 93.5L248.1 93.8L249.1 94.1L250.1 94.4L251.1 94.6L252.1 94.9L253.1 95.2L254.1 95.5L255.1 95.7L256.1 96.0L257.1 96.3L258.1 96.6L259.2 96.9L260.2 97.1L261.2 97.4L262.2 97.7L263.2 98.0L264.3 98.3L265.3 98.5L266.3 98.8L267.3 99.1L268.4 99.4L269.4 99.7L270.4 100.0L271.4 100.2L272.5 100.5L273.5 100.8L274.5 101.1L275.6 101.4L276.6 101.7L277.7 102.0L278.7 102.2L279.8 102.5M195.2 200.9L195.7 201.6L196.3 202.3L196.8 203.2L197.3 204.1L197.8 205.1L198.3 206.2M204.9 220.5L205.5 217.7L206.1 214.7L206.8 211.7L207.4 208.8L208.0 205.8L208.6 203.0L209.2 200.1L209.8 197.3L210.4 194.6L211.1 191.9L211.7 189.2L212.3 186.7L212.9 184.2L213.5 181.8L214.1 179.5L214.7 177.2L215.3 175.0L215.8 172.9L216.4 170.9L217.0 169.0L217.6 167.1L218.2 165.3L218.7 163.5L219.3 161.9L219.9 160.3L220.4 158.7L221.0 157.2L221.5 155.8L222.1 154.4L222.6 153.1L223.2 151.8L223.7 150.6L224.2 149.4L224.8 148.2L225.3 147.1L225.8 146.1L226.3 145.0L226.8 144.0L227.4 143.0L227.9 142.1L228.4 141.2L228.9 140.3L229.4 139.4L229.9 138.5L230.4 137.7L230.9 136.9L231.4 136.1L231.9 135.3L232.4 134.5L232.9 133.7L233.4 133.0L233.9 132.3L234.3 131.5L234.8 130.8L235.3 130.1L235.8 129.4L236.3 128.8L236.7 128.1L237.2 127.4L237.7 126.8L238.2 126.1L238.6 125.5L239.1 124.8L239.6 124.2L240.0 123.5L240.5 122.9L240.9 122.3L241.4 121.7L241.9 121.1L242.3 120.5L242.8 119.9L243.2 119.3L243.7 118.7L244.1 118.1L244.6 117.5L245.0 116.9L245.5 116.3L245.9 115.7L246.4 115.1L246.8 114.6L247.3 114.0L247.7 113.4L248.2 112.8L248.6 112.3L249.0 111.7L249.5 111.1L249.9 110.6L250.3 110.0L250.8 109.4L251.2 108.9L251.6 108.3L252.1 107.8L252.5 107.2L252.9 106.7L253.4 106.1L253.8 105.6L254.2 105.0L254.6 104.5L255.1 104.0L255.5 103.4L255.9 102.9L256.3 102.3L256.7 101.8L257.1 101.3L257.6 100.7L258.0 100.2L258.4 99.7L258.8 99.2L259.2 98.6L259.6 98.1L260.0 97.6L260.4 97.1L260.9 96.5L261.3 96.0L261.7 95.5L262.1 95.0L262.5 94.5L262.9 94.0L263.3 93.4L263.7 92.9L264.1 92.4L264.5 91.9L264.9 91.4L265.3 90.9L265.7 90.4L266.1 89.9L266.5 89.4L266.8 88.9L267.2 88.4L267.6 87.9L268.0 87.4L268.4 86.9L268.8 86.4L269.2 85.9L269.6 85.4L270.0 84.9L270.3 84.4L270.7 83.9L271.1 83.5L271.5 83.0M135.1 75.6L136.0 77.1L136.8 78.7L137.7 80.4L138.6 82.1L139.5 84.0L140.4 85.8M153.3 109.9L154.1 108.1L154.9 106.3L155.7 104.5L156.4 102.7L157.2 101.0L158.0 99.3L158.8 97.7L159.6 96.0L160.4 94.5L161.2 93.0L162.1 91.6L162.9 90.2L163.7 88.9L164.6 87.6L165.4 86.5L166.2 85.3L167.1 84.3L167.9 83.3L168.8 82.4L169.7 81.6L170.5 80.8L171.4 80.0L172.3 79.4L173.1 78.8L174.0 78.2L174.9 77.7L175.8 77.2L176.7 76.8L177.6 76.4L178.4 76.1L179.3 75.8L180.2 75.6L181.1 75.4L182.0 75.2L182.9 75.0L183.8 74.9L184.7 74.8L185.6 74.8L186.5 74.7L187.4 74.7L188.3 74.7L189.3 74.7L190.2 74.7L191.1 74.8L192.0 74.9L192.9 74.9L193.8 75.0L194.7 75.1L195.7 75.3L196.6 75.4L197.5 75.5L198.4 75.7L199.3 75.8L200.3 76.0L201.2 76.2L202.1 76.3L203.1 76.5L204.0 76.7L204.9 76.9L205.8 77.1L206.8 77.3L207.7 77.5L208.6 77.7L209.6 77.9L210.5 78.2L211.5 78.4L212.4 78.6L213.3 78.8L214.3 79.1L215.2 79.3L216.2 79.5L217.1 79.8L218.1 80.0L219.0 80.2L220.0 80.5L220.9 80.7L221.9 81.0L222.8 81.2L223.8 81.5L224.7 81.7L225.7 82.0L226.6 82.2L227.6 82.5L228.5 82.7L229.5 83.0L230.5 83.2L231.4 83.5L232.4 83.8L233.4 84.0L234.3 84.3L235.3 84.5L236.3 84.8L237.2 85.1L238.2 85.3L239.2 85.6L240.2 85.8L241.1 86.1L242.1 86.4L243.1 86.6L244.1 86.9L245.1 87.2L246.0 87.4L247.0 87.7L248.0 88.0L249.0 88.2L250.0 88.5L251.0 88.8L252.0 89.0L253.0 89.3L254.0 89.6L255.0 89.8L256.0 90.1L256.9 90.4L257.9 90.6L258.9 90.9L260.0 91.2L261.0 91.5L262.0 91.7L263.0 92.0L264.0 92.3L265.0 92.6L266.0 92.8L267.0 93.1L268.0 93.4L269.0 93.7L270.0 93.9L271.1 94.2L272.1 94.5L273.1 94.8L274.1 95.0L275.1 95.3L276.2 95.6L277.2 95.9L278.2 96.2L279.2 96.4L280.3 96.7L281.3 97.0L282.3 97.3L283.4 97.6M209.8 231.8L210.4 230.3L211.0 227.3L211.7 224.2L212.3 221.2L212.9 218.2L213.6 215.3L214.2 212.3L214.8 209.5L215.5 206.6L216.1 203.9L216.7 201.2L217.4 198.5L218.0 196.0L218.6 193.5L219.2 191.1L219.8 188.7L220.4 186.5L221.0 184.3L221.6 182.2L222.2 180.1L222.8 178.2L223.4 176.3L224.0 174.5L224.6 172.7L225.2 171.0L225.7 169.4L226.3 167.9L226.9 166.4L227.4 164.9L228.0 163.5L228.5 162.2L229.1 160.9L229.6 159.7L230.1 158.5L230.7 157.3L231.2 156.2L231.7 155.1L232.3 154.0L232.8 153.0L233.3 152.0L233.8 151.0L234.3 150.1L234.9 149.2L235.4 148.3L235.9 147.4L236.4 146.5L236.9 145.7L237.4 144.9L237.9 144.1L238.4 143.3L238.9 142.5L239.3 141.7L239.8 141.0L240.3 140.2L240.8 139.5L241.3 138.8L241.8 138.1L242.2 137.4L242.7 136.7L243.2 136.0L243.7 135.3L244.1 134.6L244.6 134.0L245.1 133.3L245.6 132.6L246.0 132.0L246.5 131.3L246.9 130.7L247.4 130.0L247.9 129.4L248.3 128.8L248.8 128.2L249.2 127.5L249.7 126.9L250.1 126.3L250.6 125.7L251.0 125.1L251.5 124.5L251.9 123.9L252.4 123.3L252.8 122.7L253.3 122.1L253.7 121.5L254.2 120.9L254.6 120.3L255.0 119.7L255.5 119.1L255.9 118.5L256.4 117.9L256.8 117.4L257.2 116.8L257.7 116.2L258.1 115.6L258.5 115.1L258.9 114.5L259.4 113.9L259.8 113.4L260.2 112.8L260.6 112.2L261.1 111.7L261.5 111.1L261.9 110.6L262.3 110.0L262.7 109.4L263.2 108.9L263.6 108.3L264.0 107.8L264.4 107.2L264.8 106.7L265.2 106.1L265.6 105.6L266.0 105.1L266.5 104.5L266.9 104.0L267.3 103.4L267.7 102.9L268.1 102.4L268.5 101.8L268.9 101.3L269.3 100.8L269.7 100.2L270.1 99.7L270.5 99.2L270.9 98.7L271.3 98.1L271.7 97.6L272.1 97.1L272.5 96.6L272.8 96.0L273.2 95.5L273.6 95.0L274.0 94.5L274.4 94.0L274.8 93.5L275.2 93.0L275.6 92.5L275.9 91.9L276.3 91.4L276.7 90.9L277.1 90.4L277.5 89.9L277.9 89.4L278.2 88.9L278.6 88.4L279.0 87.9L279.4 87.4L279.7 86.9L280.1 86.4L280.5 85.9L280.9 85.4M149.7 104.4L150.4 102.6L151.2 100.8L151.9 99.0L152.7 97.2L153.5 95.4L154.2 93.7L155.0 92.1L155.8 90.4L156.6 88.8L157.3 87.3L158.1 85.9L158.9 84.5L159.8 83.1L160.6 81.8L161.4 80.6L162.2 79.5L163.0 78.4L163.9 77.4L164.7 76.4L165.5 75.6L166.4 74.7L167.2 74.0L168.1 73.3L168.9 72.6L169.8 72.0L170.6 71.5L171.5 71.0L172.4 70.6L173.2 70.2L174.1 69.8L175.0 69.5L175.8 69.2L176.7 69.0L177.6 68.8L178.5 68.6L179.3 68.5L180.2 68.3L181.1 68.3L182.0 68.2L182.9 68.2L183.8 68.1L184.7 68.1L185.6 68.2L186.4 68.2L187.3 68.2L188.2 68.3L189.1 68.4L190.0 68.5L190.9 68.6L191.8 68.7L192.7 68.8L193.6 69.0L194.5 69.1L195.4 69.2L196.3 69.4L197.3 69.6L198.2 69.7L199.1 69.9L200.0 70.1L200.9 70.3L201.8 70.5L202.7 70.7L203.6 70.9L204.5 71.1L205.5 71.3L206.4 71.5L207.3 71.7L208.2 71.9L209.1 72.2L210.1 72.4L211.0 72.6L211.9 72.8L212.8 73.1L213.8 73.3L214.7 73.5L215.6 73.8L216.6 74.0L217.5 74.2L218.4 74.5L219.4 74.7L220.3 75.0L221.2 75.2L222.2 75.4L223.1 75.7L224.1 75.9L225.0 76.2L225.9 76.4L226.9 76.7L227.8 76.9L228.8 77.2L229.7 77.4L230.7 77.7L231.6 77.9L232.6 78.2L233.5 78.4L234.5 78.7L235.4 78.9L236.4 79.2L237.4 79.4L238.3 79.7L239.3 80.0L240.2 80.2L241.2 80.5L242.2 80.7L243.1 81.0L244.1 81.2L245.1 81.5L246.0 81.8L247.0 82.0L248.0 82.3L248.9 82.5L249.9 82.8L250.9 83.1L251.9 83.3L252.9 83.6L253.8 83.8L254.8 84.1L255.8 84.4L256.8 84.6L257.8 84.9L258.7 85.2L259.7 85.4L260.7 85.7L261.7 86.0L262.7 86.2L263.7 86.5L264.7 86.7L265.7 87.0L266.7 87.3L267.7 87.5L268.7 87.8L269.7 88.1L270.7 88.4L271.7 88.6L272.7 88.9L273.7 89.2L274.7 89.4L275.7 89.7L276.7 90.0L277.7 90.2L278.7 90.5L279.8 90.8L280.8 91.1L281.8 91.3L282.8 91.6L283.8 91.9L284.8 92.1L285.9 92.4L286.9 92.7" fill="none" stroke="#2a2424" stroke-opacity="0.75" stroke-width="0.85"/>
<path d="M47.9 128.4L48.3 128.1L48.7 127.8L49.1 127.4L49.5 127.1L49.9 126.8L50.2 126.5L50.6 126.2L51.0 125.9L51.4 125.5L51.8 125.2L52.2 124.9L52.5 124.6L52.9 124.3L53.3 124.0L53.7 123.6L54.1 123.3L54.4 123.0L54.8 122.7L55.2 122.4L55.6 122.1L56.0 121.8L56.3 121.4L56.7 121.1L57.1 120.8L57.5 120.5L57.8 120.2L58.2 119.9L58.6 119.6L59.0 119.3L59.3 119.0L59.7 118.7L60.1 118.3L60.4 118.0L60.8 117.7L61.2 117.4L61.6 117.1L61.9 116.8L62.3 116.5L62.7 116.2L63.0 115.9L63.4 115.6L63.8 115.3L64.1 115.0L64.5 114.7L64.9 114.4L65.2 114.1L65.6 113.8L66.0 113.5L66.3 113.2L66.7 112.9L67.0 112.6L67.4 112.3L67.8 112.0L68.1 111.7L68.5 111.4L68.8 111.1L69.2 110.8L69.6 110.5L69.9 110.2L70.3 109.9L70.6 109.6L71.0 109.3L71.3 109.0L71.7 108.7L72.1 108.4L72.4 108.2L72.8 107.9L73.1 107.6L73.5 107.3L73.8 107.0L74.2 106.7L74.5 106.4L74.9 106.1L75.2 105.8L75.6 105.5L75.9 105.2L76.3 105.0L76.6 104.7L77.0 104.4L77.3 104.1L77.7 103.8L78.0 103.5L78.4 103.2L78.7 102.9L79.0 102.7L79.4 102.4L79.7 102.1L80.1 101.8L80.4 101.5L80.8 101.2L81.1 101.0L81.5 100.7L81.8 100.4L82.1 100.1L82.5 99.8L82.8 99.6L83.2 99.3L83.5 99.0L83.8 98.7L84.2 98.4L84.5 98.2L84.8 97.9L85.2 97.6L85.5 97.3L85.9 97.0L86.2 96.8L86.5 96.5L86.9 96.2L87.2 95.9L87.5 95.7L87.9 95.4L88.2 95.1L88.5 94.8L88.9 94.6L89.2 94.3L89.5 94.0L89.9 93.8L90.2 93.5L90.5 93.2L90.8 92.9L91.2 92.7L91.5 92.4L91.8 92.1L92.2 91.9L92.5 91.6L92.8 91.3L93.1 91.1L93.5 90.8L93.8 90.5L94.1 90.3L94.4 90.0L94.8 89.7L95.1 89.5L95.4 89.2L95.7 88.9L96.1 88.7L96.4 88.4L96.7 88.1L97.0 87.9L97.3 87.6L97.7 87.4L98.0 87.1L98.3 86.8L98.6 86.6L98.9 86.3L99.3 86.1L99.6 85.8L99.9 85.6L100.2 85.3L100.5 85.0L100.8 84.8L101.2 84.5L101.5 84.3L101.8 84.0L102.1 83.8L102.4 83.5L102.7 83.3L103.0 83.0L103.4 82.8L103.7 82.5L104.0 82.3L104.3 82.0L104.6 81.8L104.9 81.5L105.2 81.3L105.5 81.0L105.9 80.8L106.2 80.6L106.5 80.3L106.8 80.1L107.1 79.8L107.4 79.6L107.7 79.4L108.0 79.1L108.3 78.9L108.6 78.7L108.9 78.4L109.2 78.2L109.5 78.0L109.9 77.7L110.2 77.5L110.5 77.3L110.8 77.1L111.1 76.8L111.4 76.6L111.7 76.4L112.0 76.2L112.3 76.0L112.6 75.7L112.9 75.5L113.2 75.3L113.5 75.1L113.8 74.9L114.1 74.7L114.4 74.5L114.7 74.3L115.0 74.1L115.3 73.9L115.6 73.7L115.9 73.5L116.2 73.3L116.5 73.2L116.8 73.0L117.1 72.8L117.4 72.6L117.7 72.4L118.0 72.3L118.3 72.1L118.6 72.0L118.9 71.8L119.2 71.6L119.5 71.5L119.8 71.3L120.1 71.2L120.4 71.1L120.7 70.9L121.0 70.8L121.3 70.7L121.6 70.6L121.9 70.5L122.1 70.4L122.4 70.3L122.7 70.2L123.0 70.1L123.3 70.0L123.6 69.9L123.9 69.9L124.2 69.8L124.5 69.8L124.8 69.7L125.1 69.7L125.4 69.7L125.7 69.6L126.0 69.6L126.3 69.6L126.6 69.6L126.9 69.7L127.2 69.7L127.5 69.7L127.8 69.8L128.1 69.9L128.3 69.9L128.6 70.0L128.9 70.1L129.2 70.2L129.5 70.4L129.8 70.5L130.1 70.7L130.4 70.8L130.7 71.0L131.0 71.2L131.3 71.4L131.6 71.7L131.9 71.9L132.2 72.2L132.5 72.4L132.8 72.7L133.1 73.1L133.4 73.4L133.7 73.7L134.0 74.1L134.3 74.5L134.6 74.9L134.9 75.3L135.2 75.7L135.5 76.2L135.8 76.7L136.1 77.2L136.4 77.7L136.7 78.2L137.0 78.8L137.3 79.3L137.5 79.9L137.8 80.5L138.1 81.1L138.4 81.8M47.9 128.4L48.4 128.6L48.9 128.8L49.4 128.9L49.9 129.1L50.4 129.3L50.9 129.5L51.4 129.6L51.9 129.8L52.4 130.0L52.9 130.1L53.4 130.3L53.9 130.5L54.5 130.7L55.0 130.8L55.5 131.0L56.0 131.2L56.5 131.4L57.0 131.6L57.5 131.7L58.0 131.9L58.5 132.1L59.0 132.3L59.5 132.4L60.0 132.6L60.6 132.8L61.1 133.0L61.6 133.1L62.1 133.3L62.6 133.5L63.1 133.7L63.6 133.8L64.1 134.0L64.6 134.2L65.2 134.4L65.7 134.6L66.2 134.7L66.7 134.9L67.2 135.1L67.7 135.3L68.3 135.5L68.8 135.6L69.3 135.8L69.8 136.0L70.3 136.2L70.8 136.4L71.4 136.5L71.9 136.7L72.4 136.9L72.9 137.1L73.4 137.3L74.0 137.4L74.5 137.6L75.0 137.8L75.5 138.0L76.1 138.2L76.6 138.3L77.1 138.5L77.6 138.7L78.1 138.9L78.7 139.1L79.2 139.2L79.7 139.4L80.2 139.6L80.8 139.8L81.3 140.0L81.8 140.2L82.4 140.3L82.9 140.5L83.4 140.7L83.9 140.9L84.5 141.1L85.0 141.3L85.5 141.4L86.1 141.6L86.6 141.8L87.1 142.0L87.7 142.2L88.2 142.4L88.7 142.5L89.3 142.7L89.8 142.9L90.3 143.1L90.9 143.3L91.4 143.5L91.9 143.7L92.5 143.8L93.0 144.0L93.5 144.2L94.1 144.4L94.6 144.6L95.2 144.8L95.7 145.0L96.2 145.1L96.8 145.3L97.3 145.5L97.8 145.7L98.4 145.9L98.9 146.1L99.5 146.3L100.0 146.5L100.6 146.7L101.1 146.8L101.6 147.0L102.2 147.2L102.7 147.4L103.3 147.6L103.8 147.8L104.4 148.0L104.9 148.2L105.5 148.4L106.0 148.5L106.6 148.7L107.1 148.9L107.7 149.1L108.2 149.3L108.7 149.5L109.3 149.7L109.8 149.9L110.4 150.1L111.0 150.3L111.5 150.5L112.1 150.7L112.6 150.9L113.2 151.0L113.7 151.2L114.3 151.4L114.8 151.6L115.4 151.8L115.9 152.0L116.5 152.2L117.0 152.4L117.6 152.6L118.2 152.8L118.7 153.0L119.3 153.2L119.8 153.4L120.4 153.6L120.9 153.8L121.5 154.0L122.1 154.2L122.6 154.4L123.2 154.6L123.8 154.8L124.3 155.0L124.9 155.2L125.4 155.4L126.0 155.6L126.6 155.8L127.1 156.0L127.7 156.2L128.3 156.4L128.8 156.6L129.4 156.8L130.0 157.0L130.5 157.2L131.1 157.4L131.7 157.6L132.2 157.8L132.8 158.0L133.4 158.2L133.9 158.4L134.5 158.7L135.1 158.9L135.7 159.1L136.2 159.3L136.8 159.5L137.4 159.7L138.0 159.9L138.5 160.1L139.1 160.4L139.7 160.6L140.3 160.8L140.8 161.0L141.4 161.2L142.0 161.4L142.6 161.7L143.1 161.9L143.7 162.1L144.3 162.3L144.9 162.6L145.5 162.8L146.0 163.0L146.6 163.3L147.2 163.5L147.8 163.7L148.4 164.0L149.0 164.2L149.5 164.4L150.1 164.7L150.7 164.9L151.3 165.2L151.9 165.4L152.5 165.6L153.0 165.9L153.6 166.2L154.2 166.4L154.8 166.7L155.4 166.9L156.0 167.2L156.6 167.5L157.2 167.7L157.8 168.0L158.4 168.3L158.9 168.5L159.5 168.8L160.1 169.1L160.7 169.4L161.3 169.7L161.9 170.0L162.5 170.3L163.1 170.6L163.7 170.9L164.3 171.2L164.9 171.5L165.5 171.9L166.1 172.2L166.7 172.5L167.3 172.9L167.9 173.2L168.5 173.6L169.1 173.9L169.7 174.3L170.3 174.7L170.9 175.1L171.5 175.5L172.1 175.8L172.7 176.3L173.3 176.7L173.9 177.1L174.5 177.5L175.1 178.0L175.7 178.4L176.3 178.9L176.9 179.3L177.5 179.8L178.1 180.3L178.7 180.8L179.3 181.3L179.9 181.9L180.5 182.4L181.1 182.9L181.7 183.5L182.3 184.1L182.9 184.7L183.5 185.3L184.1 185.9L184.7 186.6L185.3 187.2L185.9 187.9L186.5 188.6L187.1 189.3L187.7 190.0L188.3 190.7L188.9 191.5L189.5 192.3L190.1 193.1L190.6 193.9L191.2 194.7L191.8 195.6L192.4 196.5L193.0 197.3L193.6 198.3L194.2 199.2L194.8 200.2L195.4 201.1L196.0 202.1L196.5 203.2L197.1 204.2L197.7 205.3L198.3 206.4L198.9 207.5L199.4 208.6L200.0 209.7L200.6 210.9L201.1 212.1L201.7 213.3L202.3 214.5L202.8 215.8L203.4 217.1L204.0 218.4L204.5 219.7L205.1 221.0L205.6 222.3L206.2 223.7L206.7 225.0L207.3 226.4L207.8 227.8L208.4 229.2L208.9 230.6L209.5 232.0L210.0 233.5L210.5 234.9L211.1 236.4L211.6 237.8L212.2 239.3L212.7 240.7L213.2 242.2L213.8 243.1L214.4 243.3L215.0 243.5M215.0 243.5L215.2 243.1L215.5 242.7L215.8 241.6L216.2 239.9L216.5 238.3L216.9 236.6L217.2 235.0L217.6 233.4L217.9 231.7L218.3 230.1L218.6 228.5L219.0 226.9L219.3 225.3L219.7 223.7L220.0 222.2L220.4 220.6L220.7 219.1L221.1 217.5L221.4 216.0L221.8 214.6L222.1 213.1L222.5 211.6L222.8 210.2L223.2 208.8L223.5 207.4L223.9 206.0L224.2 204.7L224.5 203.3L224.9 202.0L225.2 200.8L225.5 199.5L225.9 198.3L226.2 197.0L226.5 195.8L226.9 194.7L227.2 193.5L227.5 192.4L227.9 191.3L228.2 190.2L228.5 189.1L228.8 188.1L229.1 187.0L229.5 186.0L229.8 185.0L230.1 184.1L230.4 183.1L230.7 182.2L231.0 181.3L231.3 180.4L231.7 179.5L232.0 178.7L232.3 177.8L232.6 177.0L232.9 176.2L233.2 175.4L233.5 174.7L233.8 173.9L234.1 173.2L234.4 172.4L234.7 171.7L235.0 171.0L235.3 170.3L235.6 169.6L235.8 169.0L236.1 168.3L236.4 167.7L236.7 167.1L237.0 166.4L237.3 165.8L237.6 165.2L237.9 164.6L238.1 164.1L238.4 163.5L238.7 162.9L239.0 162.4L239.3 161.8L239.5 161.3L239.8 160.8L240.1 160.2L240.4 159.7L240.6 159.2L240.9 158.7L241.2 158.2L241.5 157.7L241.7 157.2L242.0 156.8L242.3 156.3L242.5 155.8L242.8 155.4L243.1 154.9L243.4 154.5L243.6 154.0L243.9 153.6L244.2 153.1L244.4 152.7L244.7 152.3L244.9 151.8L245.2 151.4L245.5 151.0L245.7 150.6L246.0 150.2L246.3 149.7L246.5 149.3L246.8 148.9L247.0 148.5L247.3 148.1L247.5 147.7L247.8 147.3L248.1 147.0L248.3 146.6L248.6 146.2L248.8 145.8L249.1 145.4L249.3 145.0L249.6 144.7L249.8 144.3L250.1 143.9L250.3 143.5L250.6 143.2L250.9 142.8L251.1 142.4L251.4 142.1L251.6 141.7L251.9 141.3L252.1 141.0L252.3 140.6L252.6 140.3L252.8 139.9L253.1 139.5L253.3 139.2L253.6 138.8L253.8 138.5L254.1 138.1L254.3 137.8L254.6 137.4L254.8 137.1L255.1 136.7L255.3 136.4L255.5 136.0L255.8 135.7L256.0 135.4L256.3 135.0L256.5 134.7L256.7 134.3L257.0 134.0L257.2 133.7L257.5 133.3L257.7 133.0L257.9 132.7L258.2 132.3L258.4 132.0L258.7 131.7L258.9 131.3L259.1 131.0L259.4 130.7L259.6 130.3L259.8 130.0L260.1 129.7L260.3 129.3L260.6 129.0L260.8 128.7L261.0 128.4L261.3 128.0L261.5 127.7L261.7 127.4L262.0 127.1L262.2 126.7L262.4 126.4L262.7 126.1L262.9 125.8L263.1 125.5L263.3 125.1L263.6 124.8L263.8 124.5L264.0 124.2L264.3 123.9L264.5 123.6L264.7 123.2L265.0 122.9L265.2 122.6L265.4 122.3L265.6 122.0L265.9 121.7L266.1 121.4L266.3 121.0L266.5 120.7L266.8 120.4L267.0 120.1L267.2 119.8L267.4 119.5L267.7 119.2L267.9 118.9L268.1 118.6L268.3 118.2L268.6 117.9L268.8 117.6L269.0 117.3L269.2 117.0L269.4 116.7L269.7 116.4L269.9 116.1L270.1 115.8L270.3 115.5L270.6 115.2L270.8 114.9L271.0 114.6L271.2 114.3L271.4 114.0L271.7 113.7L271.9 113.4L272.1 113.1L272.3 112.8L272.5 112.5L272.7 112.2L273.0 111.9L273.2 111.6L273.4 111.3L273.6 111.0L273.8 110.7L274.0 110.4L274.3 110.1L274.5 109.8L274.7 109.5L274.9 109.2L275.1 108.9L275.3 108.6L275.5 108.3L275.7 108.0L276.0 107.7L276.2 107.5L276.4 107.2L276.6 106.9L276.8 106.6L277.0 106.3L277.2 106.0L277.4 105.7L277.7 105.4L277.9 105.1L278.1 104.8L278.3 104.5L278.5 104.3L278.7 104.0L278.9 103.7L279.1 103.4L279.3 103.1L279.5 102.8L279.7 102.5L279.9 102.3L280.2 102.0L280.4 101.7L280.6 101.4L280.8 101.1L281.0 100.8L281.2 100.6L281.4 100.3L281.6 100.0L281.8 99.7L282.0 99.4L282.2 99.1L282.4 98.9L282.6 98.6L282.8 98.3L283.0 98.0L283.2 97.7L283.4 97.5L283.6 97.2L283.8 96.9L284.0 96.6L284.2 96.4L284.4 96.1L284.6 95.8L284.8 95.5L285.0 95.3L285.2 95.0L285.4 94.7L285.6 94.4L285.8 94.2L286.0 93.9L286.2 93.6L286.4 93.3L286.6 93.1L286.8 92.8L287.0 92.5L287.2 92.3L287.4 92.0L287.6 91.7L287.8 91.4L288.0 91.2L288.2 90.9L288.4 90.6L288.6 90.4L288.8 90.1L289.0 89.8L289.2 89.6L289.4 89.3L289.6 89.0L289.8 88.8L290.0 88.5L290.1 88.2L290.3 88.0M146.6 97.9L147.0 97.0L147.4 96.0L147.8 95.0L148.1 94.1L148.5 93.1L148.9 92.2L149.3 91.2L149.7 90.3L150.1 89.4L150.5 88.5L150.9 87.6L151.3 86.7L151.7 85.8L152.1 84.9L152.5 84.1L152.9 83.2L153.3 82.4L153.7 81.6L154.2 80.8L154.6 80.0L155.0 79.2L155.4 78.5L155.8 77.8L156.2 77.0L156.7 76.3L157.1 75.7L157.5 75.0L157.9 74.4L158.4 73.8L158.8 73.2L159.2 72.6L159.6 72.0L160.1 71.5L160.5 70.9L160.9 70.4L161.4 70.0L161.8 69.5L162.2 69.0L162.7 68.6L163.1 68.2L163.6 67.8L164.0 67.4L164.5 67.0L164.9 66.7L165.3 66.3L165.8 66.0L166.2 65.7L166.7 65.4L167.1 65.1L167.6 64.9L168.0 64.6L168.5 64.4L168.9 64.2L169.4 63.9L169.8 63.7L170.3 63.6L170.7 63.4L171.2 63.2L171.6 63.1L172.1 62.9L172.6 62.8L173.0 62.7L173.5 62.6L173.9 62.4L174.4 62.4L174.9 62.3L175.3 62.2L175.8 62.1L176.2 62.1L176.7 62.0L177.2 62.0L177.6 61.9L178.1 61.9L178.5 61.8L179.0 61.8L179.5 61.8L179.9 61.8L180.4 61.8L180.9 61.8L181.3 61.8L181.8 61.8L182.3 61.8L182.7 61.8L183.2 61.9L183.7 61.9L184.1 61.9L184.6 62.0L185.1 62.0L185.5 62.1L186.0 62.1L186.5 62.2L186.9 62.2L187.4 62.3L187.9 62.3L188.4 62.4L188.8 62.4L189.3 62.5L189.8 62.6L190.2 62.7L190.7 62.7L191.2 62.8L191.7 62.9L192.1 63.0L192.6 63.1L193.1 63.1L193.6 63.2L194.0 63.3L194.5 63.4L195.0 63.5L195.5 63.6L195.9 63.7L196.4 63.8L196.9 63.9L197.4 64.0L197.8 64.1L198.3 64.2L198.8 64.3L199.3 64.4L199.8 64.5L200.2 64.6L200.7 64.7L201.2 64.8L201.7 64.9L202.2 65.0L202.6 65.1L203.1 65.3L203.6 65.4L204.1 65.5L204.6 65.6L205.0 65.7L205.5 65.8L206.0 65.9L206.5 66.1L207.0 66.2L207.5 66.3L207.9 66.4L208.4 66.5L208.9 66.6L209.4 66.8L209.9 66.9L210.4 67.0L210.9 67.1L211.3 67.2L211.8 67.4L212.3 67.5L212.8 67.6L213.3 67.7L213.8 67.8L214.3 68.0L214.8 68.1L215.2 68.2L215.7 68.3L216.2 68.5L216.7 68.6L217.2 68.7L217.7 68.8L218.2 69.0L218.7 69.1L219.2 69.2L219.7 69.3L220.1 69.5L220.6 69.6L221.1 69.7L221.6 69.9L222.1 70.0L222.6 70.1L223.1 70.2L223.6 70.4L224.1 70.5L224.6 70.6L225.1 70.8L225.6 70.9L226.1 71.0L226.6 71.1L227.1 71.3L227.6 71.4L228.1 71.5L228.6 71.7L229.1 71.8L229.6 71.9L230.1 72.1L230.6 72.2L231.1 72.3L231.6 72.4L232.1 72.6L232.6 72.7L233.1 72.8L233.6 73.0L234.1 73.1L234.6 73.2L235.1 73.4L235.6 73.5L236.1 73.6L236.6 73.8L237.1 73.9L237.6 74.0L238.1 74.2L238.6 74.3L239.1 74.4L239.6 74.6L240.1 74.7L240.6 74.8L241.1 75.0L241.6 75.1L242.1 75.2L242.6 75.4L243.2 75.5L243.7 75.6L244.2 75.8L244.7 75.9L245.2 76.0L245.7 76.2L246.2 76.3L246.7 76.4L247.2 76.6L247.7 76.7L248.3 76.8L248.8 77.0L249.3 77.1L249.8 77.2L250.3 77.4L250.8 77.5L251.3 77.6L251.8 77.8L252.4 77.9L252.9 78.1L253.4 78.2L253.9 78.3L254.4 78.5L254.9 78.6L255.4 78.7L256.0 78.9L256.5 79.0L257.0 79.1L257.5 79.3L258.0 79.4L258.6 79.6L259.1 79.7L259.6 79.8L260.1 80.0L260.6 80.1L261.2 80.2L261.7 80.4L262.2 80.5L262.7 80.7L263.2 80.8L263.8 80.9L264.3 81.1L264.8 81.2L265.3 81.3L265.9 81.5L266.4 81.6L266.9 81.8L267.4 81.9L267.9 82.0L268.5 82.2L269.0 82.3L269.5 82.5L270.1 82.6L270.6 82.7L271.1 82.9L271.6 83.0L272.2 83.2L272.7 83.3L273.2 83.4L273.7 83.6L274.3 83.7L274.8 83.9L275.3 84.0L275.9 84.1L276.4 84.3L276.9 84.4L277.5 84.6L278.0 84.7L278.5 84.8L279.1 85.0L279.6 85.1L280.1 85.3L280.7 85.4L281.2 85.5L281.7 85.7L282.3 85.8L282.8 86.0L283.3 86.1L283.9 86.2L284.4 86.4L284.9 86.5L285.5 86.7L286.0 86.8L286.6 87.0L287.1 87.1L287.6 87.2L288.2 87.4L288.7 87.5L289.3 87.7L289.8 87.8L290.3 88.0" fill="none" stroke="#222" stroke-width="0.9" stroke-linejoin="round"/>
<g stroke="#4a4a4a" stroke-width="0.7">
<line x1="54.6" y1="188.2" x2="57.3" y2="185.7" />
<line x1="218.3" y1="249.0" x2="213.8" y2="247.3" />
<line x1="68.9" y1="193.8" x2="70.2" y2="192.4" />
<line x1="226.4" y1="236.4" x2="224.1" y2="235.6" />
<line x1="83.5" y1="199.5" x2="84.8" y2="198.1" />
<line x1="234.2" y1="224.4" x2="232.0" y2="223.6" />
<line x1="98.4" y1="205.3" x2="99.7" y2="203.9" />
<line x1="241.7" y1="212.9" x2="239.5" y2="212.1" />
<line x1="113.6" y1="211.3" x2="114.9" y2="209.8" />
<line x1="248.8" y1="201.8" x2="246.6" y2="201.1" />
<line x1="129.2" y1="217.4" x2="131.7" y2="214.6" />
<line x1="255.6" y1="191.3" x2="251.5" y2="189.9" />
<line x1="145.2" y1="223.6" x2="146.4" y2="222.1" />
<line x1="262.2" y1="181.1" x2="260.1" y2="180.4" />
<line x1="161.6" y1="230.0" x2="162.8" y2="228.5" />
<line x1="268.5" y1="171.4" x2="266.4" y2="170.7" />
<line x1="178.3" y1="236.6" x2="179.5" y2="235.0" />
<line x1="274.6" y1="162.0" x2="272.5" y2="161.3" />
<line x1="195.5" y1="243.3" x2="196.6" y2="241.7" />
<line x1="280.4" y1="153.0" x2="278.4" y2="152.3" />
<line x1="213.0" y1="250.2" x2="215.1" y2="247.0" />
<line x1="286.0" y1="144.3" x2="282.2" y2="143.1" />
<line x1="51.6" y1="186.1" x2="54.3" y2="183.6" />
<line x1="51.1" y1="182.5" x2="52.5" y2="181.2" />
<line x1="50.5" y1="178.8" x2="51.9" y2="177.5" />
<line x1="49.9" y1="175.1" x2="51.3" y2="173.8" />
<line x1="49.3" y1="171.4" x2="50.7" y2="170.1" />
<line x1="48.7" y1="167.7" x2="51.5" y2="165.2" />
<line x1="48.1" y1="163.9" x2="49.5" y2="162.6" />
<line x1="47.5" y1="160.0" x2="48.9" y2="158.8" />
<line x1="46.9" y1="156.2" x2="48.3" y2="154.9" />
<line x1="46.2" y1="152.3" x2="47.7" y2="151.0" />
<line x1="45.6" y1="148.3" x2="48.5" y2="145.9" />
<line x1="45.0" y1="144.4" x2="46.5" y2="143.1" />
<line x1="44.3" y1="140.3" x2="45.8" y2="139.1" />
<line x1="43.7" y1="136.3" x2="45.2" y2="135.0" />
<line x1="43.0" y1="132.2" x2="44.6" y2="130.9" />
<line x1="42.4" y1="128.1" x2="45.3" y2="125.6" />
</g>
<text x="45.6" y="200.2" font-family="Liberation Sans, sans-serif" font-size="9.2" text-anchor="middle" fill="#4a4a4a" font-weight="normal" font-style="normal">−5</text>
<text x="125.2" y="229.4" font-family="Liberation Sans, sans-serif" font-size="9.2" text-anchor="middle" fill="#4a4a4a" font-weight="normal" font-style="normal">0</text>
<text x="209.0" y="262.2" font-family="Liberation Sans, sans-serif" font-size="9.2" text-anchor="middle" fill="#4a4a4a" font-weight="normal" font-style="normal">5</text>
<text x="225.3" y="256.0" font-family="Liberation Sans, sans-serif" font-size="9.2" text-anchor="middle" fill="#4a4a4a" font-weight="normal" font-style="normal">−5</text>
<text x="260.6" y="198.3" font-family="Liberation Sans, sans-serif" font-size="9.2" text-anchor="middle" fill="#4a4a4a" font-weight="normal" font-style="normal">0</text>
<text x="291.0" y="151.3" font-family="Liberation Sans, sans-serif" font-size="9.2" text-anchor="middle" fill="#4a4a4a" font-weight="normal" font-style="normal">5</text>
<text x="47.6" y="187.1" font-family="Liberation Sans, sans-serif" font-size="9.2" text-anchor="end" fill="#4a4a4a" font-weight="normal" font-style="normal">0</text>
<text x="44.7" y="168.7" font-family="Liberation Sans, sans-serif" font-size="9.2" text-anchor="end" fill="#4a4a4a" font-weight="normal" font-style="normal">5</text>
<text x="41.6" y="149.3" font-family="Liberation Sans, sans-serif" font-size="9.2" text-anchor="end" fill="#4a4a4a" font-weight="normal" font-style="normal">10</text>
<text x="38.4" y="129.1" font-family="Liberation Sans, sans-serif" font-size="9.2" text-anchor="end" fill="#4a4a4a" font-weight="normal" font-style="normal">15</text>
<text x="115.2" y="241.4" font-family="Liberation Sans, sans-serif" font-size="10" text-anchor="middle" fill="#000" font-weight="bold" font-style="normal">x</text>
<text x="272.6" y="203.3" font-family="Liberation Sans, sans-serif" font-size="10" text-anchor="middle" fill="#000" font-weight="bold" font-style="normal">t</text>
<text x="30.2" y="154.1" font-family="Liberation Sans, sans-serif" font-size="10" text-anchor="end" fill="#000" font-weight="bold" font-style="normal">u(x,t)</text>
</g>
<defs><linearGradient id="dr" x1="0" y1="1" x2="0" y2="0">
<stop offset="0.0000" stop-color="#3d5793"/>
<stop offset="0.1000" stop-color="#41588e"/>
<stop offset="0.2000" stop-color="#436c62"/>
<stop offset="0.3000" stop-color="#4a7a45"/>
<stop offset="0.4000" stop-color="#6a8e3e"/>
<stop offset="0.5000" stop-color="#9fac43"/>
<stop offset="0.6000" stop-color="#cfc34d"/>
<stop offset="0.7000" stop-color="#e0ba53"/>
<stop offset="0.8000" stop-color="#cf844d"/>
<stop offset="0.9000" stop-color="#ba3d3b"/>
<stop offset="1.0000" stop-color="#bb3939"/>
</linearGradient></defs>
<rect x="501" y="54.4" width="14.399999999999977" height="175.6" fill="url(#dr)"/>
<g stroke="#666" stroke-width="0.7">
<line x1="515.4" y1="230.0" x2="519.0" y2="230.0"/>
<line x1="515.4" y1="224.1" x2="517.6" y2="224.1"/>
<line x1="515.4" y1="218.2" x2="517.6" y2="218.2"/>
<line x1="515.4" y1="212.2" x2="517.6" y2="212.2"/>
<line x1="515.4" y1="206.3" x2="517.6" y2="206.3"/>
<line x1="515.4" y1="200.4" x2="519.0" y2="200.4"/>
<line x1="515.4" y1="194.5" x2="517.6" y2="194.5"/>
<line x1="515.4" y1="188.6" x2="517.6" y2="188.6"/>
<line x1="515.4" y1="182.6" x2="517.6" y2="182.6"/>
<line x1="515.4" y1="176.7" x2="517.6" y2="176.7"/>
<line x1="515.4" y1="170.8" x2="519.0" y2="170.8"/>
<line x1="515.4" y1="164.9" x2="517.6" y2="164.9"/>
<line x1="515.4" y1="159.0" x2="517.6" y2="159.0"/>
<line x1="515.4" y1="153.0" x2="517.6" y2="153.0"/>
<line x1="515.4" y1="147.1" x2="517.6" y2="147.1"/>
<line x1="515.4" y1="141.2" x2="519.0" y2="141.2"/>
<line x1="515.4" y1="135.3" x2="517.6" y2="135.3"/>
<line x1="515.4" y1="129.4" x2="517.6" y2="129.4"/>
<line x1="515.4" y1="123.4" x2="517.6" y2="123.4"/>
<line x1="515.4" y1="117.5" x2="517.6" y2="117.5"/>
<line x1="515.4" y1="111.6" x2="519.0" y2="111.6"/>
<line x1="515.4" y1="105.7" x2="517.6" y2="105.7"/>
<line x1="515.4" y1="99.8" x2="517.6" y2="99.8"/>
<line x1="515.4" y1="93.8" x2="517.6" y2="93.8"/>
<line x1="515.4" y1="87.9" x2="517.6" y2="87.9"/>
<line x1="515.4" y1="82.0" x2="519.0" y2="82.0"/>
<line x1="515.4" y1="76.1" x2="517.6" y2="76.1"/>
<line x1="515.4" y1="70.2" x2="517.6" y2="70.2"/>
<line x1="515.4" y1="64.2" x2="517.6" y2="64.2"/>
<line x1="515.4" y1="58.3" x2="517.6" y2="58.3"/>
</g>
<text transform="translate(522.6,233.2) scale(1.1086,1)" font-family="Liberation Sans, sans-serif" font-size="8.5" fill="#555">0.</text>
<text transform="translate(522.6,203.6) scale(1.1086,1)" font-family="Liberation Sans, sans-serif" font-size="8.5" fill="#555">2.5</text>
<text transform="translate(522.6,174.0) scale(1.1086,1)" font-family="Liberation Sans, sans-serif" font-size="8.5" fill="#555">5.0</text>
<text transform="translate(522.6,144.4) scale(1.1086,1)" font-family="Liberation Sans, sans-serif" font-size="8.5" fill="#555">7.5</text>
<text transform="translate(522.6,114.8) scale(1.1086,1)" font-family="Liberation Sans, sans-serif" font-size="8.5" fill="#555">10.0</text>
<text transform="translate(522.6,85.2) scale(1.1086,1)" font-family="Liberation Sans, sans-serif" font-size="8.5" fill="#555">12.5</text>
<text x="314.6" y="299.2" font-family="Liberation Serif, serif" font-size="11.3" fill="#111" stroke="#111" stroke-width="0.2">(a)</text>
<text x="332.4" y="299.2" font-family="Liberation Serif, serif" font-size="11.3" fill="#111" stroke="#111" stroke-width="0.2">3</text>
<text x="339.0" y="299.2" font-family="Liberation Serif, serif" font-size="11.3" fill="#111" stroke="#111" stroke-width="0.2"><tspan font-style="italic">D</tspan></text>
<text x="351.7" y="299.2" font-family="Liberation Serif, serif" font-size="11.3" fill="#111" stroke="#111" stroke-width="0.2">Plot</text>
<text x="114.0" y="567.2" font-family="Liberation Serif, serif" font-size="11.3" fill="#111" stroke="#111" stroke-width="0.2">(b)</text>
<text x="132.6" y="567.2" font-family="Liberation Serif, serif" font-size="11.3" fill="#111" stroke="#111" stroke-width="0.2">2</text>
<text x="139.0" y="567.2" font-family="Liberation Serif, serif" font-size="11.3" fill="#111" stroke="#111" stroke-width="0.2"><tspan font-style="italic">D</tspan></text>
<text x="151.5" y="567.2" font-family="Liberation Serif, serif" font-size="11.3" fill="#111" stroke="#111" stroke-width="0.2">plot</text>
<text x="172.4" y="567.2" font-family="Liberation Serif, serif" font-size="11.3" fill="#111" stroke="#111" stroke-width="0.2">for</text>
<text x="187.6" y="567.2" font-family="Liberation Serif, serif" font-size="11.3" fill="#111" stroke="#111" stroke-width="0.2">varying</text>
<text x="225.1" y="567.2" font-family="Liberation Serif, serif" font-size="11.3" fill="#111" stroke="#111" stroke-width="0.2">t</text>
<text x="475.3" y="567.0" font-family="Liberation Serif, serif" font-size="11.3" fill="#111" stroke="#111" stroke-width="0.2">(c)</text>
<text x="492.7" y="567.0" font-family="Liberation Serif, serif" font-size="11.3" fill="#111" stroke="#111" stroke-width="0.2">Contour</text>
<text x="533.5" y="567.0" font-family="Liberation Serif, serif" font-size="11.3" fill="#111" stroke="#111" stroke-width="0.2">Plot</text>
<rect x="15.7" y="316" width="311.1" height="242.8" fill="#f6f3ee"/>
<g stroke="#7a7a7a" stroke-width="0.6">
<line x1="16" y1="518.5" x2="313" y2="518.5"/>
<line x1="164.4" y1="526.5" x2="164.4" y2="359.6"/>
<line x1="21.8" y1="518.5" x2="21.8" y2="516.7"/>
<line x1="36.1" y1="518.5" x2="36.1" y2="516.7"/>
<line x1="50.4" y1="518.5" x2="50.4" y2="515.5"/>
<line x1="64.7" y1="518.5" x2="64.7" y2="516.7"/>
<line x1="78.9" y1="518.5" x2="78.9" y2="516.7"/>
<line x1="93.2" y1="518.5" x2="93.2" y2="516.7"/>
<line x1="107.5" y1="518.5" x2="107.5" y2="515.5"/>
<line x1="121.8" y1="518.5" x2="121.8" y2="516.7"/>
<line x1="136.0" y1="518.5" x2="136.0" y2="516.7"/>
<line x1="150.3" y1="518.5" x2="150.3" y2="516.7"/>
<line x1="178.9" y1="518.5" x2="178.9" y2="516.7"/>
<line x1="193.2" y1="518.5" x2="193.2" y2="516.7"/>
<line x1="207.4" y1="518.5" x2="207.4" y2="516.7"/>
<line x1="221.7" y1="518.5" x2="221.7" y2="515.5"/>
<line x1="236.0" y1="518.5" x2="236.0" y2="516.7"/>
<line x1="250.2" y1="518.5" x2="250.2" y2="516.7"/>
<line x1="264.5" y1="518.5" x2="264.5" y2="516.7"/>
<line x1="278.8" y1="518.5" x2="278.8" y2="515.5"/>
<line x1="293.1" y1="518.5" x2="293.1" y2="516.7"/>
<line x1="307.4" y1="518.5" x2="307.4" y2="516.7"/>
<line x1="164.6" y1="508.3" x2="166.4" y2="508.3"/>
<line x1="164.6" y1="498.0" x2="166.4" y2="498.0"/>
<line x1="164.6" y1="487.8" x2="166.4" y2="487.8"/>
<line x1="164.6" y1="477.5" x2="166.4" y2="477.5"/>
<line x1="164.6" y1="467.3" x2="167.6" y2="467.3"/>
<line x1="164.6" y1="457.1" x2="166.4" y2="457.1"/>
<line x1="164.6" y1="446.8" x2="166.4" y2="446.8"/>
<line x1="164.6" y1="436.6" x2="166.4" y2="436.6"/>
<line x1="164.6" y1="426.3" x2="166.4" y2="426.3"/>
<line x1="164.6" y1="416.1" x2="167.6" y2="416.1"/>
<line x1="164.6" y1="405.9" x2="166.4" y2="405.9"/>
<line x1="164.6" y1="395.6" x2="166.4" y2="395.6"/>
<line x1="164.6" y1="385.4" x2="166.4" y2="385.4"/>
<line x1="164.6" y1="375.1" x2="166.4" y2="375.1"/>
<line x1="164.6" y1="364.9" x2="167.6" y2="364.9"/>
</g>
<polygon points="21.8,518.5 21.8,368.2 22.6,368.2 23.3,368.2 24.0,368.2 24.7,368.2 25.4,368.2 26.1,368.2 26.8,368.2 27.6,368.2 28.3,368.2 29.0,368.2 29.7,368.2 30.4,368.3 31.1,368.3 31.8,368.3 32.6,368.3 33.3,368.3 34.0,368.3 34.7,368.3 35.4,368.3 36.1,368.3 36.8,368.4 37.6,368.4 38.3,368.4 39.0,368.4 39.7,368.4 40.4,368.4 41.1,368.4 41.8,368.5 42.5,368.5 43.3,368.5 44.0,368.5 44.7,368.5 45.4,368.5 46.1,368.6 46.8,368.6 47.5,368.6 48.3,368.6 49.0,368.6 49.7,368.7 50.4,368.7 51.1,368.7 51.8,368.7 52.5,368.8 53.3,368.8 54.0,368.8 54.7,368.9 55.4,368.9 56.1,368.9 56.8,368.9 57.5,369.0 58.3,369.0 59.0,369.1 59.7,369.1 60.4,369.1 61.1,369.2 61.8,369.2 62.5,369.2 63.2,369.3 64.0,369.3 64.7,369.4 65.4,369.4 66.1,369.5 66.8,369.5 67.5,369.6 68.2,369.6 69.0,369.7 69.7,369.8 70.4,369.8 71.1,369.9 71.8,369.9 72.5,370.0 73.2,370.1 74.0,370.1 74.7,370.2 75.4,370.3 76.1,370.4 76.8,370.5 77.5,370.5 78.2,370.6 78.9,370.7 79.7,370.8 80.4,370.9 81.1,371.0 81.8,371.1 82.5,371.2 83.2,371.3 83.9,371.4 84.7,371.5 85.4,371.7 86.1,371.8 86.8,371.9 87.5,372.1 88.2,372.2 88.9,372.3 89.7,372.5 90.4,372.6 91.1,372.8 91.8,372.9 92.5,373.1 93.2,373.3 93.9,373.5 94.7,373.6 95.4,373.8 96.1,374.0 96.8,374.2 97.5,374.4 98.2,374.7 98.9,374.9 99.6,375.1 100.4,375.3 101.1,375.6 101.8,375.8 102.5,376.1 103.2,376.4 103.9,376.6 104.6,376.9 105.4,377.2 106.1,377.5 106.8,377.9 107.5,378.2 108.2,378.5 108.9,378.9 109.6,379.2 110.4,379.6 111.1,380.0 111.8,380.4 112.5,380.8 113.2,381.2 113.9,381.6 114.6,382.0 115.4,382.5 116.1,383.0 116.8,383.5 117.5,384.0 118.2,384.5 118.9,385.0 119.6,385.5 120.3,386.1 121.1,386.7 121.8,387.3 122.5,387.9 123.2,388.5 123.9,389.2 124.6,389.9 125.3,390.5 126.1,391.3 126.8,392.0 127.5,392.7 128.2,393.5 128.9,394.3 129.6,395.1 130.3,396.0 131.1,396.8 131.8,397.7 132.5,398.6 133.2,399.6 133.9,400.5 134.6,401.5 135.3,402.5 136.0,403.5 136.8,404.6 137.5,405.7 138.2,406.8 138.9,408.0 139.6,409.1 140.3,410.3 141.0,411.6 141.8,412.8 142.5,414.1 143.2,415.5 143.9,416.8 144.6,418.2 145.3,419.6 146.0,421.1 146.8,422.6 147.5,424.1 148.2,425.6 148.9,427.2 149.6,428.8 150.3,430.4 151.0,432.1 151.8,433.8 152.5,435.6 153.2,437.3 153.9,439.1 154.6,441.0 155.3,442.8 156.0,444.7 156.7,446.7 157.5,448.6 158.2,450.6 158.9,452.7 159.6,454.7 160.3,456.8 161.0,458.9 161.7,461.0 162.5,463.2 163.2,465.4 163.9,467.6 164.6,469.9 165.3,472.1 166.0,474.4 166.7,476.8 167.5,479.1 168.2,481.5 168.9,483.8 169.6,486.2 170.3,488.6 171.0,491.1 171.7,493.5 172.5,496.0 173.2,498.4 173.9,500.9 174.6,503.4 175.3,505.9 176.0,508.4 176.7,510.9 177.4,513.5 178.2,516.0 178.9,518.5 179.6,516.0 180.3,513.5 181.0,510.9 181.7,508.4 182.4,505.9 183.2,503.4 183.9,500.9 184.6,498.4 185.3,496.0 186.0,493.5 186.7,491.1 187.4,488.6 188.2,486.2 188.9,483.8 189.6,481.5 190.3,479.1 191.0,476.8 191.7,474.4 192.4,472.1 193.2,469.9 193.9,467.6 194.6,465.4 195.3,463.2 196.0,461.0 196.7,458.9 197.4,456.8 198.1,454.7 198.9,452.7 199.6,450.6 200.3,448.6 201.0,446.7 201.7,444.7 202.4,442.8 203.1,441.0 203.9,439.1 204.6,437.3 205.3,435.6 206.0,433.8 206.7,432.1 207.4,430.4 208.1,428.8 208.9,427.2 209.6,425.6 210.3,424.1 211.0,422.6 211.7,421.1 212.4,419.6 213.1,418.2 213.8,416.8 214.6,415.5 215.3,414.1 216.0,412.8 216.7,411.6 217.4,410.3 218.1,409.1 218.8,408.0 219.6,406.8 220.3,405.7 221.0,404.6 221.7,403.5 222.4,402.5 223.1,401.5 223.8,400.5 224.6,399.6 225.3,398.6 226.0,397.7 226.7,396.8 227.4,396.0 228.1,395.1 228.8,394.3 229.6,393.5 230.3,392.7 231.0,392.0 231.7,391.3 232.4,390.5 233.1,389.9 233.8,389.2 234.5,388.5 235.3,387.9 236.0,387.3 236.7,386.7 237.4,386.1 238.1,385.5 238.8,385.0 239.5,384.5 240.3,384.0 241.0,383.5 241.7,383.0 242.4,382.5 243.1,382.0 243.8,381.6 244.5,381.2 245.3,380.8 246.0,380.4 246.7,380.0 247.4,379.6 248.1,379.2 248.8,378.9 249.5,378.5 250.2,378.2 251.0,377.9 251.7,377.5 252.4,377.2 253.1,376.9 253.8,376.6 254.5,376.4 255.2,376.1 256.0,375.8 256.7,375.6 257.4,375.3 258.1,375.1 258.8,374.9 259.5,374.7 260.2,374.4 261.0,374.2 261.7,374.0 262.4,373.8 263.1,373.6 263.8,373.5 264.5,373.3 265.2,373.1 266.0,372.9 266.7,372.8 267.4,372.6 268.1,372.5 268.8,372.3 269.5,372.2 270.2,372.1 270.9,371.9 271.7,371.8 272.4,371.7 273.1,371.5 273.8,371.4 274.5,371.3 275.2,371.2 275.9,371.1 276.7,371.0 277.4,370.9 278.1,370.8 278.8,370.7 279.5,370.6 280.2,370.5 280.9,370.5 281.7,370.4 282.4,370.3 283.1,370.2 283.8,370.1 284.5,370.1 285.2,370.0 285.9,369.9 286.7,369.9 287.4,369.8 288.1,369.8 288.8,369.7 289.5,369.6 290.2,369.6 290.9,369.5 291.6,369.5 292.4,369.4 293.1,369.4 293.8,369.3 294.5,369.3 295.2,369.2 295.9,369.2 296.6,369.2 297.4,369.1 298.1,369.1 298.8,369.1 299.5,369.0 300.2,369.0 300.9,368.9 301.6,368.9 302.4,368.9 303.1,368.9 303.8,368.8 304.5,368.8 305.2,368.8 305.9,368.7 306.6,368.7 307.4,368.7 307.4,518.5" fill="#800080" fill-opacity="0.2"/>
<path d="M21.8 368.2L22.6 368.2L23.3 368.2L24.0 368.2L24.7 368.2L25.4 368.2L26.1 368.2L26.8 368.2L27.6 368.2L28.3 368.2L29.0 368.2L29.7 368.2L30.4 368.3L31.1 368.3L31.8 368.3L32.6 368.3L33.3 368.3L34.0 368.3L34.7 368.3L35.4 368.3L36.1 368.3L36.8 368.4L37.6 368.4L38.3 368.4L39.0 368.4L39.7 368.4L40.4 368.4L41.1 368.4L41.8 368.5L42.5 368.5L43.3 368.5L44.0 368.5L44.7 368.5L45.4 368.5L46.1 368.6L46.8 368.6L47.5 368.6L48.3 368.6L49.0 368.6L49.7 368.7L50.4 368.7L51.1 368.7L51.8 368.7L52.5 368.8L53.3 368.8L54.0 368.8L54.7 368.9L55.4 368.9L56.1 368.9L56.8 368.9L57.5 369.0L58.3 369.0L59.0 369.1L59.7 369.1L60.4 369.1L61.1 369.2L61.8 369.2L62.5 369.2L63.2 369.3L64.0 369.3L64.7 369.4L65.4 369.4L66.1 369.5L66.8 369.5L67.5 369.6L68.2 369.6L69.0 369.7L69.7 369.8L70.4 369.8L71.1 369.9L71.8 369.9L72.5 370.0L73.2 370.1L74.0 370.1L74.7 370.2L75.4 370.3L76.1 370.4L76.8 370.5L77.5 370.5L78.2 370.6L78.9 370.7L79.7 370.8L80.4 370.9L81.1 371.0L81.8 371.1L82.5 371.2L83.2 371.3L83.9 371.4L84.7 371.5L85.4 371.7L86.1 371.8L86.8 371.9L87.5 372.1L88.2 372.2L88.9 372.3L89.7 372.5L90.4 372.6L91.1 372.8L91.8 372.9L92.5 373.1L93.2 373.3L93.9 373.5L94.7 373.6L95.4 373.8L96.1 374.0L96.8 374.2L97.5 374.4L98.2 374.7L98.9 374.9L99.6 375.1L100.4 375.3L101.1 375.6L101.8 375.8L102.5 376.1L103.2 376.4L103.9 376.6L104.6 376.9L105.4 377.2L106.1 377.5L106.8 377.9L107.5 378.2L108.2 378.5L108.9 378.9L109.6 379.2L110.4 379.6L111.1 380.0L111.8 380.4L112.5 380.8L113.2 381.2L113.9 381.6L114.6 382.0L115.4 382.5L116.1 383.0L116.8 383.5L117.5 384.0L118.2 384.5L118.9 385.0L119.6 385.5L120.3 386.1L121.1 386.7L121.8 387.3L122.5 387.9L123.2 388.5L123.9 389.2L124.6 389.9L125.3 390.5L126.1 391.3L126.8 392.0L127.5 392.7L128.2 393.5L128.9 394.3L129.6 395.1L130.3 396.0L131.1 396.8L131.8 397.7L132.5 398.6L133.2 399.6L133.9 400.5L134.6 401.5L135.3 402.5L136.0 403.5L136.8 404.6L137.5 405.7L138.2 406.8L138.9 408.0L139.6 409.1L140.3 410.3L141.0 411.6L141.8 412.8L142.5 414.1L143.2 415.5L143.9 416.8L144.6 418.2L145.3 419.6L146.0 421.1L146.8 422.6L147.5 424.1L148.2 425.6L148.9 427.2L149.6 428.8L150.3 430.4L151.0 432.1L151.8 433.8L152.5 435.6L153.2 437.3L153.9 439.1L154.6 441.0L155.3 442.8L156.0 444.7L156.7 446.7L157.5 448.6L158.2 450.6L158.9 452.7L159.6 454.7L160.3 456.8L161.0 458.9L161.7 461.0L162.5 463.2L163.2 465.4L163.9 467.6L164.6 469.9L165.3 472.1L166.0 474.4L166.7 476.8L167.5 479.1L168.2 481.5L168.9 483.8L169.6 486.2L170.3 488.6L171.0 491.1L171.7 493.5L172.5 496.0L173.2 498.4L173.9 500.9L174.6 503.4L175.3 505.9L176.0 508.4L176.7 510.9L177.4 513.5L178.2 516.0L178.9 518.5L179.6 516.0L180.3 513.5L181.0 510.9L181.7 508.4L182.4 505.9L183.2 503.4L183.9 500.9L184.6 498.4L185.3 496.0L186.0 493.5L186.7 491.1L187.4 488.6L188.2 486.2L188.9 483.8L189.6 481.5L190.3 479.1L191.0 476.8L191.7 474.4L192.4 472.1L193.2 469.9L193.9 467.6L194.6 465.4L195.3 463.2L196.0 461.0L196.7 458.9L197.4 456.8L198.1 454.7L198.9 452.7L199.6 450.6L200.3 448.6L201.0 446.7L201.7 444.7L202.4 442.8L203.1 441.0L203.9 439.1L204.6 437.3L205.3 435.6L206.0 433.8L206.7 432.1L207.4 430.4L208.1 428.8L208.9 427.2L209.6 425.6L210.3 424.1L211.0 422.6L211.7 421.1L212.4 419.6L213.1 418.2L213.8 416.8L214.6 415.5L215.3 414.1L216.0 412.8L216.7 411.6L217.4 410.3L218.1 409.1L218.8 408.0L219.6 406.8L220.3 405.7L221.0 404.6L221.7 403.5L222.4 402.5L223.1 401.5L223.8 400.5L224.6 399.6L225.3 398.6L226.0 397.7L226.7 396.8L227.4 396.0L228.1 395.1L228.8 394.3L229.6 393.5L230.3 392.7L231.0 392.0L231.7 391.3L232.4 390.5L233.1 389.9L233.8 389.2L234.5 388.5L235.3 387.9L236.0 387.3L236.7 386.7L237.4 386.1L238.1 385.5L238.8 385.0L239.5 384.5L240.3 384.0L241.0 383.5L241.7 383.0L242.4 382.5L243.1 382.0L243.8 381.6L244.5 381.2L245.3 380.8L246.0 380.4L246.7 380.0L247.4 379.6L248.1 379.2L248.8 378.9L249.5 378.5L250.2 378.2L251.0 377.9L251.7 377.5L252.4 377.2L253.1 376.9L253.8 376.6L254.5 376.4L255.2 376.1L256.0 375.8L256.7 375.6L257.4 375.3L258.1 375.1L258.8 374.9L259.5 374.7L260.2 374.4L261.0 374.2L261.7 374.0L262.4 373.8L263.1 373.6L263.8 373.5L264.5 373.3L265.2 373.1L266.0 372.9L266.7 372.8L267.4 372.6L268.1 372.5L268.8 372.3L269.5 372.2L270.2 372.1L270.9 371.9L271.7 371.8L272.4 371.7L273.1 371.5L273.8 371.4L274.5 371.3L275.2 371.2L275.9 371.1L276.7 371.0L277.4 370.9L278.1 370.8L278.8 370.7L279.5 370.6L280.2 370.5L280.9 370.5L281.7 370.4L282.4 370.3L283.1 370.2L283.8 370.1L284.5 370.1L285.2 370.0L285.9 369.9L286.7 369.9L287.4 369.8L288.1 369.8L288.8 369.7L289.5 369.6L290.2 369.6L290.9 369.5L291.6 369.5L292.4 369.4L293.1 369.4L293.8 369.3L294.5 369.3L295.2 369.2L295.9 369.2L296.6 369.2L297.4 369.1L298.1 369.1L298.8 369.1L299.5 369.0L300.2 369.0L300.9 368.9L301.6 368.9L302.4 368.9L303.1 368.9L303.8 368.8L304.5 368.8L305.2 368.8L305.9 368.7L306.6 368.7L307.4 368.7" fill="none" stroke="#800080" stroke-width="1.9" stroke-linejoin="round"/>
<polygon points="21.8,518.5 21.8,368.3 22.6,368.4 23.3,368.4 24.0,368.4 24.7,368.4 25.4,368.4 26.1,368.4 26.8,368.4 27.6,368.5 28.3,368.5 29.0,368.5 29.7,368.5 30.4,368.5 31.1,368.5 31.8,368.6 32.6,368.6 33.3,368.6 34.0,368.6 34.7,368.6 35.4,368.7 36.1,368.7 36.8,368.7 37.6,368.7 38.3,368.8 39.0,368.8 39.7,368.8 40.4,368.9 41.1,368.9 41.8,368.9 42.5,368.9 43.3,369.0 44.0,369.0 44.7,369.1 45.4,369.1 46.1,369.1 46.8,369.2 47.5,369.2 48.3,369.2 49.0,369.3 49.7,369.3 50.4,369.4 51.1,369.4 51.8,369.5 52.5,369.5 53.3,369.6 54.0,369.6 54.7,369.7 55.4,369.8 56.1,369.8 56.8,369.9 57.5,369.9 58.3,370.0 59.0,370.1 59.7,370.1 60.4,370.2 61.1,370.3 61.8,370.4 62.5,370.5 63.2,370.5 64.0,370.6 64.7,370.7 65.4,370.8 66.1,370.9 66.8,371.0 67.5,371.1 68.2,371.2 69.0,371.3 69.7,371.4 70.4,371.5 71.1,371.7 71.8,371.8 72.5,371.9 73.2,372.1 74.0,372.2 74.7,372.3 75.4,372.5 76.1,372.6 76.8,372.8 77.5,372.9 78.2,373.1 78.9,373.3 79.7,373.5 80.4,373.6 81.1,373.8 81.8,374.0 82.5,374.2 83.2,374.4 83.9,374.7 84.7,374.9 85.4,375.1 86.1,375.3 86.8,375.6 87.5,375.8 88.2,376.1 88.9,376.4 89.7,376.6 90.4,376.9 91.1,377.2 91.8,377.5 92.5,377.9 93.2,378.2 93.9,378.5 94.7,378.9 95.4,379.2 96.1,379.6 96.8,380.0 97.5,380.4 98.2,380.8 98.9,381.2 99.6,381.6 100.4,382.0 101.1,382.5 101.8,383.0 102.5,383.5 103.2,384.0 103.9,384.5 104.6,385.0 105.4,385.5 106.1,386.1 106.8,386.7 107.5,387.3 108.2,387.9 108.9,388.5 109.6,389.2 110.4,389.9 111.1,390.5 111.8,391.3 112.5,392.0 113.2,392.7 113.9,393.5 114.6,394.3 115.4,395.1 116.1,396.0 116.8,396.8 117.5,397.7 118.2,398.6 118.9,399.6 119.6,400.5 120.3,401.5 121.1,402.5 121.8,403.5 122.5,404.6 123.2,405.7 123.9,406.8 124.6,408.0 125.3,409.1 126.1,410.3 126.8,411.6 127.5,412.8 128.2,414.1 128.9,415.5 129.6,416.8 130.3,418.2 131.1,419.6 131.8,421.1 132.5,422.6 133.2,424.1 133.9,425.6 134.6,427.2 135.3,428.8 136.0,430.4 136.8,432.1 137.5,433.8 138.2,435.6 138.9,437.3 139.6,439.1 140.3,441.0 141.0,442.8 141.8,444.7 142.5,446.7 143.2,448.6 143.9,450.6 144.6,452.7 145.3,454.7 146.0,456.8 146.8,458.9 147.5,461.0 148.2,463.2 148.9,465.4 149.6,467.6 150.3,469.9 151.0,472.1 151.8,474.4 152.5,476.8 153.2,479.1 153.9,481.5 154.6,483.8 155.3,486.2 156.0,488.6 156.7,491.1 157.5,493.5 158.2,496.0 158.9,498.4 159.6,500.9 160.3,503.4 161.0,505.9 161.7,508.4 162.5,510.9 163.2,513.5 163.9,516.0 164.6,518.5 165.3,516.0 166.0,513.5 166.7,510.9 167.5,508.4 168.2,505.9 168.9,503.4 169.6,500.9 170.3,498.4 171.0,496.0 171.7,493.5 172.5,491.1 173.2,488.6 173.9,486.2 174.6,483.8 175.3,481.5 176.0,479.1 176.7,476.8 177.4,474.4 178.2,472.1 178.9,469.9 179.6,467.6 180.3,465.4 181.0,463.2 181.7,461.0 182.4,458.9 183.2,456.8 183.9,454.7 184.6,452.7 185.3,450.6 186.0,448.6 186.7,446.7 187.4,444.7 188.2,442.8 188.9,441.0 189.6,439.1 190.3,437.3 191.0,435.6 191.7,433.8 192.4,432.1 193.2,430.4 193.9,428.8 194.6,427.2 195.3,425.6 196.0,424.1 196.7,422.6 197.4,421.1 198.1,419.6 198.9,418.2 199.6,416.8 200.3,415.5 201.0,414.1 201.7,412.8 202.4,411.6 203.1,410.3 203.9,409.1 204.6,408.0 205.3,406.8 206.0,405.7 206.7,404.6 207.4,403.5 208.1,402.5 208.9,401.5 209.6,400.5 210.3,399.6 211.0,398.6 211.7,397.7 212.4,396.8 213.1,396.0 213.8,395.1 214.6,394.3 215.3,393.5 216.0,392.7 216.7,392.0 217.4,391.3 218.1,390.5 218.8,389.9 219.6,389.2 220.3,388.5 221.0,387.9 221.7,387.3 222.4,386.7 223.1,386.1 223.8,385.5 224.6,385.0 225.3,384.5 226.0,384.0 226.7,383.5 227.4,383.0 228.1,382.5 228.8,382.0 229.6,381.6 230.3,381.2 231.0,380.8 231.7,380.4 232.4,380.0 233.1,379.6 233.8,379.2 234.5,378.9 235.3,378.5 236.0,378.2 236.7,377.9 237.4,377.5 238.1,377.2 238.8,376.9 239.5,376.6 240.3,376.4 241.0,376.1 241.7,375.8 242.4,375.6 243.1,375.3 243.8,375.1 244.5,374.9 245.3,374.7 246.0,374.4 246.7,374.2 247.4,374.0 248.1,373.8 248.8,373.6 249.5,373.5 250.2,373.3 251.0,373.1 251.7,372.9 252.4,372.8 253.1,372.6 253.8,372.5 254.5,372.3 255.2,372.2 256.0,372.1 256.7,371.9 257.4,371.8 258.1,371.7 258.8,371.5 259.5,371.4 260.2,371.3 261.0,371.2 261.7,371.1 262.4,371.0 263.1,370.9 263.8,370.8 264.5,370.7 265.2,370.6 266.0,370.5 266.7,370.5 267.4,370.4 268.1,370.3 268.8,370.2 269.5,370.1 270.2,370.1 270.9,370.0 271.7,369.9 272.4,369.9 273.1,369.8 273.8,369.8 274.5,369.7 275.2,369.6 275.9,369.6 276.7,369.5 277.4,369.5 278.1,369.4 278.8,369.4 279.5,369.3 280.2,369.3 280.9,369.2 281.7,369.2 282.4,369.2 283.1,369.1 283.8,369.1 284.5,369.1 285.2,369.0 285.9,369.0 286.7,368.9 287.4,368.9 288.1,368.9 288.8,368.9 289.5,368.8 290.2,368.8 290.9,368.8 291.6,368.7 292.4,368.7 293.1,368.7 293.8,368.7 294.5,368.6 295.2,368.6 295.9,368.6 296.6,368.6 297.4,368.6 298.1,368.5 298.8,368.5 299.5,368.5 300.2,368.5 300.9,368.5 301.6,368.5 302.4,368.4 303.1,368.4 303.8,368.4 304.5,368.4 305.2,368.4 305.9,368.4 306.6,368.4 307.4,368.3 307.4,518.5" fill="#ff0000" fill-opacity="0.2"/>
<path d="M21.8 368.3L22.6 368.4L23.3 368.4L24.0 368.4L24.7 368.4L25.4 368.4L26.1 368.4L26.8 368.4L27.6 368.5L28.3 368.5L29.0 368.5L29.7 368.5L30.4 368.5L31.1 368.5L31.8 368.6L32.6 368.6L33.3 368.6L34.0 368.6L34.7 368.6L35.4 368.7L36.1 368.7L36.8 368.7L37.6 368.7L38.3 368.8L39.0 368.8L39.7 368.8L40.4 368.9L41.1 368.9L41.8 368.9L42.5 368.9L43.3 369.0L44.0 369.0L44.7 369.1L45.4 369.1L46.1 369.1L46.8 369.2L47.5 369.2L48.3 369.2L49.0 369.3L49.7 369.3L50.4 369.4L51.1 369.4L51.8 369.5L52.5 369.5L53.3 369.6L54.0 369.6L54.7 369.7L55.4 369.8L56.1 369.8L56.8 369.9L57.5 369.9L58.3 370.0L59.0 370.1L59.7 370.1L60.4 370.2L61.1 370.3L61.8 370.4L62.5 370.5L63.2 370.5L64.0 370.6L64.7 370.7L65.4 370.8L66.1 370.9L66.8 371.0L67.5 371.1L68.2 371.2L69.0 371.3L69.7 371.4L70.4 371.5L71.1 371.7L71.8 371.8L72.5 371.9L73.2 372.1L74.0 372.2L74.7 372.3L75.4 372.5L76.1 372.6L76.8 372.8L77.5 372.9L78.2 373.1L78.9 373.3L79.7 373.5L80.4 373.6L81.1 373.8L81.8 374.0L82.5 374.2L83.2 374.4L83.9 374.7L84.7 374.9L85.4 375.1L86.1 375.3L86.8 375.6L87.5 375.8L88.2 376.1L88.9 376.4L89.7 376.6L90.4 376.9L91.1 377.2L91.8 377.5L92.5 377.9L93.2 378.2L93.9 378.5L94.7 378.9L95.4 379.2L96.1 379.6L96.8 380.0L97.5 380.4L98.2 380.8L98.9 381.2L99.6 381.6L100.4 382.0L101.1 382.5L101.8 383.0L102.5 383.5L103.2 384.0L103.9 384.5L104.6 385.0L105.4 385.5L106.1 386.1L106.8 386.7L107.5 387.3L108.2 387.9L108.9 388.5L109.6 389.2L110.4 389.9L111.1 390.5L111.8 391.3L112.5 392.0L113.2 392.7L113.9 393.5L114.6 394.3L115.4 395.1L116.1 396.0L116.8 396.8L117.5 397.7L118.2 398.6L118.9 399.6L119.6 400.5L120.3 401.5L121.1 402.5L121.8 403.5L122.5 404.6L123.2 405.7L123.9 406.8L124.6 408.0L125.3 409.1L126.1 410.3L126.8 411.6L127.5 412.8L128.2 414.1L128.9 415.5L129.6 416.8L130.3 418.2L131.1 419.6L131.8 421.1L132.5 422.6L133.2 424.1L133.9 425.6L134.6 427.2L135.3 428.8L136.0 430.4L136.8 432.1L137.5 433.8L138.2 435.6L138.9 437.3L139.6 439.1L140.3 441.0L141.0 442.8L141.8 444.7L142.5 446.7L143.2 448.6L143.9 450.6L144.6 452.7L145.3 454.7L146.0 456.8L146.8 458.9L147.5 461.0L148.2 463.2L148.9 465.4L149.6 467.6L150.3 469.9L151.0 472.1L151.8 474.4L152.5 476.8L153.2 479.1L153.9 481.5L154.6 483.8L155.3 486.2L156.0 488.6L156.7 491.1L157.5 493.5L158.2 496.0L158.9 498.4L159.6 500.9L160.3 503.4L161.0 505.9L161.7 508.4L162.5 510.9L163.2 513.5L163.9 516.0L164.6 518.5L165.3 516.0L166.0 513.5L166.7 510.9L167.5 508.4L168.2 505.9L168.9 503.4L169.6 500.9L170.3 498.4L171.0 496.0L171.7 493.5L172.5 491.1L173.2 488.6L173.9 486.2L174.6 483.8L175.3 481.5L176.0 479.1L176.7 476.8L177.4 474.4L178.2 472.1L178.9 469.9L179.6 467.6L180.3 465.4L181.0 463.2L181.7 461.0L182.4 458.9L183.2 456.8L183.9 454.7L184.6 452.7L185.3 450.6L186.0 448.6L186.7 446.7L187.4 444.7L188.2 442.8L188.9 441.0L189.6 439.1L190.3 437.3L191.0 435.6L191.7 433.8L192.4 432.1L193.2 430.4L193.9 428.8L194.6 427.2L195.3 425.6L196.0 424.1L196.7 422.6L197.4 421.1L198.1 419.6L198.9 418.2L199.6 416.8L200.3 415.5L201.0 414.1L201.7 412.8L202.4 411.6L203.1 410.3L203.9 409.1L204.6 408.0L205.3 406.8L206.0 405.7L206.7 404.6L207.4 403.5L208.1 402.5L208.9 401.5L209.6 400.5L210.3 399.6L211.0 398.6L211.7 397.7L212.4 396.8L213.1 396.0L213.8 395.1L214.6 394.3L215.3 393.5L216.0 392.7L216.7 392.0L217.4 391.3L218.1 390.5L218.8 389.9L219.6 389.2L220.3 388.5L221.0 387.9L221.7 387.3L222.4 386.7L223.1 386.1L223.8 385.5L224.6 385.0L225.3 384.5L226.0 384.0L226.7 383.5L227.4 383.0L228.1 382.5L228.8 382.0L229.6 381.6L230.3 381.2L231.0 380.8L231.7 380.4L232.4 380.0L233.1 379.6L233.8 379.2L234.5 378.9L235.3 378.5L236.0 378.2L236.7 377.9L237.4 377.5L238.1 377.2L238.8 376.9L239.5 376.6L240.3 376.4L241.0 376.1L241.7 375.8L242.4 375.6L243.1 375.3L243.8 375.1L244.5 374.9L245.3 374.7L246.0 374.4L246.7 374.2L247.4 374.0L248.1 373.8L248.8 373.6L249.5 373.5L250.2 373.3L251.0 373.1L251.7 372.9L252.4 372.8L253.1 372.6L253.8 372.5L254.5 372.3L255.2 372.2L256.0 372.1L256.7 371.9L257.4 371.8L258.1 371.7L258.8 371.5L259.5 371.4L260.2 371.3L261.0 371.2L261.7 371.1L262.4 371.0L263.1 370.9L263.8 370.8L264.5 370.7L265.2 370.6L266.0 370.5L266.7 370.5L267.4 370.4L268.1 370.3L268.8 370.2L269.5 370.1L270.2 370.1L270.9 370.0L271.7 369.9L272.4 369.9L273.1 369.8L273.8 369.8L274.5 369.7L275.2 369.6L275.9 369.6L276.7 369.5L277.4 369.5L278.1 369.4L278.8 369.4L279.5 369.3L280.2 369.3L280.9 369.2L281.7 369.2L282.4 369.2L283.1 369.1L283.8 369.1L284.5 369.1L285.2 369.0L285.9 369.0L286.7 368.9L287.4 368.9L288.1 368.9L288.8 368.9L289.5 368.8L290.2 368.8L290.9 368.8L291.6 368.7L292.4 368.7L293.1 368.7L293.8 368.7L294.5 368.6L295.2 368.6L295.9 368.6L296.6 368.6L297.4 368.6L298.1 368.5L298.8 368.5L299.5 368.5L300.2 368.5L300.9 368.5L301.6 368.5L302.4 368.4L303.1 368.4L303.8 368.4L304.5 368.4L305.2 368.4L305.9 368.4L306.6 368.4L307.4 368.3" fill="none" stroke="#f5001a" stroke-width="1.9" stroke-linejoin="round"/>
<polygon points="21.8,518.5 21.8,368.7 22.6,368.7 23.3,368.7 24.0,368.8 24.7,368.8 25.4,368.8 26.1,368.9 26.8,368.9 27.6,368.9 28.3,368.9 29.0,369.0 29.7,369.0 30.4,369.1 31.1,369.1 31.8,369.1 32.6,369.2 33.3,369.2 34.0,369.2 34.7,369.3 35.4,369.3 36.1,369.4 36.8,369.4 37.6,369.5 38.3,369.5 39.0,369.6 39.7,369.6 40.4,369.7 41.1,369.8 41.8,369.8 42.5,369.9 43.3,369.9 44.0,370.0 44.7,370.1 45.4,370.1 46.1,370.2 46.8,370.3 47.5,370.4 48.3,370.5 49.0,370.5 49.7,370.6 50.4,370.7 51.1,370.8 51.8,370.9 52.5,371.0 53.3,371.1 54.0,371.2 54.7,371.3 55.4,371.4 56.1,371.5 56.8,371.7 57.5,371.8 58.3,371.9 59.0,372.1 59.7,372.2 60.4,372.3 61.1,372.5 61.8,372.6 62.5,372.8 63.2,372.9 64.0,373.1 64.7,373.3 65.4,373.5 66.1,373.6 66.8,373.8 67.5,374.0 68.2,374.2 69.0,374.4 69.7,374.7 70.4,374.9 71.1,375.1 71.8,375.3 72.5,375.6 73.2,375.8 74.0,376.1 74.7,376.4 75.4,376.6 76.1,376.9 76.8,377.2 77.5,377.5 78.2,377.9 78.9,378.2 79.7,378.5 80.4,378.9 81.1,379.2 81.8,379.6 82.5,380.0 83.2,380.4 83.9,380.8 84.7,381.2 85.4,381.6 86.1,382.0 86.8,382.5 87.5,383.0 88.2,383.5 88.9,384.0 89.7,384.5 90.4,385.0 91.1,385.5 91.8,386.1 92.5,386.7 93.2,387.3 93.9,387.9 94.7,388.5 95.4,389.2 96.1,389.9 96.8,390.5 97.5,391.3 98.2,392.0 98.9,392.7 99.6,393.5 100.4,394.3 101.1,395.1 101.8,396.0 102.5,396.8 103.2,397.7 103.9,398.6 104.6,399.6 105.4,400.5 106.1,401.5 106.8,402.5 107.5,403.5 108.2,404.6 108.9,405.7 109.6,406.8 110.4,408.0 111.1,409.1 111.8,410.3 112.5,411.6 113.2,412.8 113.9,414.1 114.6,415.5 115.4,416.8 116.1,418.2 116.8,419.6 117.5,421.1 118.2,422.6 118.9,424.1 119.6,425.6 120.3,427.2 121.1,428.8 121.8,430.4 122.5,432.1 123.2,433.8 123.9,435.6 124.6,437.3 125.3,439.1 126.1,441.0 126.8,442.8 127.5,444.7 128.2,446.7 128.9,448.6 129.6,450.6 130.3,452.7 131.1,454.7 131.8,456.8 132.5,458.9 133.2,461.0 133.9,463.2 134.6,465.4 135.3,467.6 136.0,469.9 136.8,472.1 137.5,474.4 138.2,476.8 138.9,479.1 139.6,481.5 140.3,483.8 141.0,486.2 141.8,488.6 142.5,491.1 143.2,493.5 143.9,496.0 144.6,498.4 145.3,500.9 146.0,503.4 146.8,505.9 147.5,508.4 148.2,510.9 148.9,513.5 149.6,516.0 150.3,518.5 151.0,516.0 151.8,513.5 152.5,510.9 153.2,508.4 153.9,505.9 154.6,503.4 155.3,500.9 156.0,498.4 156.7,496.0 157.5,493.5 158.2,491.1 158.9,488.6 159.6,486.2 160.3,483.8 161.0,481.5 161.7,479.1 162.5,476.8 163.2,474.4 163.9,472.1 164.6,469.9 165.3,467.6 166.0,465.4 166.7,463.2 167.5,461.0 168.2,458.9 168.9,456.8 169.6,454.7 170.3,452.7 171.0,450.6 171.7,448.6 172.5,446.7 173.2,444.7 173.9,442.8 174.6,441.0 175.3,439.1 176.0,437.3 176.7,435.6 177.4,433.8 178.2,432.1 178.9,430.4 179.6,428.8 180.3,427.2 181.0,425.6 181.7,424.1 182.4,422.6 183.2,421.1 183.9,419.6 184.6,418.2 185.3,416.8 186.0,415.5 186.7,414.1 187.4,412.8 188.2,411.6 188.9,410.3 189.6,409.1 190.3,408.0 191.0,406.8 191.7,405.7 192.4,404.6 193.2,403.5 193.9,402.5 194.6,401.5 195.3,400.5 196.0,399.6 196.7,398.6 197.4,397.7 198.1,396.8 198.9,396.0 199.6,395.1 200.3,394.3 201.0,393.5 201.7,392.7 202.4,392.0 203.1,391.3 203.9,390.5 204.6,389.9 205.3,389.2 206.0,388.5 206.7,387.9 207.4,387.3 208.1,386.7 208.9,386.1 209.6,385.5 210.3,385.0 211.0,384.5 211.7,384.0 212.4,383.5 213.1,383.0 213.8,382.5 214.6,382.0 215.3,381.6 216.0,381.2 216.7,380.8 217.4,380.4 218.1,380.0 218.8,379.6 219.6,379.2 220.3,378.9 221.0,378.5 221.7,378.2 222.4,377.9 223.1,377.5 223.8,377.2 224.6,376.9 225.3,376.6 226.0,376.4 226.7,376.1 227.4,375.8 228.1,375.6 228.8,375.3 229.6,375.1 230.3,374.9 231.0,374.7 231.7,374.4 232.4,374.2 233.1,374.0 233.8,373.8 234.5,373.6 235.3,373.5 236.0,373.3 236.7,373.1 237.4,372.9 238.1,372.8 238.8,372.6 239.5,372.5 240.3,372.3 241.0,372.2 241.7,372.1 242.4,371.9 243.1,371.8 243.8,371.7 244.5,371.5 245.3,371.4 246.0,371.3 246.7,371.2 247.4,371.1 248.1,371.0 248.8,370.9 249.5,370.8 250.2,370.7 251.0,370.6 251.7,370.5 252.4,370.5 253.1,370.4 253.8,370.3 254.5,370.2 255.2,370.1 256.0,370.1 256.7,370.0 257.4,369.9 258.1,369.9 258.8,369.8 259.5,369.8 260.2,369.7 261.0,369.6 261.7,369.6 262.4,369.5 263.1,369.5 263.8,369.4 264.5,369.4 265.2,369.3 266.0,369.3 266.7,369.2 267.4,369.2 268.1,369.2 268.8,369.1 269.5,369.1 270.2,369.1 270.9,369.0 271.7,369.0 272.4,368.9 273.1,368.9 273.8,368.9 274.5,368.9 275.2,368.8 275.9,368.8 276.7,368.8 277.4,368.7 278.1,368.7 278.8,368.7 279.5,368.7 280.2,368.6 280.9,368.6 281.7,368.6 282.4,368.6 283.1,368.6 283.8,368.5 284.5,368.5 285.2,368.5 285.9,368.5 286.7,368.5 287.4,368.5 288.1,368.4 288.8,368.4 289.5,368.4 290.2,368.4 290.9,368.4 291.6,368.4 292.4,368.4 293.1,368.3 293.8,368.3 294.5,368.3 295.2,368.3 295.9,368.3 296.6,368.3 297.4,368.3 298.1,368.3 298.8,368.3 299.5,368.2 300.2,368.2 300.9,368.2 301.6,368.2 302.4,368.2 303.1,368.2 303.8,368.2 304.5,368.2 305.2,368.2 305.9,368.2 306.6,368.2 307.4,368.2 307.4,518.5" fill="#00ff00" fill-opacity="0.2"/>
<path d="M21.8 368.7L22.6 368.7L23.3 368.7L24.0 368.8L24.7 368.8L25.4 368.8L26.1 368.9L26.8 368.9L27.6 368.9L28.3 368.9L29.0 369.0L29.7 369.0L30.4 369.1L31.1 369.1L31.8 369.1L32.6 369.2L33.3 369.2L34.0 369.2L34.7 369.3L35.4 369.3L36.1 369.4L36.8 369.4L37.6 369.5L38.3 369.5L39.0 369.6L39.7 369.6L40.4 369.7L41.1 369.8L41.8 369.8L42.5 369.9L43.3 369.9L44.0 370.0L44.7 370.1L45.4 370.1L46.1 370.2L46.8 370.3L47.5 370.4L48.3 370.5L49.0 370.5L49.7 370.6L50.4 370.7L51.1 370.8L51.8 370.9L52.5 371.0L53.3 371.1L54.0 371.2L54.7 371.3L55.4 371.4L56.1 371.5L56.8 371.7L57.5 371.8L58.3 371.9L59.0 372.1L59.7 372.2L60.4 372.3L61.1 372.5L61.8 372.6L62.5 372.8L63.2 372.9L64.0 373.1L64.7 373.3L65.4 373.5L66.1 373.6L66.8 373.8L67.5 374.0L68.2 374.2L69.0 374.4L69.7 374.7L70.4 374.9L71.1 375.1L71.8 375.3L72.5 375.6L73.2 375.8L74.0 376.1L74.7 376.4L75.4 376.6L76.1 376.9L76.8 377.2L77.5 377.5L78.2 377.9L78.9 378.2L79.7 378.5L80.4 378.9L81.1 379.2L81.8 379.6L82.5 380.0L83.2 380.4L83.9 380.8L84.7 381.2L85.4 381.6L86.1 382.0L86.8 382.5L87.5 383.0L88.2 383.5L88.9 384.0L89.7 384.5L90.4 385.0L91.1 385.5L91.8 386.1L92.5 386.7L93.2 387.3L93.9 387.9L94.7 388.5L95.4 389.2L96.1 389.9L96.8 390.5L97.5 391.3L98.2 392.0L98.9 392.7L99.6 393.5L100.4 394.3L101.1 395.1L101.8 396.0L102.5 396.8L103.2 397.7L103.9 398.6L104.6 399.6L105.4 400.5L106.1 401.5L106.8 402.5L107.5 403.5L108.2 404.6L108.9 405.7L109.6 406.8L110.4 408.0L111.1 409.1L111.8 410.3L112.5 411.6L113.2 412.8L113.9 414.1L114.6 415.5L115.4 416.8L116.1 418.2L116.8 419.6L117.5 421.1L118.2 422.6L118.9 424.1L119.6 425.6L120.3 427.2L121.1 428.8L121.8 430.4L122.5 432.1L123.2 433.8L123.9 435.6L124.6 437.3L125.3 439.1L126.1 441.0L126.8 442.8L127.5 444.7L128.2 446.7L128.9 448.6L129.6 450.6L130.3 452.7L131.1 454.7L131.8 456.8L132.5 458.9L133.2 461.0L133.9 463.2L134.6 465.4L135.3 467.6L136.0 469.9L136.8 472.1L137.5 474.4L138.2 476.8L138.9 479.1L139.6 481.5L140.3 483.8L141.0 486.2L141.8 488.6L142.5 491.1L143.2 493.5L143.9 496.0L144.6 498.4L145.3 500.9L146.0 503.4L146.8 505.9L147.5 508.4L148.2 510.9L148.9 513.5L149.6 516.0L150.3 518.5L151.0 516.0L151.8 513.5L152.5 510.9L153.2 508.4L153.9 505.9L154.6 503.4L155.3 500.9L156.0 498.4L156.7 496.0L157.5 493.5L158.2 491.1L158.9 488.6L159.6 486.2L160.3 483.8L161.0 481.5L161.7 479.1L162.5 476.8L163.2 474.4L163.9 472.1L164.6 469.9L165.3 467.6L166.0 465.4L166.7 463.2L167.5 461.0L168.2 458.9L168.9 456.8L169.6 454.7L170.3 452.7L171.0 450.6L171.7 448.6L172.5 446.7L173.2 444.7L173.9 442.8L174.6 441.0L175.3 439.1L176.0 437.3L176.7 435.6L177.4 433.8L178.2 432.1L178.9 430.4L179.6 428.8L180.3 427.2L181.0 425.6L181.7 424.1L182.4 422.6L183.2 421.1L183.9 419.6L184.6 418.2L185.3 416.8L186.0 415.5L186.7 414.1L187.4 412.8L188.2 411.6L188.9 410.3L189.6 409.1L190.3 408.0L191.0 406.8L191.7 405.7L192.4 404.6L193.2 403.5L193.9 402.5L194.6 401.5L195.3 400.5L196.0 399.6L196.7 398.6L197.4 397.7L198.1 396.8L198.9 396.0L199.6 395.1L200.3 394.3L201.0 393.5L201.7 392.7L202.4 392.0L203.1 391.3L203.9 390.5L204.6 389.9L205.3 389.2L206.0 388.5L206.7 387.9L207.4 387.3L208.1 386.7L208.9 386.1L209.6 385.5L210.3 385.0L211.0 384.5L211.7 384.0L212.4 383.5L213.1 383.0L213.8 382.5L214.6 382.0L215.3 381.6L216.0 381.2L216.7 380.8L217.4 380.4L218.1 380.0L218.8 379.6L219.6 379.2L220.3 378.9L221.0 378.5L221.7 378.2L222.4 377.9L223.1 377.5L223.8 377.2L224.6 376.9L225.3 376.6L226.0 376.4L226.7 376.1L227.4 375.8L228.1 375.6L228.8 375.3L229.6 375.1L230.3 374.9L231.0 374.7L231.7 374.4L232.4 374.2L233.1 374.0L233.8 373.8L234.5 373.6L235.3 373.5L236.0 373.3L236.7 373.1L237.4 372.9L238.1 372.8L238.8 372.6L239.5 372.5L240.3 372.3L241.0 372.2L241.7 372.1L242.4 371.9L243.1 371.8L243.8 371.7L244.5 371.5L245.3 371.4L246.0 371.3L246.7 371.2L247.4 371.1L248.1 371.0L248.8 370.9L249.5 370.8L250.2 370.7L251.0 370.6L251.7 370.5L252.4 370.5L253.1 370.4L253.8 370.3L254.5 370.2L255.2 370.1L256.0 370.1L256.7 370.0L257.4 369.9L258.1 369.9L258.8 369.8L259.5 369.8L260.2 369.7L261.0 369.6L261.7 369.6L262.4 369.5L263.1 369.5L263.8 369.4L264.5 369.4L265.2 369.3L266.0 369.3L266.7 369.2L267.4 369.2L268.1 369.2L268.8 369.1L269.5 369.1L270.2 369.1L270.9 369.0L271.7 369.0L272.4 368.9L273.1 368.9L273.8 368.9L274.5 368.9L275.2 368.8L275.9 368.8L276.7 368.8L277.4 368.7L278.1 368.7L278.8 368.7L279.5 368.7L280.2 368.6L280.9 368.6L281.7 368.6L282.4 368.6L283.1 368.6L283.8 368.5L284.5 368.5L285.2 368.5L285.9 368.5L286.7 368.5L287.4 368.5L288.1 368.4L288.8 368.4L289.5 368.4L290.2 368.4L290.9 368.4L291.6 368.4L292.4 368.4L293.1 368.3L293.8 368.3L294.5 368.3L295.2 368.3L295.9 368.3L296.6 368.3L297.4 368.3L298.1 368.3L298.8 368.3L299.5 368.2L300.2 368.2L300.9 368.2L301.6 368.2L302.4 368.2L303.1 368.2L303.8 368.2L304.5 368.2L305.2 368.2L305.9 368.2L306.6 368.2L307.4 368.2" fill="none" stroke="#00ff00" stroke-width="1.9" stroke-linejoin="round"/>
<text x="50.4" y="528.4" font-family="Liberation Sans, sans-serif" font-size="8.6" text-anchor="middle" fill="#111" font-weight="normal" font-style="normal">−4</text>
<text x="107.5" y="528.4" font-family="Liberation Sans, sans-serif" font-size="8.6" text-anchor="middle" fill="#111" font-weight="normal" font-style="normal">−2</text>
<text x="221.7" y="528.4" font-family="Liberation Sans, sans-serif" font-size="8.6" text-anchor="middle" fill="#111" font-weight="normal" font-style="normal">2</text>
<text x="278.8" y="528.4" font-family="Liberation Sans, sans-serif" font-size="8.6" text-anchor="middle" fill="#111" font-weight="normal" font-style="normal">4</text>
<text x="161.8" y="470.4" font-family="Liberation Sans, sans-serif" font-size="8.6" text-anchor="end" fill="#111" font-weight="normal" font-style="normal">5</text>
<text x="161.8" y="419.2" font-family="Liberation Sans, sans-serif" font-size="8.6" text-anchor="end" fill="#111" font-weight="normal" font-style="normal">10</text>
<text x="161.8" y="368.0" font-family="Liberation Sans, sans-serif" font-size="8.6" text-anchor="end" fill="#111" font-weight="normal" font-style="normal">15</text>
<text x="164.4" y="353.0" font-family="Liberation Sans, sans-serif" font-size="10" text-anchor="middle" fill="#000" font-weight="bold" font-style="normal">t</text>
<text x="323.0" y="521.6" font-family="Liberation Sans, sans-serif" font-size="10" text-anchor="middle" fill="#000" font-weight="bold" font-style="normal">x</text>
<rect x="246" y="417.6" width="62" height="58.4" fill="#f6f3ee"/>
<line x1="251" y1="427.0" x2="270" y2="427.0" stroke="#800080" stroke-width="1.5"/>
<text x="276.6" y="431.8" font-family="Liberation Sans, sans-serif" font-size="10" text-anchor="start" fill="#000" font-weight="normal" font-style="normal">t=−0.5</text>
<line x1="251" y1="446.2" x2="270" y2="446.2" stroke="#ff0000" stroke-width="1.5"/>
<text x="276.6" y="451.0" font-family="Liberation Sans, sans-serif" font-size="10" text-anchor="start" fill="#000" font-weight="normal" font-style="normal">t=0</text>
<line x1="251" y1="465.4" x2="270" y2="465.4" stroke="#00ff00" stroke-width="1.5"/>
<text x="276.6" y="470.2" font-family="Liberation Sans, sans-serif" font-size="10" text-anchor="start" fill="#000" font-weight="normal" font-style="normal">t=0.5</text>
<rect x="362.4" y="319" width="263.6" height="235" fill="#fdf0e1"/>
<clipPath id="cc"><rect x="413.8" y="323.5" width="188.59999999999997" height="196.5"/></clipPath>
<g clip-path="url(#cc)">
<rect x="413.8" y="323.5" width="188.59999999999997" height="196.5" fill="#fd8330"/>
<polygon points="35.8,-97.4 1027.3,884.7 980.4,946.8 -11.1,-49.1" fill="#fc8045"/>
<polygon points="-37.3,-157.5 1082.2,964.9 1047.5,1004.6 -61.5,-126.1" fill="#fd8468"/>
<polygon points="-74.3,-192.9 1109.9,1012.0 1091.3,1038.2 -94.3,-170.9" fill="#fb8686"/>
<polygon points="-94.7,-211.8 1125.2,1037.2 1112.4,1058.2 -110.1,-197.6" fill="#df6486"/>
<polygon points="-109.0,-226.5 1135.9,1056.8 1126.7,1073.0 -120.9,-217.3" fill="#c4478a"/>
<polygon points="-123.0,-238.9 1146.4,1073.3 1139.9,1085.3 -130.8,-233.8" fill="#a0288a"/>
<polygon points="-136.2,-251.3 1156.3,1089.8 1152.4,1096.8 -140.1,-249.1" fill="#7a0082"/>
<g stroke="#2a1a2a" stroke-opacity="0.8" stroke-width="0.8">
<line x1="-136.2" y1="-251.3" x2="1156.3" y2="1089.8"/>
<line x1="-140.1" y1="-249.1" x2="1152.4" y2="1096.8"/>
<line x1="-123.0" y1="-238.9" x2="1146.4" y2="1073.3"/>
<line x1="-130.8" y1="-233.8" x2="1139.9" y2="1085.3"/>
<line x1="-109.0" y1="-226.5" x2="1135.9" y2="1056.8"/>
<line x1="-120.9" y1="-217.3" x2="1126.7" y2="1073.0"/>
<line x1="-94.7" y1="-211.8" x2="1125.2" y2="1037.2"/>
<line x1="-110.1" y1="-197.6" x2="1112.4" y2="1058.2"/>
<line x1="-74.3" y1="-192.9" x2="1109.9" y2="1012.0"/>
<line x1="-94.3" y1="-170.9" x2="1091.3" y2="1038.2"/>
<line x1="-37.3" y1="-157.5" x2="1082.2" y2="964.9"/>
<line x1="-61.5" y1="-126.1" x2="1047.5" y2="1004.6"/>
<line x1="35.8" y1="-97.4" x2="1027.3" y2="884.7"/>
<line x1="-11.1" y1="-49.1" x2="980.4" y2="946.8"/>
</g></g>
<rect x="409.5" y="319.7" width="196.89999999999998" height="204.90000000000003" fill="none" stroke="#666" stroke-width="0.8"/>
<g stroke="#666" stroke-width="0.7">
<line x1="413.8" y1="524.6" x2="413.8" y2="523.4"/>
<line x1="413.8" y1="319.7" x2="413.8" y2="320.9"/>
<line x1="409.5" y1="520.0" x2="410.7" y2="520.0"/>
<line x1="606.4" y1="520.0" x2="605.1999999999999" y2="520.0"/>
<line x1="423.2" y1="524.6" x2="423.2" y2="523.4"/>
<line x1="423.2" y1="319.7" x2="423.2" y2="320.9"/>
<line x1="409.5" y1="510.2" x2="410.7" y2="510.2"/>
<line x1="606.4" y1="510.2" x2="605.1999999999999" y2="510.2"/>
<line x1="432.7" y1="524.6" x2="432.7" y2="522.4"/>
<line x1="432.7" y1="319.7" x2="432.7" y2="321.9"/>
<line x1="409.5" y1="500.4" x2="411.7" y2="500.4"/>
<line x1="606.4" y1="500.4" x2="604.1999999999999" y2="500.4"/>
<line x1="442.1" y1="524.6" x2="442.1" y2="523.4"/>
<line x1="442.1" y1="319.7" x2="442.1" y2="320.9"/>
<line x1="409.5" y1="490.5" x2="410.7" y2="490.5"/>
<line x1="606.4" y1="490.5" x2="605.1999999999999" y2="490.5"/>
<line x1="451.5" y1="524.6" x2="451.5" y2="523.4"/>
<line x1="451.5" y1="319.7" x2="451.5" y2="320.9"/>
<line x1="409.5" y1="480.7" x2="410.7" y2="480.7"/>
<line x1="606.4" y1="480.7" x2="605.1999999999999" y2="480.7"/>
<line x1="460.9" y1="524.6" x2="460.9" y2="523.4"/>
<line x1="460.9" y1="319.7" x2="460.9" y2="320.9"/>
<line x1="409.5" y1="470.9" x2="410.7" y2="470.9"/>
<line x1="606.4" y1="470.9" x2="605.1999999999999" y2="470.9"/>
<line x1="470.4" y1="524.6" x2="470.4" y2="522.4"/>
<line x1="470.4" y1="319.7" x2="470.4" y2="321.9"/>
<line x1="409.5" y1="461.1" x2="411.7" y2="461.1"/>
<line x1="606.4" y1="461.1" x2="604.1999999999999" y2="461.1"/>
<line x1="479.8" y1="524.6" x2="479.8" y2="523.4"/>
<line x1="479.8" y1="319.7" x2="479.8" y2="320.9"/>
<line x1="409.5" y1="451.2" x2="410.7" y2="451.2"/>
<line x1="606.4" y1="451.2" x2="605.1999999999999" y2="451.2"/>
<line x1="489.2" y1="524.6" x2="489.2" y2="523.4"/>
<line x1="489.2" y1="319.7" x2="489.2" y2="320.9"/>
<line x1="409.5" y1="441.4" x2="410.7" y2="441.4"/>
<line x1="606.4" y1="441.4" x2="605.1999999999999" y2="441.4"/>
<line x1="498.7" y1="524.6" x2="498.7" y2="523.4"/>
<line x1="498.7" y1="319.7" x2="498.7" y2="320.9"/>
<line x1="409.5" y1="431.6" x2="410.7" y2="431.6"/>
<line x1="606.4" y1="431.6" x2="605.1999999999999" y2="431.6"/>
<line x1="508.1" y1="524.6" x2="508.1" y2="522.4"/>
<line x1="508.1" y1="319.7" x2="508.1" y2="321.9"/>
<line x1="409.5" y1="421.8" x2="411.7" y2="421.8"/>
<line x1="606.4" y1="421.8" x2="604.1999999999999" y2="421.8"/>
<line x1="517.5" y1="524.6" x2="517.5" y2="523.4"/>
<line x1="517.5" y1="319.7" x2="517.5" y2="320.9"/>
<line x1="409.5" y1="411.9" x2="410.7" y2="411.9"/>
<line x1="606.4" y1="411.9" x2="605.1999999999999" y2="411.9"/>
<line x1="527.0" y1="524.6" x2="527.0" y2="523.4"/>
<line x1="527.0" y1="319.7" x2="527.0" y2="320.9"/>
<line x1="409.5" y1="402.1" x2="410.7" y2="402.1"/>
<line x1="606.4" y1="402.1" x2="605.1999999999999" y2="402.1"/>
<line x1="536.4" y1="524.6" x2="536.4" y2="523.4"/>
<line x1="536.4" y1="319.7" x2="536.4" y2="320.9"/>
<line x1="409.5" y1="392.3" x2="410.7" y2="392.3"/>
<line x1="606.4" y1="392.3" x2="605.1999999999999" y2="392.3"/>
<line x1="545.8" y1="524.6" x2="545.8" y2="522.4"/>
<line x1="545.8" y1="319.7" x2="545.8" y2="321.9"/>
<line x1="409.5" y1="382.5" x2="411.7" y2="382.5"/>
<line x1="606.4" y1="382.5" x2="604.1999999999999" y2="382.5"/>
<line x1="555.2" y1="524.6" x2="555.2" y2="523.4"/>
<line x1="555.2" y1="319.7" x2="555.2" y2="320.9"/>
<line x1="409.5" y1="372.6" x2="410.7" y2="372.6"/>
<line x1="606.4" y1="372.6" x2="605.1999999999999" y2="372.6"/>
<line x1="564.7" y1="524.6" x2="564.7" y2="523.4"/>
<line x1="564.7" y1="319.7" x2="564.7" y2="320.9"/>
<line x1="409.5" y1="362.8" x2="410.7" y2="362.8"/>
<line x1="606.4" y1="362.8" x2="605.1999999999999" y2="362.8"/>
<line x1="574.1" y1="524.6" x2="574.1" y2="523.4"/>
<line x1="574.1" y1="319.7" x2="574.1" y2="320.9"/>
<line x1="409.5" y1="353.0" x2="410.7" y2="353.0"/>
<line x1="606.4" y1="353.0" x2="605.1999999999999" y2="353.0"/>
<line x1="583.5" y1="524.6" x2="583.5" y2="522.4"/>
<line x1="583.5" y1="319.7" x2="583.5" y2="321.9"/>
<line x1="409.5" y1="343.1" x2="411.7" y2="343.1"/>
<line x1="606.4" y1="343.1" x2="604.1999999999999" y2="343.1"/>
<line x1="593.0" y1="524.6" x2="593.0" y2="523.4"/>
<line x1="593.0" y1="319.7" x2="593.0" y2="320.9"/>
<line x1="409.5" y1="333.3" x2="410.7" y2="333.3"/>
<line x1="606.4" y1="333.3" x2="605.1999999999999" y2="333.3"/>
<line x1="602.4" y1="524.6" x2="602.4" y2="523.4"/>
<line x1="602.4" y1="319.7" x2="602.4" y2="320.9"/>
<line x1="409.5" y1="323.5" x2="410.7" y2="323.5"/>
<line x1="606.4" y1="323.5" x2="605.1999999999999" y2="323.5"/>
</g>
<text x="432.7" y="533.6" font-family="Liberation Sans, sans-serif" font-size="8" text-anchor="middle" fill="#606060" font-weight="normal" font-style="normal">−4</text>
<text x="407.3" y="502.6" font-family="Liberation Sans, sans-serif" font-size="8" text-anchor="end" fill="#606060" font-weight="normal" font-style="normal">−4</text>
<text x="470.4" y="533.6" font-family="Liberation Sans, sans-serif" font-size="8" text-anchor="middle" fill="#606060" font-weight="normal" font-style="normal">−2</text>
<text x="407.3" y="463.2" font-family="Liberation Sans, sans-serif" font-size="8" text-anchor="end" fill="#606060" font-weight="normal" font-style="normal">−2</text>
<text x="508.1" y="533.6" font-family="Liberation Sans, sans-serif" font-size="8" text-anchor="middle" fill="#606060" font-weight="normal" font-style="normal">0</text>
<text x="407.3" y="423.9" font-family="Liberation Sans, sans-serif" font-size="8" text-anchor="end" fill="#606060" font-weight="normal" font-style="normal">0</text>
<text x="545.8" y="533.6" font-family="Liberation Sans, sans-serif" font-size="8" text-anchor="middle" fill="#606060" font-weight="normal" font-style="normal">2</text>
<text x="407.3" y="384.7" font-family="Liberation Sans, sans-serif" font-size="8" text-anchor="end" fill="#606060" font-weight="normal" font-style="normal">2</text>
<text x="583.5" y="533.6" font-family="Liberation Sans, sans-serif" font-size="8" text-anchor="middle" fill="#606060" font-weight="normal" font-style="normal">4</text>
<text x="407.3" y="345.3" font-family="Liberation Sans, sans-serif" font-size="8" text-anchor="end" fill="#606060" font-weight="normal" font-style="normal">4</text>
<text x="507.5" y="550.8" font-family="Liberation Sans, sans-serif" font-size="10" text-anchor="middle" fill="#000" font-weight="bold" font-style="italic">x</text>
<text transform="translate(390.5,420.6) rotate(-90)" font-family="Liberation Sans, sans-serif" font-size="10" font-weight="bold" font-style="italic" text-anchor="middle">t</text>
<rect x="637.6" y="510.53" width="11.0" height="26.98" fill="#7a0082"/>
<rect x="637.6" y="483.85" width="11.0" height="26.98" fill="#a0288a"/>
<rect x="637.6" y="457.18" width="11.0" height="26.98" fill="#c4478a"/>
<rect x="637.6" y="430.50" width="11.0" height="26.98" fill="#df6486"/>
<rect x="637.6" y="403.83" width="11.0" height="26.98" fill="#fb8686"/>
<rect x="637.6" y="377.15" width="11.0" height="26.98" fill="#fd8468"/>
<rect x="637.6" y="350.48" width="11.0" height="26.98" fill="#fc8045"/>
<rect x="637.6" y="323.80" width="11.0" height="26.98" fill="#fd8330"/>
<g stroke="#3a2a2a" stroke-opacity="0.75" stroke-width="0.6">
<line x1="637.6" y1="510.5" x2="651.2" y2="510.5"/>
<line x1="637.6" y1="483.9" x2="648.6" y2="483.9"/>
<line x1="637.6" y1="457.2" x2="651.2" y2="457.2"/>
<line x1="637.6" y1="430.5" x2="648.6" y2="430.5"/>
<line x1="637.6" y1="403.8" x2="651.2" y2="403.8"/>
<line x1="637.6" y1="377.2" x2="648.6" y2="377.2"/>
<line x1="637.6" y1="350.5" x2="651.2" y2="350.5"/>
</g>
<text x="653.0" y="513.1" font-family="Liberation Sans, sans-serif" font-size="7.2" text-anchor="start" fill="#555" font-weight="normal" font-style="normal">2</text>
<text x="653.0" y="459.8" font-family="Liberation Sans, sans-serif" font-size="7.2" text-anchor="start" fill="#555" font-weight="normal" font-style="normal">6</text>
<text x="653.0" y="406.4" font-family="Liberation Sans, sans-serif" font-size="7.2" text-anchor="start" fill="#555" font-weight="normal" font-style="normal">10</text>
<text x="653.0" y="353.1" font-family="Liberation Sans, sans-serif" font-size="7.2" text-anchor="start" fill="#555" font-weight="normal" font-style="normal">14</text>
<g fill="#3c3c3c">
<rect x="0" y="0" width="685" height="1.1"/><rect x="0" y="575.7" width="685" height="1.3"/>
<rect x="0" y="0" width="1.3" height="577"/><rect x="683.1" y="0" width="1.2" height="577"/>
<rect x="0" y="308" width="685" height="1"/><rect x="342" y="308" width="1" height="269"/>
</g>
</svg>
</body></html>
